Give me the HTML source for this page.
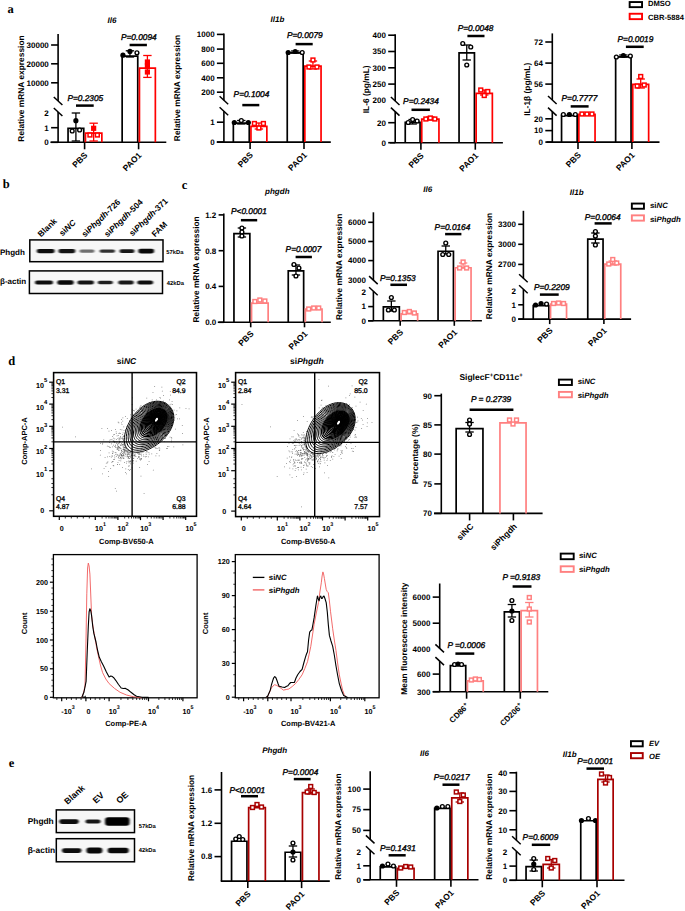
<!DOCTYPE html>
<html><head><meta charset="utf-8"><style>
html,body{margin:0;padding:0;background:#fff;width:685px;height:911px;overflow:hidden}
svg{display:block}
text{font-family:"Liberation Sans", sans-serif;text-rendering:geometricPrecision}
</style></head><body>
<svg width="685" height="911" viewBox="0 0 685 911">
<defs><filter id="bl" x="-30%" y="-80%" width="160%" height="260%"><feGaussianBlur stdDeviation="0.9 0.7"/></filter></defs>
<rect width="685" height="911" fill="#fff"/>
<text x="7.50" y="12.90" font-size="12.5" font-weight="bold" text-anchor="start" fill="#000" style='font-family:"Liberation Serif", serif'>a</text>
<text x="107.50" y="23.00" font-size="8" font-weight="bold" text-anchor="start" fill="#000" font-style="italic">Il6</text>
<line x1="58.10" y1="34.00" x2="58.10" y2="101.00" stroke="#000" stroke-width="1.6" stroke-linecap="butt"/>
<line x1="58.10" y1="112.00" x2="58.10" y2="142.30" stroke="#000" stroke-width="1.6" stroke-linecap="butt"/>
<line x1="53.80" y1="97.00" x2="62.40" y2="105.00" stroke="#000" stroke-width="1.5" stroke-linecap="butt"/>
<line x1="53.80" y1="108.00" x2="62.40" y2="116.00" stroke="#000" stroke-width="1.5" stroke-linecap="butt"/>
<line x1="51.10" y1="45.00" x2="58.10" y2="45.00" stroke="#000" stroke-width="1.6" stroke-linecap="butt"/>
<text x="48.80" y="47.88" font-size="8" font-weight="bold" text-anchor="end" fill="#000">30000</text>
<line x1="51.10" y1="63.80" x2="58.10" y2="63.80" stroke="#000" stroke-width="1.6" stroke-linecap="butt"/>
<text x="48.80" y="66.68" font-size="8" font-weight="bold" text-anchor="end" fill="#000">20000</text>
<line x1="51.10" y1="82.80" x2="58.10" y2="82.80" stroke="#000" stroke-width="1.6" stroke-linecap="butt"/>
<text x="48.80" y="85.68" font-size="8" font-weight="bold" text-anchor="end" fill="#000">10000</text>
<text x="48.80" y="116.38" font-size="8" font-weight="bold" text-anchor="end" fill="#000">2</text>
<line x1="51.10" y1="127.70" x2="58.10" y2="127.70" stroke="#000" stroke-width="1.6" stroke-linecap="butt"/>
<text x="48.80" y="130.58" font-size="8" font-weight="bold" text-anchor="end" fill="#000">1</text>
<line x1="51.10" y1="142.30" x2="58.10" y2="142.30" stroke="#000" stroke-width="1.6" stroke-linecap="butt"/>
<text x="48.80" y="145.18" font-size="8" font-weight="bold" text-anchor="end" fill="#000">0</text>
<line x1="50.40" y1="142.30" x2="166.30" y2="142.30" stroke="#000" stroke-width="1.6" stroke-linecap="butt"/>
<line x1="84.60" y1="142.30" x2="84.60" y2="149.30" stroke="#000" stroke-width="1.6" stroke-linecap="butt"/>
<line x1="138.60" y1="142.30" x2="138.60" y2="149.30" stroke="#000" stroke-width="1.6" stroke-linecap="butt"/>
<path d="M68.05,142.30 V128.35 H83.75 V142.30" stroke="#000" stroke-width="1.7" fill="none"/>
<line x1="75.90" y1="113.00" x2="75.90" y2="141.00" stroke="#000" stroke-width="1.3" stroke-linecap="butt"/>
<line x1="71.70" y1="113.00" x2="80.10" y2="113.00" stroke="#000" stroke-width="1.3" stroke-linecap="butt"/>
<line x1="71.70" y1="141.00" x2="80.10" y2="141.00" stroke="#000" stroke-width="1.3" stroke-linecap="butt"/>
<circle cx="75.90" cy="120.70" r="2.6" fill="#000"/>
<circle cx="72.20" cy="131.00" r="1.90" fill="#fff" stroke="#000" stroke-width="1.4"/>
<circle cx="79.60" cy="130.00" r="1.90" fill="#fff" stroke="#000" stroke-width="1.4"/>
<path d="M85.45,142.30 V133.15 H101.85 V142.30" stroke="#ff0000" stroke-width="1.7" fill="none"/>
<line x1="93.65" y1="123.20" x2="93.65" y2="141.00" stroke="#ff0000" stroke-width="1.3" stroke-linecap="butt"/>
<line x1="89.45" y1="123.20" x2="97.85" y2="123.20" stroke="#ff0000" stroke-width="1.3" stroke-linecap="butt"/>
<line x1="89.45" y1="141.00" x2="97.85" y2="141.00" stroke="#ff0000" stroke-width="1.3" stroke-linecap="butt"/>
<rect x="91.05" y="125.70" width="5.2" height="5.2" fill="#ff0000"/>
<rect x="88.05" y="133.10" width="3.80" height="3.80" fill="#fff" stroke="#ff0000" stroke-width="1.5"/>
<rect x="95.45" y="133.10" width="3.80" height="3.80" fill="#fff" stroke="#ff0000" stroke-width="1.5"/>
<path d="M122.15,142.30 V56.05 H137.75 V142.30" stroke="#000" stroke-width="1.7" fill="none"/>
<line x1="129.95" y1="50.80" x2="129.95" y2="57.00" stroke="#000" stroke-width="1.3" stroke-linecap="butt"/>
<line x1="125.75" y1="50.80" x2="134.15" y2="50.80" stroke="#000" stroke-width="1.3" stroke-linecap="butt"/>
<line x1="125.75" y1="57.00" x2="134.15" y2="57.00" stroke="#000" stroke-width="1.3" stroke-linecap="butt"/>
<circle cx="122.95" cy="55.20" r="2.6" fill="#000"/>
<circle cx="129.95" cy="51.40" r="2.6" fill="#000"/>
<circle cx="136.95" cy="52.80" r="1.90" fill="#fff" stroke="#000" stroke-width="1.4"/>
<path d="M139.45,142.30 V68.05 H155.35 V142.30" stroke="#ff0000" stroke-width="1.7" fill="none"/>
<line x1="147.40" y1="55.50" x2="147.40" y2="77.40" stroke="#ff0000" stroke-width="1.3" stroke-linecap="butt"/>
<line x1="143.20" y1="55.50" x2="151.60" y2="55.50" stroke="#ff0000" stroke-width="1.3" stroke-linecap="butt"/>
<line x1="143.20" y1="77.40" x2="151.60" y2="77.40" stroke="#ff0000" stroke-width="1.3" stroke-linecap="butt"/>
<rect x="144.80" y="59.40" width="5.2" height="5.2" fill="#ff0000"/>
<rect x="144.80" y="63.40" width="5.2" height="5.2" fill="#ff0000"/>
<rect x="144.80" y="69.40" width="5.2" height="5.2" fill="#ff0000"/>
<line x1="76.00" y1="105.60" x2="93.70" y2="105.60" stroke="#000" stroke-width="2.5" stroke-linecap="butt"/>
<text x="67.40" y="101.00" font-size="8.3" font-weight="normal" text-anchor="start" fill="#000" stroke="#000" stroke-width="0.35" font-style="italic">P=0.2305</text>
<line x1="129.60" y1="45.00" x2="146.90" y2="45.00" stroke="#000" stroke-width="2.5" stroke-linecap="butt"/>
<text x="120.90" y="40.10" font-size="8.3" font-weight="normal" text-anchor="start" fill="#000" stroke="#000" stroke-width="0.35" font-style="italic">P=0.0094</text>
<text x="23.92" y="88.50" font-size="8.4" font-weight="bold" text-anchor="middle" fill="#000" transform="rotate(-90 23.92 88.50)">Relative mRNA expression</text>
<text x="88.10" y="155.80" font-size="8.5" font-weight="bold" text-anchor="end" fill="#000" transform="rotate(-45 88.10 155.80)">PBS</text>
<text x="142.10" y="155.80" font-size="8.5" font-weight="bold" text-anchor="end" fill="#000" transform="rotate(-45 142.10 155.80)">PAO1</text>
<text x="270.60" y="22.30" font-size="8" font-weight="bold" text-anchor="start" fill="#000" font-style="italic">Il1b</text>
<line x1="223.90" y1="33.60" x2="223.90" y2="100.30" stroke="#000" stroke-width="1.6" stroke-linecap="butt"/>
<line x1="223.90" y1="111.30" x2="223.90" y2="142.10" stroke="#000" stroke-width="1.6" stroke-linecap="butt"/>
<line x1="219.60" y1="96.30" x2="228.20" y2="104.30" stroke="#000" stroke-width="1.5" stroke-linecap="butt"/>
<line x1="219.60" y1="107.30" x2="228.20" y2="115.30" stroke="#000" stroke-width="1.5" stroke-linecap="butt"/>
<line x1="216.90" y1="34.40" x2="223.90" y2="34.40" stroke="#000" stroke-width="1.6" stroke-linecap="butt"/>
<text x="214.60" y="37.28" font-size="8" font-weight="bold" text-anchor="end" fill="#000">1000</text>
<line x1="216.90" y1="49.10" x2="223.90" y2="49.10" stroke="#000" stroke-width="1.6" stroke-linecap="butt"/>
<text x="214.60" y="51.98" font-size="8" font-weight="bold" text-anchor="end" fill="#000">800</text>
<line x1="216.90" y1="63.30" x2="223.90" y2="63.30" stroke="#000" stroke-width="1.6" stroke-linecap="butt"/>
<text x="214.60" y="66.18" font-size="8" font-weight="bold" text-anchor="end" fill="#000">600</text>
<line x1="216.90" y1="77.80" x2="223.90" y2="77.80" stroke="#000" stroke-width="1.6" stroke-linecap="butt"/>
<text x="214.60" y="80.68" font-size="8" font-weight="bold" text-anchor="end" fill="#000">400</text>
<line x1="216.90" y1="92.20" x2="223.90" y2="92.20" stroke="#000" stroke-width="1.6" stroke-linecap="butt"/>
<text x="214.60" y="95.08" font-size="8" font-weight="bold" text-anchor="end" fill="#000">200</text>
<line x1="216.90" y1="122.20" x2="223.90" y2="122.20" stroke="#000" stroke-width="1.6" stroke-linecap="butt"/>
<text x="214.60" y="125.08" font-size="8" font-weight="bold" text-anchor="end" fill="#000">1</text>
<line x1="216.90" y1="142.10" x2="223.90" y2="142.10" stroke="#000" stroke-width="1.6" stroke-linecap="butt"/>
<text x="214.60" y="144.98" font-size="8" font-weight="bold" text-anchor="end" fill="#000">0</text>
<line x1="216.80" y1="142.10" x2="330.80" y2="142.10" stroke="#000" stroke-width="1.6" stroke-linecap="butt"/>
<line x1="250.10" y1="142.10" x2="250.10" y2="149.10" stroke="#000" stroke-width="1.6" stroke-linecap="butt"/>
<line x1="304.00" y1="142.10" x2="304.00" y2="149.10" stroke="#000" stroke-width="1.6" stroke-linecap="butt"/>
<path d="M233.35,142.10 V123.05 H249.25 V142.10" stroke="#000" stroke-width="1.7" fill="none"/>
<line x1="241.30" y1="120.50" x2="241.30" y2="124.00" stroke="#000" stroke-width="1.3" stroke-linecap="butt"/>
<line x1="237.10" y1="120.50" x2="245.50" y2="120.50" stroke="#000" stroke-width="1.3" stroke-linecap="butt"/>
<line x1="237.10" y1="124.00" x2="245.50" y2="124.00" stroke="#000" stroke-width="1.3" stroke-linecap="butt"/>
<circle cx="234.30" cy="122.50" r="2.6" fill="#000"/>
<circle cx="241.30" cy="120.50" r="1.90" fill="#fff" stroke="#000" stroke-width="1.4"/>
<circle cx="248.30" cy="122.50" r="2.6" fill="#000"/>
<path d="M250.95,142.10 V126.45 H266.85 V142.10" stroke="#ff0000" stroke-width="1.7" fill="none"/>
<line x1="258.90" y1="123.00" x2="258.90" y2="129.00" stroke="#ff0000" stroke-width="1.3" stroke-linecap="butt"/>
<line x1="254.70" y1="123.00" x2="263.10" y2="123.00" stroke="#ff0000" stroke-width="1.3" stroke-linecap="butt"/>
<line x1="254.70" y1="129.00" x2="263.10" y2="129.00" stroke="#ff0000" stroke-width="1.3" stroke-linecap="butt"/>
<rect x="252.50" y="121.60" width="3.80" height="3.80" fill="#fff" stroke="#ff0000" stroke-width="1.5"/>
<rect x="257.00" y="126.10" width="3.80" height="3.80" fill="#fff" stroke="#ff0000" stroke-width="1.5"/>
<rect x="261.50" y="121.60" width="3.80" height="3.80" fill="#fff" stroke="#ff0000" stroke-width="1.5"/>
<path d="M287.25,142.10 V52.85 H303.15 V142.10" stroke="#000" stroke-width="1.7" fill="none"/>
<line x1="295.20" y1="51.00" x2="295.20" y2="53.00" stroke="#000" stroke-width="1.3" stroke-linecap="butt"/>
<line x1="291.00" y1="51.00" x2="299.40" y2="51.00" stroke="#000" stroke-width="1.3" stroke-linecap="butt"/>
<line x1="291.00" y1="53.00" x2="299.40" y2="53.00" stroke="#000" stroke-width="1.3" stroke-linecap="butt"/>
<circle cx="288.20" cy="52.50" r="2.6" fill="#000"/>
<circle cx="295.20" cy="51.50" r="2.6" fill="#000"/>
<circle cx="302.20" cy="52.50" r="1.90" fill="#fff" stroke="#000" stroke-width="1.4"/>
<path d="M304.85,142.10 V66.05 H321.05 V142.10" stroke="#ff0000" stroke-width="1.7" fill="none"/>
<line x1="312.95" y1="61.00" x2="312.95" y2="69.00" stroke="#ff0000" stroke-width="1.3" stroke-linecap="butt"/>
<line x1="308.75" y1="61.00" x2="317.15" y2="61.00" stroke="#ff0000" stroke-width="1.3" stroke-linecap="butt"/>
<line x1="308.75" y1="69.00" x2="317.15" y2="69.00" stroke="#ff0000" stroke-width="1.3" stroke-linecap="butt"/>
<rect x="311.05" y="58.10" width="3.80" height="3.80" fill="#fff" stroke="#ff0000" stroke-width="1.5"/>
<rect x="307.05" y="65.10" width="3.80" height="3.80" fill="#fff" stroke="#ff0000" stroke-width="1.5"/>
<rect x="315.05" y="65.10" width="3.80" height="3.80" fill="#fff" stroke="#ff0000" stroke-width="1.5"/>
<line x1="242.30" y1="105.10" x2="259.30" y2="105.10" stroke="#000" stroke-width="2.5" stroke-linecap="butt"/>
<text x="233.60" y="96.70" font-size="8.3" font-weight="normal" text-anchor="start" fill="#000" stroke="#000" stroke-width="0.35" font-style="italic">P=0.1004</text>
<line x1="295.60" y1="44.10" x2="312.70" y2="44.10" stroke="#000" stroke-width="2.5" stroke-linecap="butt"/>
<text x="286.90" y="37.60" font-size="8.3" font-weight="normal" text-anchor="start" fill="#000" stroke="#000" stroke-width="0.35" font-style="italic">P=0.0079</text>
<text x="180.42" y="88.00" font-size="8.4" font-weight="bold" text-anchor="middle" fill="#000" transform="rotate(-90 180.42 88.00)">Relative mRNA expression</text>
<text x="253.60" y="155.60" font-size="8.5" font-weight="bold" text-anchor="end" fill="#000" transform="rotate(-45 253.60 155.60)">PBS</text>
<text x="307.50" y="155.60" font-size="8.5" font-weight="bold" text-anchor="end" fill="#000" transform="rotate(-45 307.50 155.60)">PAO1</text>
<line x1="395.20" y1="34.20" x2="395.20" y2="101.00" stroke="#000" stroke-width="1.6" stroke-linecap="butt"/>
<line x1="395.20" y1="111.60" x2="395.20" y2="142.70" stroke="#000" stroke-width="1.6" stroke-linecap="butt"/>
<line x1="390.90" y1="97.00" x2="399.50" y2="105.00" stroke="#000" stroke-width="1.5" stroke-linecap="butt"/>
<line x1="390.90" y1="107.60" x2="399.50" y2="115.60" stroke="#000" stroke-width="1.5" stroke-linecap="butt"/>
<line x1="388.20" y1="35.20" x2="395.20" y2="35.20" stroke="#000" stroke-width="1.6" stroke-linecap="butt"/>
<text x="385.90" y="38.08" font-size="8" font-weight="bold" text-anchor="end" fill="#000">400</text>
<line x1="388.20" y1="51.50" x2="395.20" y2="51.50" stroke="#000" stroke-width="1.6" stroke-linecap="butt"/>
<text x="385.90" y="54.38" font-size="8" font-weight="bold" text-anchor="end" fill="#000">350</text>
<line x1="388.20" y1="67.80" x2="395.20" y2="67.80" stroke="#000" stroke-width="1.6" stroke-linecap="butt"/>
<text x="385.90" y="70.68" font-size="8" font-weight="bold" text-anchor="end" fill="#000">300</text>
<line x1="388.20" y1="84.10" x2="395.20" y2="84.10" stroke="#000" stroke-width="1.6" stroke-linecap="butt"/>
<text x="385.90" y="86.98" font-size="8" font-weight="bold" text-anchor="end" fill="#000">250</text>
<text x="385.90" y="103.28" font-size="8" font-weight="bold" text-anchor="end" fill="#000">200</text>
<line x1="388.20" y1="122.70" x2="395.20" y2="122.70" stroke="#000" stroke-width="1.6" stroke-linecap="butt"/>
<text x="385.90" y="125.58" font-size="8" font-weight="bold" text-anchor="end" fill="#000">20</text>
<line x1="388.20" y1="142.70" x2="395.20" y2="142.70" stroke="#000" stroke-width="1.6" stroke-linecap="butt"/>
<text x="385.90" y="145.58" font-size="8" font-weight="bold" text-anchor="end" fill="#000">0</text>
<line x1="389.90" y1="142.70" x2="502.90" y2="142.70" stroke="#000" stroke-width="1.6" stroke-linecap="butt"/>
<line x1="420.90" y1="142.70" x2="420.90" y2="149.70" stroke="#000" stroke-width="1.6" stroke-linecap="butt"/>
<line x1="475.30" y1="142.70" x2="475.30" y2="149.70" stroke="#000" stroke-width="1.6" stroke-linecap="butt"/>
<path d="M405.25,142.70 V122.45 H420.05 V142.70" stroke="#000" stroke-width="1.7" fill="none"/>
<line x1="412.65" y1="119.50" x2="412.65" y2="124.00" stroke="#000" stroke-width="1.3" stroke-linecap="butt"/>
<line x1="408.45" y1="119.50" x2="416.85" y2="119.50" stroke="#000" stroke-width="1.3" stroke-linecap="butt"/>
<line x1="408.45" y1="124.00" x2="416.85" y2="124.00" stroke="#000" stroke-width="1.3" stroke-linecap="butt"/>
<circle cx="408.15" cy="122.50" r="1.90" fill="#fff" stroke="#000" stroke-width="1.4"/>
<circle cx="412.65" cy="119.50" r="1.90" fill="#fff" stroke="#000" stroke-width="1.4"/>
<circle cx="417.15" cy="121.00" r="1.90" fill="#fff" stroke="#000" stroke-width="1.4"/>
<path d="M421.75,142.70 V119.05 H438.95 V142.70" stroke="#ff0000" stroke-width="1.7" fill="none"/>
<line x1="430.35" y1="117.00" x2="430.35" y2="120.00" stroke="#ff0000" stroke-width="1.3" stroke-linecap="butt"/>
<line x1="426.15" y1="117.00" x2="434.55" y2="117.00" stroke="#ff0000" stroke-width="1.3" stroke-linecap="butt"/>
<line x1="426.15" y1="120.00" x2="434.55" y2="120.00" stroke="#ff0000" stroke-width="1.3" stroke-linecap="butt"/>
<rect x="423.95" y="117.10" width="3.80" height="3.80" fill="#fff" stroke="#ff0000" stroke-width="1.5"/>
<rect x="428.45" y="116.10" width="3.80" height="3.80" fill="#fff" stroke="#ff0000" stroke-width="1.5"/>
<rect x="432.95" y="117.10" width="3.80" height="3.80" fill="#fff" stroke="#ff0000" stroke-width="1.5"/>
<path d="M459.05,142.70 V52.85 H474.45 V142.70" stroke="#000" stroke-width="1.7" fill="none"/>
<line x1="466.75" y1="45.00" x2="466.75" y2="60.00" stroke="#000" stroke-width="1.3" stroke-linecap="butt"/>
<line x1="462.55" y1="45.00" x2="470.95" y2="45.00" stroke="#000" stroke-width="1.3" stroke-linecap="butt"/>
<line x1="462.55" y1="60.00" x2="470.95" y2="60.00" stroke="#000" stroke-width="1.3" stroke-linecap="butt"/>
<circle cx="462.75" cy="43.50" r="1.90" fill="#fff" stroke="#000" stroke-width="1.4"/>
<circle cx="470.75" cy="47.00" r="1.90" fill="#fff" stroke="#000" stroke-width="1.4"/>
<circle cx="466.75" cy="65.00" r="1.90" fill="#fff" stroke="#000" stroke-width="1.4"/>
<path d="M476.15,142.70 V93.35 H492.35 V142.70" stroke="#ff0000" stroke-width="1.7" fill="none"/>
<line x1="484.25" y1="90.00" x2="484.25" y2="95.00" stroke="#ff0000" stroke-width="1.3" stroke-linecap="butt"/>
<line x1="480.05" y1="90.00" x2="488.45" y2="90.00" stroke="#ff0000" stroke-width="1.3" stroke-linecap="butt"/>
<line x1="480.05" y1="95.00" x2="488.45" y2="95.00" stroke="#ff0000" stroke-width="1.3" stroke-linecap="butt"/>
<rect x="478.85" y="88.10" width="3.80" height="3.80" fill="#fff" stroke="#ff0000" stroke-width="1.5"/>
<rect x="485.85" y="89.60" width="3.80" height="3.80" fill="#fff" stroke="#ff0000" stroke-width="1.5"/>
<rect x="482.35" y="93.60" width="3.80" height="3.80" fill="#fff" stroke="#ff0000" stroke-width="1.5"/>
<line x1="411.50" y1="109.80" x2="429.90" y2="109.80" stroke="#000" stroke-width="2.5" stroke-linecap="butt"/>
<text x="403.10" y="104.30" font-size="8.3" font-weight="normal" text-anchor="start" fill="#000" stroke="#000" stroke-width="0.35" font-style="italic">P=0.2434</text>
<line x1="467.40" y1="36.00" x2="484.50" y2="36.00" stroke="#000" stroke-width="2.5" stroke-linecap="butt"/>
<text x="457.70" y="31.00" font-size="8.3" font-weight="normal" text-anchor="start" fill="#000" stroke="#000" stroke-width="0.35" font-style="italic">P=0.0048</text>
<text x="368.52" y="89.30" font-size="8.4" font-weight="bold" text-anchor="middle" fill="#000" transform="rotate(-90 368.52 89.30)">IL-6 (pg/mL)</text>
<text x="424.40" y="156.20" font-size="8.5" font-weight="bold" text-anchor="end" fill="#000" transform="rotate(-45 424.40 156.20)">PBS</text>
<text x="478.80" y="156.20" font-size="8.5" font-weight="bold" text-anchor="end" fill="#000" transform="rotate(-45 478.80 156.20)">PAO1</text>
<line x1="552.30" y1="33.40" x2="552.30" y2="100.00" stroke="#000" stroke-width="1.6" stroke-linecap="butt"/>
<line x1="552.30" y1="111.60" x2="552.30" y2="142.10" stroke="#000" stroke-width="1.6" stroke-linecap="butt"/>
<line x1="548.00" y1="96.00" x2="556.60" y2="104.00" stroke="#000" stroke-width="1.5" stroke-linecap="butt"/>
<line x1="548.00" y1="107.60" x2="556.60" y2="115.60" stroke="#000" stroke-width="1.5" stroke-linecap="butt"/>
<line x1="545.30" y1="42.00" x2="552.30" y2="42.00" stroke="#000" stroke-width="1.6" stroke-linecap="butt"/>
<text x="543.00" y="44.88" font-size="8" font-weight="bold" text-anchor="end" fill="#000">72</text>
<line x1="545.30" y1="63.10" x2="552.30" y2="63.10" stroke="#000" stroke-width="1.6" stroke-linecap="butt"/>
<text x="543.00" y="65.98" font-size="8" font-weight="bold" text-anchor="end" fill="#000">64</text>
<line x1="545.30" y1="84.10" x2="552.30" y2="84.10" stroke="#000" stroke-width="1.6" stroke-linecap="butt"/>
<text x="543.00" y="86.98" font-size="8" font-weight="bold" text-anchor="end" fill="#000">56</text>
<line x1="545.30" y1="118.80" x2="552.30" y2="118.80" stroke="#000" stroke-width="1.6" stroke-linecap="butt"/>
<text x="543.00" y="121.68" font-size="8" font-weight="bold" text-anchor="end" fill="#000">20</text>
<line x1="545.30" y1="130.60" x2="552.30" y2="130.60" stroke="#000" stroke-width="1.6" stroke-linecap="butt"/>
<text x="543.00" y="133.48" font-size="8" font-weight="bold" text-anchor="end" fill="#000">10</text>
<line x1="545.30" y1="142.10" x2="552.30" y2="142.10" stroke="#000" stroke-width="1.6" stroke-linecap="butt"/>
<text x="543.00" y="144.98" font-size="8" font-weight="bold" text-anchor="end" fill="#000">0</text>
<line x1="546.50" y1="142.10" x2="659.50" y2="142.10" stroke="#000" stroke-width="1.6" stroke-linecap="butt"/>
<line x1="578.00" y1="142.10" x2="578.00" y2="149.10" stroke="#000" stroke-width="1.6" stroke-linecap="butt"/>
<line x1="631.90" y1="142.10" x2="631.90" y2="149.10" stroke="#000" stroke-width="1.6" stroke-linecap="butt"/>
<path d="M561.55,142.10 V115.65 H577.15 V142.10" stroke="#000" stroke-width="1.7" fill="none"/>
<circle cx="563.35" cy="114.50" r="1.90" fill="#fff" stroke="#000" stroke-width="1.4"/>
<circle cx="569.35" cy="114.50" r="2.6" fill="#000"/>
<circle cx="575.35" cy="114.50" r="1.90" fill="#fff" stroke="#000" stroke-width="1.4"/>
<path d="M578.85,142.10 V114.35 H595.05 V142.10" stroke="#ff0000" stroke-width="1.7" fill="none"/>
<rect x="580.05" y="112.10" width="3.80" height="3.80" fill="#fff" stroke="#ff0000" stroke-width="1.5"/>
<rect x="585.05" y="112.10" width="3.80" height="3.80" fill="#fff" stroke="#ff0000" stroke-width="1.5"/>
<rect x="590.05" y="112.10" width="3.80" height="3.80" fill="#fff" stroke="#ff0000" stroke-width="1.5"/>
<path d="M615.65,142.10 V56.85 H631.05 V142.10" stroke="#000" stroke-width="1.7" fill="none"/>
<line x1="623.35" y1="55.00" x2="623.35" y2="57.00" stroke="#000" stroke-width="1.3" stroke-linecap="butt"/>
<line x1="619.15" y1="55.00" x2="627.55" y2="55.00" stroke="#000" stroke-width="1.3" stroke-linecap="butt"/>
<line x1="619.15" y1="57.00" x2="627.55" y2="57.00" stroke="#000" stroke-width="1.3" stroke-linecap="butt"/>
<circle cx="616.35" cy="57.00" r="1.90" fill="#fff" stroke="#000" stroke-width="1.4"/>
<circle cx="623.35" cy="55.50" r="2.6" fill="#000"/>
<circle cx="630.35" cy="56.00" r="1.90" fill="#fff" stroke="#000" stroke-width="1.4"/>
<path d="M632.75,142.10 V84.45 H648.65 V142.10" stroke="#ff0000" stroke-width="1.7" fill="none"/>
<line x1="640.70" y1="79.00" x2="640.70" y2="88.00" stroke="#ff0000" stroke-width="1.3" stroke-linecap="butt"/>
<line x1="636.50" y1="79.00" x2="644.90" y2="79.00" stroke="#ff0000" stroke-width="1.3" stroke-linecap="butt"/>
<line x1="636.50" y1="88.00" x2="644.90" y2="88.00" stroke="#ff0000" stroke-width="1.3" stroke-linecap="butt"/>
<rect x="638.80" y="74.60" width="3.80" height="3.80" fill="#fff" stroke="#ff0000" stroke-width="1.5"/>
<rect x="635.30" y="84.10" width="3.80" height="3.80" fill="#fff" stroke="#ff0000" stroke-width="1.5"/>
<rect x="642.30" y="83.10" width="3.80" height="3.80" fill="#fff" stroke="#ff0000" stroke-width="1.5"/>
<line x1="570.70" y1="106.40" x2="588.60" y2="106.40" stroke="#000" stroke-width="2.5" stroke-linecap="butt"/>
<text x="561.50" y="101.20" font-size="8.3" font-weight="normal" text-anchor="start" fill="#000" stroke="#000" stroke-width="0.35" font-style="italic">P=0.7777</text>
<line x1="625.90" y1="46.80" x2="643.70" y2="46.80" stroke="#000" stroke-width="2.5" stroke-linecap="butt"/>
<text x="617.50" y="42.00" font-size="8.3" font-weight="normal" text-anchor="start" fill="#000" stroke="#000" stroke-width="0.35" font-style="italic">P=0.0019</text>
<text x="530.32" y="89.30" font-size="8.4" font-weight="bold" text-anchor="middle" fill="#000" transform="rotate(-90 530.32 89.30)">IL-1β (pg/mL)</text>
<text x="581.50" y="155.60" font-size="8.5" font-weight="bold" text-anchor="end" fill="#000" transform="rotate(-45 581.50 155.60)">PBS</text>
<text x="635.40" y="155.60" font-size="8.5" font-weight="bold" text-anchor="end" fill="#000" transform="rotate(-45 635.40 155.60)">PAO1</text>
<rect x="629.65" y="2.05" width="12.40" height="5.10" stroke="#000" stroke-width="1.9" fill="none"/>
<text x="648.00" y="6.00" font-size="7.6" font-weight="bold" text-anchor="start" fill="#000">DMSO</text>
<rect x="629.65" y="13.75" width="12.40" height="5.40" stroke="#ff0000" stroke-width="1.9" fill="none"/>
<text x="648.00" y="20.00" font-size="7.6" font-weight="bold" text-anchor="start" fill="#000">CBR-5884</text>
<text x="2.70" y="187.70" font-size="12.5" font-weight="bold" text-anchor="start" fill="#000" style='font-family:"Liberation Serif", serif'>b</text>
<rect x="29.80" y="239.90" width="133.20" height="21.80" stroke="#000" stroke-width="1.5" fill="#f7f7f7"/>
<rect x="36.70" y="249.00" width="18.00" height="4.20" rx="2.10" fill="#000" fill-opacity="0.95" filter="url(#bl)"/>
<rect x="58.40" y="249.00" width="17.00" height="4.20" rx="2.10" fill="#000" fill-opacity="0.92" filter="url(#bl)"/>
<rect x="79.50" y="249.40" width="15.00" height="3.40" rx="1.70" fill="#000" fill-opacity="0.55" filter="url(#bl)"/>
<rect x="99.55" y="249.40" width="15.50" height="3.40" rx="1.70" fill="#000" fill-opacity="0.8" filter="url(#bl)"/>
<rect x="119.50" y="249.20" width="15.00" height="3.80" rx="1.90" fill="#000" fill-opacity="0.9" filter="url(#bl)"/>
<rect x="138.20" y="248.70" width="16.00" height="4.80" rx="2.40" fill="#000" fill-opacity="0.97" filter="url(#bl)"/>
<rect x="29.40" y="270.90" width="133.10" height="22.60" stroke="#000" stroke-width="1.5" fill="#f7f7f7"/>
<rect x="35.00" y="280.50" width="18.00" height="4.00" rx="2.00" fill="#000" fill-opacity="0.95" filter="url(#bl)"/>
<rect x="57.25" y="280.30" width="16.50" height="4.40" rx="2.20" fill="#000" fill-opacity="0.97" filter="url(#bl)"/>
<rect x="77.45" y="280.50" width="16.50" height="4.00" rx="2.00" fill="#000" fill-opacity="0.92" filter="url(#bl)"/>
<rect x="97.80" y="280.70" width="15.00" height="3.60" rx="1.80" fill="#000" fill-opacity="0.88" filter="url(#bl)"/>
<rect x="118.25" y="280.60" width="15.50" height="3.80" rx="1.90" fill="#000" fill-opacity="0.9" filter="url(#bl)"/>
<rect x="137.30" y="280.40" width="15.80" height="4.20" rx="2.10" fill="#000" fill-opacity="0.95" filter="url(#bl)"/>
<text x="0.00" y="254.50" font-size="8" font-weight="bold" text-anchor="start" fill="#000">Phgdh</text>
<text x="0.00" y="283.50" font-size="8" font-weight="bold" text-anchor="start" fill="#000">β-actin</text>
<text x="166.30" y="254.00" font-size="5.8" font-weight="bold" text-anchor="start" fill="#000">57kDa</text>
<text x="166.80" y="284.70" font-size="5.8" font-weight="bold" text-anchor="start" fill="#000">42kDa</text>
<text x="41.00" y="237.50" font-size="8.4" font-weight="bold" text-anchor="start" fill="#000" transform="rotate(-44 41.00 237.50)">Blank</text>
<text x="62.50" y="236.50" font-size="8.4" font-weight="bold" text-anchor="start" fill="#000" transform="rotate(-44 62.50 236.50)">si<tspan font-style="italic">NC</tspan></text>
<text x="85.00" y="237.50" font-size="8.4" font-weight="bold" text-anchor="start" fill="#000" transform="rotate(-44 85.00 237.50)">si<tspan font-style="italic">Phgdh</tspan>-726</text>
<text x="107.50" y="237.50" font-size="8.4" font-weight="bold" text-anchor="start" fill="#000" transform="rotate(-44 107.50 237.50)">si<tspan font-style="italic">Phgdh</tspan>-504</text>
<text x="132.50" y="236.50" font-size="8.4" font-weight="bold" text-anchor="start" fill="#000" transform="rotate(-44 132.50 236.50)">si<tspan font-style="italic">Phgdh</tspan>-371</text>
<text x="155.00" y="237.50" font-size="8.4" font-weight="bold" text-anchor="start" fill="#000" transform="rotate(-44 155.00 237.50)">FAM</text>
<text x="181.70" y="189.00" font-size="12.5" font-weight="bold" text-anchor="start" fill="#000" style='font-family:"Liberation Serif", serif'>c</text>
<text x="265.10" y="193.90" font-size="8" font-weight="bold" text-anchor="start" fill="#000" font-style="italic">phgdh</text>
<line x1="223.80" y1="213.60" x2="223.80" y2="322.30" stroke="#000" stroke-width="1.6" stroke-linecap="butt"/>
<line x1="218.60" y1="214.90" x2="223.80" y2="214.90" stroke="#000" stroke-width="1.6" stroke-linecap="butt"/>
<text x="216.30" y="217.78" font-size="8" font-weight="bold" text-anchor="end" fill="#000">1.2</text>
<line x1="218.60" y1="250.70" x2="223.80" y2="250.70" stroke="#000" stroke-width="1.6" stroke-linecap="butt"/>
<text x="216.30" y="253.58" font-size="8" font-weight="bold" text-anchor="end" fill="#000">0.8</text>
<line x1="218.60" y1="286.40" x2="223.80" y2="286.40" stroke="#000" stroke-width="1.6" stroke-linecap="butt"/>
<text x="216.30" y="289.28" font-size="8" font-weight="bold" text-anchor="end" fill="#000">0.4</text>
<line x1="218.60" y1="322.30" x2="223.80" y2="322.30" stroke="#000" stroke-width="1.6" stroke-linecap="butt"/>
<text x="216.30" y="325.18" font-size="8" font-weight="bold" text-anchor="end" fill="#000">0.0</text>
<line x1="217.80" y1="322.30" x2="330.80" y2="322.30" stroke="#000" stroke-width="1.6" stroke-linecap="butt"/>
<line x1="250.70" y1="322.30" x2="250.70" y2="327.30" stroke="#000" stroke-width="1.6" stroke-linecap="butt"/>
<line x1="304.50" y1="322.30" x2="304.50" y2="327.30" stroke="#000" stroke-width="1.6" stroke-linecap="butt"/>
<path d="M233.95,322.30 V233.65 H249.85 V322.30" stroke="#000" stroke-width="1.7" fill="none"/>
<line x1="241.90" y1="228.00" x2="241.90" y2="237.00" stroke="#000" stroke-width="1.3" stroke-linecap="butt"/>
<line x1="237.70" y1="228.00" x2="246.10" y2="228.00" stroke="#000" stroke-width="1.3" stroke-linecap="butt"/>
<line x1="237.70" y1="237.00" x2="246.10" y2="237.00" stroke="#000" stroke-width="1.3" stroke-linecap="butt"/>
<circle cx="241.90" cy="228.00" r="1.90" fill="#fff" stroke="#000" stroke-width="1.4"/>
<circle cx="241.90" cy="232.00" r="1.90" fill="#fff" stroke="#000" stroke-width="1.4"/>
<circle cx="241.90" cy="236.00" r="1.90" fill="#fff" stroke="#000" stroke-width="1.4"/>
<path d="M251.55,322.30 V303.05 H268.15 V322.30" stroke="#ff8080" stroke-width="1.7" fill="none"/>
<rect x="252.95" y="299.60" width="3.80" height="3.80" fill="#fff" stroke="#ff8080" stroke-width="1.5"/>
<rect x="257.95" y="298.10" width="3.80" height="3.80" fill="#fff" stroke="#ff8080" stroke-width="1.5"/>
<rect x="262.95" y="299.10" width="3.80" height="3.80" fill="#fff" stroke="#ff8080" stroke-width="1.5"/>
<path d="M288.25,322.30 V270.95 H303.65 V322.30" stroke="#000" stroke-width="1.7" fill="none"/>
<line x1="295.95" y1="265.00" x2="295.95" y2="275.00" stroke="#000" stroke-width="1.3" stroke-linecap="butt"/>
<line x1="291.75" y1="265.00" x2="300.15" y2="265.00" stroke="#000" stroke-width="1.3" stroke-linecap="butt"/>
<line x1="291.75" y1="275.00" x2="300.15" y2="275.00" stroke="#000" stroke-width="1.3" stroke-linecap="butt"/>
<circle cx="293.95" cy="264.50" r="1.90" fill="#fff" stroke="#000" stroke-width="1.4"/>
<circle cx="298.95" cy="268.00" r="1.90" fill="#fff" stroke="#000" stroke-width="1.4"/>
<circle cx="295.95" cy="276.00" r="1.90" fill="#fff" stroke="#000" stroke-width="1.4"/>
<path d="M305.35,322.30 V309.05 H322.05 V322.30" stroke="#ff8080" stroke-width="1.7" fill="none"/>
<rect x="306.80" y="307.10" width="3.80" height="3.80" fill="#fff" stroke="#ff8080" stroke-width="1.5"/>
<rect x="311.80" y="306.10" width="3.80" height="3.80" fill="#fff" stroke="#ff8080" stroke-width="1.5"/>
<rect x="316.80" y="306.10" width="3.80" height="3.80" fill="#fff" stroke="#ff8080" stroke-width="1.5"/>
<line x1="240.90" y1="220.20" x2="257.20" y2="220.20" stroke="#000" stroke-width="2.5" stroke-linecap="butt"/>
<text x="231.00" y="214.40" font-size="8.3" font-weight="normal" text-anchor="start" fill="#000" stroke="#000" stroke-width="0.35" font-style="italic">P&lt;0.0001</text>
<line x1="295.60" y1="257.00" x2="311.90" y2="257.00" stroke="#000" stroke-width="2.5" stroke-linecap="butt"/>
<text x="285.60" y="251.70" font-size="8.3" font-weight="normal" text-anchor="start" fill="#000" stroke="#000" stroke-width="0.35" font-style="italic">P=0.0007</text>
<text x="199.32" y="269.40" font-size="8.4" font-weight="bold" text-anchor="middle" fill="#000" transform="rotate(-90 199.32 269.40)">Relative mRNA expression</text>
<text x="254.20" y="334.30" font-size="8.5" font-weight="bold" text-anchor="end" fill="#000" transform="rotate(-45 254.20 334.30)">PBS</text>
<text x="308.00" y="334.30" font-size="8.5" font-weight="bold" text-anchor="end" fill="#000" transform="rotate(-45 308.00 334.30)">PAO1</text>
<text x="423.30" y="192.00" font-size="8" font-weight="bold" text-anchor="start" fill="#000" font-style="italic">Il6</text>
<line x1="373.40" y1="212.30" x2="373.40" y2="280.10" stroke="#000" stroke-width="1.6" stroke-linecap="butt"/>
<line x1="373.40" y1="291.30" x2="373.40" y2="320.80" stroke="#000" stroke-width="1.6" stroke-linecap="butt"/>
<line x1="369.10" y1="276.10" x2="377.70" y2="284.10" stroke="#000" stroke-width="1.5" stroke-linecap="butt"/>
<line x1="369.10" y1="287.30" x2="377.70" y2="295.30" stroke="#000" stroke-width="1.5" stroke-linecap="butt"/>
<line x1="368.20" y1="222.30" x2="373.40" y2="222.30" stroke="#000" stroke-width="1.6" stroke-linecap="butt"/>
<text x="365.90" y="225.18" font-size="8" font-weight="bold" text-anchor="end" fill="#000">6000</text>
<line x1="368.20" y1="241.50" x2="373.40" y2="241.50" stroke="#000" stroke-width="1.6" stroke-linecap="butt"/>
<text x="365.90" y="244.38" font-size="8" font-weight="bold" text-anchor="end" fill="#000">5000</text>
<line x1="368.20" y1="260.60" x2="373.40" y2="260.60" stroke="#000" stroke-width="1.6" stroke-linecap="butt"/>
<text x="365.90" y="263.48" font-size="8" font-weight="bold" text-anchor="end" fill="#000">4000</text>
<text x="365.90" y="282.68" font-size="8" font-weight="bold" text-anchor="end" fill="#000">3000</text>
<text x="365.90" y="295.28" font-size="8" font-weight="bold" text-anchor="end" fill="#000">2</text>
<line x1="368.20" y1="306.60" x2="373.40" y2="306.60" stroke="#000" stroke-width="1.6" stroke-linecap="butt"/>
<text x="365.90" y="309.48" font-size="8" font-weight="bold" text-anchor="end" fill="#000">1</text>
<line x1="368.20" y1="320.80" x2="373.40" y2="320.80" stroke="#000" stroke-width="1.6" stroke-linecap="butt"/>
<text x="365.90" y="323.68" font-size="8" font-weight="bold" text-anchor="end" fill="#000">0</text>
<line x1="368.10" y1="320.80" x2="481.90" y2="320.80" stroke="#000" stroke-width="1.6" stroke-linecap="butt"/>
<line x1="400.20" y1="320.80" x2="400.20" y2="325.80" stroke="#000" stroke-width="1.6" stroke-linecap="butt"/>
<line x1="454.30" y1="320.80" x2="454.30" y2="325.80" stroke="#000" stroke-width="1.6" stroke-linecap="butt"/>
<path d="M383.35,320.80 V306.95 H399.35 V320.80" stroke="#000" stroke-width="1.7" fill="none"/>
<line x1="391.35" y1="301.00" x2="391.35" y2="311.00" stroke="#000" stroke-width="1.3" stroke-linecap="butt"/>
<line x1="387.15" y1="301.00" x2="395.55" y2="301.00" stroke="#000" stroke-width="1.3" stroke-linecap="butt"/>
<line x1="387.15" y1="311.00" x2="395.55" y2="311.00" stroke="#000" stroke-width="1.3" stroke-linecap="butt"/>
<circle cx="391.35" cy="297.50" r="1.90" fill="#fff" stroke="#000" stroke-width="1.4"/>
<circle cx="388.35" cy="310.00" r="1.90" fill="#fff" stroke="#000" stroke-width="1.4"/>
<circle cx="394.35" cy="310.00" r="1.90" fill="#fff" stroke="#000" stroke-width="1.4"/>
<path d="M401.05,320.80 V313.75 H417.65 V320.80" stroke="#ff8080" stroke-width="1.7" fill="none"/>
<rect x="402.45" y="310.60" width="3.80" height="3.80" fill="#fff" stroke="#ff8080" stroke-width="1.5"/>
<rect x="407.45" y="309.60" width="3.80" height="3.80" fill="#fff" stroke="#ff8080" stroke-width="1.5"/>
<rect x="412.45" y="311.10" width="3.80" height="3.80" fill="#fff" stroke="#ff8080" stroke-width="1.5"/>
<path d="M438.05,320.80 V251.25 H453.45 V320.80" stroke="#000" stroke-width="1.7" fill="none"/>
<line x1="445.75" y1="246.00" x2="445.75" y2="254.00" stroke="#000" stroke-width="1.3" stroke-linecap="butt"/>
<line x1="441.55" y1="246.00" x2="449.95" y2="246.00" stroke="#000" stroke-width="1.3" stroke-linecap="butt"/>
<line x1="441.55" y1="254.00" x2="449.95" y2="254.00" stroke="#000" stroke-width="1.3" stroke-linecap="butt"/>
<circle cx="445.75" cy="243.00" r="1.90" fill="#fff" stroke="#000" stroke-width="1.4"/>
<circle cx="442.75" cy="254.50" r="1.90" fill="#fff" stroke="#000" stroke-width="1.4"/>
<circle cx="448.75" cy="254.50" r="1.90" fill="#fff" stroke="#000" stroke-width="1.4"/>
<path d="M455.15,320.80 V267.75 H471.05 V320.80" stroke="#ff8080" stroke-width="1.7" fill="none"/>
<line x1="463.10" y1="263.00" x2="463.10" y2="268.00" stroke="#ff8080" stroke-width="1.3" stroke-linecap="butt"/>
<line x1="458.90" y1="263.00" x2="467.30" y2="263.00" stroke="#ff8080" stroke-width="1.3" stroke-linecap="butt"/>
<line x1="458.90" y1="268.00" x2="467.30" y2="268.00" stroke="#ff8080" stroke-width="1.3" stroke-linecap="butt"/>
<rect x="461.20" y="260.10" width="3.80" height="3.80" fill="#fff" stroke="#ff8080" stroke-width="1.5"/>
<rect x="457.70" y="266.10" width="3.80" height="3.80" fill="#fff" stroke="#ff8080" stroke-width="1.5"/>
<rect x="464.70" y="266.10" width="3.80" height="3.80" fill="#fff" stroke="#ff8080" stroke-width="1.5"/>
<line x1="390.40" y1="284.80" x2="407.00" y2="284.80" stroke="#000" stroke-width="2.5" stroke-linecap="butt"/>
<text x="379.90" y="281.10" font-size="8.3" font-weight="normal" text-anchor="start" fill="#000" stroke="#000" stroke-width="0.35" font-style="italic">P=0.1353</text>
<line x1="445.10" y1="234.10" x2="461.40" y2="234.10" stroke="#000" stroke-width="2.5" stroke-linecap="butt"/>
<text x="434.60" y="230.20" font-size="8.3" font-weight="normal" text-anchor="start" fill="#000" stroke="#000" stroke-width="0.35" font-style="italic">P=0.0164</text>
<text x="342.22" y="266.80" font-size="8.4" font-weight="bold" text-anchor="middle" fill="#000" transform="rotate(-90 342.22 266.80)">Relative mRNA expression</text>
<text x="403.70" y="332.80" font-size="8.5" font-weight="bold" text-anchor="end" fill="#000" transform="rotate(-45 403.70 332.80)">PBS</text>
<text x="457.80" y="332.80" font-size="8.5" font-weight="bold" text-anchor="end" fill="#000" transform="rotate(-45 457.80 332.80)">PAO1</text>
<text x="569.80" y="194.90" font-size="8" font-weight="bold" text-anchor="start" fill="#000" font-style="italic">Il1b</text>
<line x1="523.40" y1="210.80" x2="523.40" y2="278.30" stroke="#000" stroke-width="1.6" stroke-linecap="butt"/>
<line x1="523.40" y1="289.30" x2="523.40" y2="319.10" stroke="#000" stroke-width="1.6" stroke-linecap="butt"/>
<line x1="519.10" y1="274.30" x2="527.70" y2="282.30" stroke="#000" stroke-width="1.5" stroke-linecap="butt"/>
<line x1="519.10" y1="285.30" x2="527.70" y2="293.30" stroke="#000" stroke-width="1.5" stroke-linecap="butt"/>
<line x1="518.20" y1="224.30" x2="523.40" y2="224.30" stroke="#000" stroke-width="1.6" stroke-linecap="butt"/>
<text x="515.90" y="227.18" font-size="8" font-weight="bold" text-anchor="end" fill="#000">3300</text>
<line x1="518.20" y1="244.30" x2="523.40" y2="244.30" stroke="#000" stroke-width="1.6" stroke-linecap="butt"/>
<text x="515.90" y="247.18" font-size="8" font-weight="bold" text-anchor="end" fill="#000">3000</text>
<line x1="518.20" y1="264.40" x2="523.40" y2="264.40" stroke="#000" stroke-width="1.6" stroke-linecap="butt"/>
<text x="515.90" y="267.28" font-size="8" font-weight="bold" text-anchor="end" fill="#000">2700</text>
<text x="515.90" y="293.58" font-size="8" font-weight="bold" text-anchor="end" fill="#000">2</text>
<line x1="518.20" y1="304.80" x2="523.40" y2="304.80" stroke="#000" stroke-width="1.6" stroke-linecap="butt"/>
<text x="515.90" y="307.68" font-size="8" font-weight="bold" text-anchor="end" fill="#000">1</text>
<line x1="518.20" y1="319.10" x2="523.40" y2="319.10" stroke="#000" stroke-width="1.6" stroke-linecap="butt"/>
<text x="515.90" y="321.98" font-size="8" font-weight="bold" text-anchor="end" fill="#000">0</text>
<line x1="518.30" y1="319.10" x2="631.10" y2="319.10" stroke="#000" stroke-width="1.6" stroke-linecap="butt"/>
<line x1="549.70" y1="319.10" x2="549.70" y2="324.10" stroke="#000" stroke-width="1.6" stroke-linecap="butt"/>
<line x1="603.90" y1="319.10" x2="603.90" y2="324.10" stroke="#000" stroke-width="1.6" stroke-linecap="butt"/>
<path d="M533.25,319.10 V305.65 H548.85 V319.10" stroke="#000" stroke-width="1.7" fill="none"/>
<circle cx="535.55" cy="305.00" r="2.6" fill="#000"/>
<circle cx="541.05" cy="303.50" r="2.6" fill="#000"/>
<circle cx="546.55" cy="304.00" r="1.90" fill="#fff" stroke="#000" stroke-width="1.4"/>
<path d="M550.55,319.10 V304.15 H566.55 V319.10" stroke="#ff8080" stroke-width="1.7" fill="none"/>
<rect x="551.65" y="301.60" width="3.80" height="3.80" fill="#fff" stroke="#ff8080" stroke-width="1.5"/>
<rect x="556.65" y="301.10" width="3.80" height="3.80" fill="#fff" stroke="#ff8080" stroke-width="1.5"/>
<rect x="561.65" y="301.60" width="3.80" height="3.80" fill="#fff" stroke="#ff8080" stroke-width="1.5"/>
<path d="M587.75,319.10 V239.15 H603.05 V319.10" stroke="#000" stroke-width="1.7" fill="none"/>
<line x1="595.40" y1="233.00" x2="595.40" y2="243.00" stroke="#000" stroke-width="1.3" stroke-linecap="butt"/>
<line x1="591.20" y1="233.00" x2="599.60" y2="233.00" stroke="#000" stroke-width="1.3" stroke-linecap="butt"/>
<line x1="591.20" y1="243.00" x2="599.60" y2="243.00" stroke="#000" stroke-width="1.3" stroke-linecap="butt"/>
<circle cx="595.40" cy="231.50" r="1.90" fill="#fff" stroke="#000" stroke-width="1.4"/>
<circle cx="595.40" cy="236.00" r="1.90" fill="#fff" stroke="#000" stroke-width="1.4"/>
<circle cx="595.40" cy="245.00" r="1.90" fill="#fff" stroke="#000" stroke-width="1.4"/>
<path d="M604.75,319.10 V264.05 H620.75 V319.10" stroke="#ff8080" stroke-width="1.7" fill="none"/>
<line x1="612.75" y1="261.00" x2="612.75" y2="265.00" stroke="#ff8080" stroke-width="1.3" stroke-linecap="butt"/>
<line x1="608.55" y1="261.00" x2="616.95" y2="261.00" stroke="#ff8080" stroke-width="1.3" stroke-linecap="butt"/>
<line x1="608.55" y1="265.00" x2="616.95" y2="265.00" stroke="#ff8080" stroke-width="1.3" stroke-linecap="butt"/>
<rect x="610.85" y="257.60" width="3.80" height="3.80" fill="#fff" stroke="#ff8080" stroke-width="1.5"/>
<rect x="606.85" y="262.10" width="3.80" height="3.80" fill="#fff" stroke="#ff8080" stroke-width="1.5"/>
<rect x="614.85" y="261.10" width="3.80" height="3.80" fill="#fff" stroke="#ff8080" stroke-width="1.5"/>
<line x1="539.90" y1="294.60" x2="558.70" y2="294.60" stroke="#000" stroke-width="2.5" stroke-linecap="butt"/>
<text x="533.90" y="290.10" font-size="8.3" font-weight="normal" text-anchor="start" fill="#000" stroke="#000" stroke-width="0.35" font-style="italic">P=0.2209</text>
<line x1="594.60" y1="223.40" x2="611.70" y2="223.40" stroke="#000" stroke-width="2.5" stroke-linecap="butt"/>
<text x="584.80" y="219.50" font-size="8.3" font-weight="normal" text-anchor="start" fill="#000" stroke="#000" stroke-width="0.35" font-style="italic">P=0.0064</text>
<text x="492.02" y="266.00" font-size="8.4" font-weight="bold" text-anchor="middle" fill="#000" transform="rotate(-90 492.02 266.00)">Relative mRNA expression</text>
<text x="553.20" y="331.10" font-size="8.5" font-weight="bold" text-anchor="end" fill="#000" transform="rotate(-45 553.20 331.10)">PBS</text>
<text x="607.40" y="331.10" font-size="8.5" font-weight="bold" text-anchor="end" fill="#000" transform="rotate(-45 607.40 331.10)">PAO1</text>
<rect x="631.85" y="203.55" width="12.10" height="5.20" stroke="#000" stroke-width="1.9" fill="none"/>
<text x="650.00" y="207.80" font-size="7.8" font-weight="bold" text-anchor="start" fill="#000">si<tspan font-style="italic">NC</tspan></text>
<rect x="631.85" y="215.35" width="12.10" height="5.30" stroke="#ff8080" stroke-width="1.9" fill="none"/>
<text x="650.00" y="221.50" font-size="7.8" font-weight="bold" text-anchor="start" fill="#000">si<tspan font-style="italic">Phgdh</tspan></text>
<text x="8.30" y="364.70" font-size="12.5" font-weight="bold" text-anchor="start" fill="#000" style='font-family:"Liberation Serif", serif'>d</text>
<text x="116.80" y="363.60" font-size="8.5" font-weight="bold" text-anchor="start" fill="#000">si<tspan font-style="italic">NC</tspan></text>
<path d="M129.4,452.2h0.75v0.75h-0.75zM120.5,456.7h0.75v0.75h-0.75zM139.6,448.5h0.75v0.75h-0.75zM146.0,423.4h0.75v0.75h-0.75zM148.4,439.3h0.75v0.75h-0.75zM185.6,407.9h0.75v0.75h-0.75zM131.1,427.2h0.75v0.75h-0.75zM161.9,416.4h0.75v0.75h-0.75zM155.2,430.2h0.75v0.75h-0.75zM121.4,455.7h0.75v0.75h-0.75zM115.9,456.2h0.75v0.75h-0.75zM134.7,426.6h0.75v0.75h-0.75zM158.7,419.0h0.75v0.75h-0.75zM139.3,423.8h0.75v0.75h-0.75zM130.7,448.7h0.75v0.75h-0.75zM137.6,452.0h0.75v0.75h-0.75zM165.0,405.3h0.75v0.75h-0.75zM145.8,454.0h0.75v0.75h-0.75zM157.8,416.9h0.75v0.75h-0.75zM125.8,430.4h0.75v0.75h-0.75zM156.8,429.1h0.75v0.75h-0.75zM144.4,423.8h0.75v0.75h-0.75zM133.1,444.8h0.75v0.75h-0.75zM140.7,448.1h0.75v0.75h-0.75zM164.2,433.1h0.75v0.75h-0.75zM124.7,446.0h0.75v0.75h-0.75zM151.7,439.0h0.75v0.75h-0.75zM139.3,422.7h0.75v0.75h-0.75zM154.2,440.2h0.75v0.75h-0.75zM135.5,433.8h0.75v0.75h-0.75zM135.1,448.9h0.75v0.75h-0.75zM148.0,437.3h0.75v0.75h-0.75zM164.7,421.9h0.75v0.75h-0.75zM119.5,448.6h0.75v0.75h-0.75zM137.9,435.1h0.75v0.75h-0.75zM149.1,420.0h0.75v0.75h-0.75zM158.0,404.8h0.75v0.75h-0.75zM163.9,441.2h0.75v0.75h-0.75zM173.4,446.4h0.75v0.75h-0.75zM134.0,431.4h0.75v0.75h-0.75zM179.4,407.4h0.75v0.75h-0.75zM123.6,443.1h0.75v0.75h-0.75zM136.7,431.1h0.75v0.75h-0.75zM144.2,425.7h0.75v0.75h-0.75zM109.4,456.2h0.75v0.75h-0.75zM157.5,448.3h0.75v0.75h-0.75zM137.0,440.0h0.75v0.75h-0.75zM155.5,423.7h0.75v0.75h-0.75zM140.6,430.9h0.75v0.75h-0.75zM139.4,417.8h0.75v0.75h-0.75zM133.9,423.4h0.75v0.75h-0.75zM145.3,432.0h0.75v0.75h-0.75zM122.5,417.4h0.75v0.75h-0.75zM118.2,446.7h0.75v0.75h-0.75zM152.9,469.8h0.75v0.75h-0.75zM117.5,448.2h0.75v0.75h-0.75zM120.1,437.6h0.75v0.75h-0.75zM134.1,436.5h0.75v0.75h-0.75zM137.8,425.6h0.75v0.75h-0.75zM123.6,430.3h0.75v0.75h-0.75zM119.6,447.2h0.75v0.75h-0.75zM125.3,446.8h0.75v0.75h-0.75zM147.4,428.8h0.75v0.75h-0.75zM124.0,462.1h0.75v0.75h-0.75zM132.4,450.8h0.75v0.75h-0.75zM128.2,444.3h0.75v0.75h-0.75zM123.6,452.1h0.75v0.75h-0.75zM124.2,450.7h0.75v0.75h-0.75zM148.4,429.0h0.75v0.75h-0.75zM140.2,426.2h0.75v0.75h-0.75zM136.0,431.1h0.75v0.75h-0.75zM132.7,436.9h0.75v0.75h-0.75zM137.9,449.1h0.75v0.75h-0.75zM160.1,402.2h0.75v0.75h-0.75zM136.2,432.2h0.75v0.75h-0.75zM112.7,461.3h0.75v0.75h-0.75zM125.0,416.1h0.75v0.75h-0.75zM159.8,429.6h0.75v0.75h-0.75zM137.0,449.9h0.75v0.75h-0.75zM121.9,453.0h0.75v0.75h-0.75zM158.8,415.9h0.75v0.75h-0.75zM172.4,410.8h0.75v0.75h-0.75zM135.4,421.8h0.75v0.75h-0.75zM146.8,425.9h0.75v0.75h-0.75zM127.9,447.9h0.75v0.75h-0.75zM151.7,431.4h0.75v0.75h-0.75zM118.6,447.1h0.75v0.75h-0.75zM115.8,431.6h0.75v0.75h-0.75zM123.8,444.3h0.75v0.75h-0.75zM130.8,446.1h0.75v0.75h-0.75zM141.8,424.7h0.75v0.75h-0.75zM128.5,460.4h0.75v0.75h-0.75zM126.0,432.3h0.75v0.75h-0.75zM139.8,406.5h0.75v0.75h-0.75zM159.4,408.3h0.75v0.75h-0.75zM128.1,453.9h0.75v0.75h-0.75zM138.0,453.7h0.75v0.75h-0.75zM123.4,426.5h0.75v0.75h-0.75zM123.0,445.7h0.75v0.75h-0.75zM127.8,433.3h0.75v0.75h-0.75zM167.2,448.1h0.75v0.75h-0.75zM139.5,434.9h0.75v0.75h-0.75zM147.2,464.3h0.75v0.75h-0.75zM129.2,449.7h0.75v0.75h-0.75zM112.2,455.7h0.75v0.75h-0.75zM169.6,412.2h0.75v0.75h-0.75zM145.7,421.5h0.75v0.75h-0.75zM145.4,422.5h0.75v0.75h-0.75zM114.4,457.6h0.75v0.75h-0.75zM109.5,439.7h0.75v0.75h-0.75zM151.1,422.8h0.75v0.75h-0.75zM121.5,451.5h0.75v0.75h-0.75zM117.5,446.5h0.75v0.75h-0.75zM136.4,433.5h0.75v0.75h-0.75zM149.1,402.5h0.75v0.75h-0.75zM132.0,420.7h0.75v0.75h-0.75zM122.6,448.9h0.75v0.75h-0.75zM132.1,441.3h0.75v0.75h-0.75zM138.8,434.9h0.75v0.75h-0.75zM126.6,435.3h0.75v0.75h-0.75zM126.5,444.8h0.75v0.75h-0.75zM125.0,472.2h0.75v0.75h-0.75zM153.5,437.5h0.75v0.75h-0.75zM126.5,461.2h0.75v0.75h-0.75zM138.7,437.4h0.75v0.75h-0.75zM118.5,433.2h0.75v0.75h-0.75zM146.5,425.8h0.75v0.75h-0.75zM160.0,436.8h0.75v0.75h-0.75zM145.3,444.5h0.75v0.75h-0.75zM126.2,443.3h0.75v0.75h-0.75zM133.0,449.8h0.75v0.75h-0.75zM123.5,455.2h0.75v0.75h-0.75zM140.3,432.8h0.75v0.75h-0.75zM115.3,447.3h0.75v0.75h-0.75zM143.8,413.3h0.75v0.75h-0.75zM139.8,454.1h0.75v0.75h-0.75zM152.1,416.9h0.75v0.75h-0.75zM148.0,423.2h0.75v0.75h-0.75zM149.7,421.1h0.75v0.75h-0.75zM141.1,423.2h0.75v0.75h-0.75zM129.2,436.2h0.75v0.75h-0.75zM139.7,444.4h0.75v0.75h-0.75zM135.8,440.9h0.75v0.75h-0.75zM163.1,395.1h0.75v0.75h-0.75zM114.2,459.0h0.75v0.75h-0.75zM140.7,425.9h0.75v0.75h-0.75zM132.4,445.1h0.75v0.75h-0.75zM132.3,439.9h0.75v0.75h-0.75zM135.2,447.3h0.75v0.75h-0.75zM172.0,403.9h0.75v0.75h-0.75zM154.8,433.1h0.75v0.75h-0.75zM125.5,439.9h0.75v0.75h-0.75zM119.5,453.7h0.75v0.75h-0.75zM144.0,434.1h0.75v0.75h-0.75zM139.0,448.0h0.75v0.75h-0.75zM143.9,436.0h0.75v0.75h-0.75zM140.0,435.8h0.75v0.75h-0.75zM136.3,413.5h0.75v0.75h-0.75zM119.3,447.0h0.75v0.75h-0.75zM103.7,468.2h0.75v0.75h-0.75zM140.2,459.8h0.75v0.75h-0.75zM122.7,432.5h0.75v0.75h-0.75zM137.4,425.2h0.75v0.75h-0.75zM122.1,434.3h0.75v0.75h-0.75zM144.2,425.7h0.75v0.75h-0.75zM146.1,429.4h0.75v0.75h-0.75zM130.3,428.9h0.75v0.75h-0.75zM159.6,410.1h0.75v0.75h-0.75zM117.4,444.9h0.75v0.75h-0.75zM114.9,488.3h0.75v0.75h-0.75zM121.6,424.3h0.75v0.75h-0.75zM142.8,436.0h0.75v0.75h-0.75zM153.8,435.7h0.75v0.75h-0.75zM157.3,431.3h0.75v0.75h-0.75zM141.0,458.8h0.75v0.75h-0.75zM105.5,466.0h0.75v0.75h-0.75zM142.0,434.1h0.75v0.75h-0.75zM143.5,439.9h0.75v0.75h-0.75zM176.5,410.4h0.75v0.75h-0.75zM124.7,451.2h0.75v0.75h-0.75zM137.0,434.8h0.75v0.75h-0.75zM123.0,457.9h0.75v0.75h-0.75zM127.9,453.8h0.75v0.75h-0.75zM121.1,450.1h0.75v0.75h-0.75zM148.0,429.5h0.75v0.75h-0.75zM135.3,442.2h0.75v0.75h-0.75zM122.1,467.1h0.75v0.75h-0.75zM188.7,408.5h0.75v0.75h-0.75zM152.0,435.9h0.75v0.75h-0.75zM120.3,457.3h0.75v0.75h-0.75zM106.9,462.4h0.75v0.75h-0.75zM108.2,470.9h0.75v0.75h-0.75zM124.4,447.2h0.75v0.75h-0.75zM141.5,435.7h0.75v0.75h-0.75zM124.5,449.3h0.75v0.75h-0.75zM135.0,426.1h0.75v0.75h-0.75zM118.7,450.0h0.75v0.75h-0.75zM91.0,468.5h0.75v0.75h-0.75zM141.8,423.1h0.75v0.75h-0.75zM135.8,428.3h0.75v0.75h-0.75zM128.3,453.5h0.75v0.75h-0.75zM115.7,452.5h0.75v0.75h-0.75zM143.3,422.8h0.75v0.75h-0.75zM169.6,404.5h0.75v0.75h-0.75zM151.9,425.0h0.75v0.75h-0.75zM137.8,445.0h0.75v0.75h-0.75zM142.7,430.8h0.75v0.75h-0.75zM118.4,443.6h0.75v0.75h-0.75zM144.1,441.9h0.75v0.75h-0.75zM128.7,461.3h0.75v0.75h-0.75zM134.7,443.5h0.75v0.75h-0.75zM125.9,431.1h0.75v0.75h-0.75zM125.3,453.4h0.75v0.75h-0.75zM138.6,456.0h0.75v0.75h-0.75zM130.4,457.1h0.75v0.75h-0.75zM154.5,414.7h0.75v0.75h-0.75zM174.0,419.7h0.75v0.75h-0.75zM142.9,440.6h0.75v0.75h-0.75zM122.4,443.9h0.75v0.75h-0.75zM136.7,442.8h0.75v0.75h-0.75zM138.3,442.3h0.75v0.75h-0.75zM139.2,424.9h0.75v0.75h-0.75zM144.6,447.2h0.75v0.75h-0.75zM145.5,442.7h0.75v0.75h-0.75zM160.1,397.7h0.75v0.75h-0.75zM133.5,449.6h0.75v0.75h-0.75zM144.9,447.7h0.75v0.75h-0.75zM151.0,418.4h0.75v0.75h-0.75zM145.2,439.4h0.75v0.75h-0.75zM127.3,452.4h0.75v0.75h-0.75zM126.4,435.8h0.75v0.75h-0.75zM123.1,449.0h0.75v0.75h-0.75zM150.4,417.7h0.75v0.75h-0.75zM117.7,455.1h0.75v0.75h-0.75zM140.5,432.6h0.75v0.75h-0.75zM142.5,439.4h0.75v0.75h-0.75zM133.8,444.2h0.75v0.75h-0.75zM131.2,441.6h0.75v0.75h-0.75zM145.6,445.3h0.75v0.75h-0.75zM133.5,449.8h0.75v0.75h-0.75zM127.2,443.0h0.75v0.75h-0.75zM129.2,470.2h0.75v0.75h-0.75zM118.7,456.1h0.75v0.75h-0.75zM112.9,437.7h0.75v0.75h-0.75zM140.2,412.9h0.75v0.75h-0.75zM135.7,408.8h0.75v0.75h-0.75zM139.8,432.5h0.75v0.75h-0.75zM116.2,439.0h0.75v0.75h-0.75zM126.5,451.4h0.75v0.75h-0.75zM157.9,417.7h0.75v0.75h-0.75zM157.6,432.3h0.75v0.75h-0.75zM150.9,423.9h0.75v0.75h-0.75zM144.3,442.8h0.75v0.75h-0.75zM132.6,446.5h0.75v0.75h-0.75zM119.0,438.6h0.75v0.75h-0.75zM155.7,425.8h0.75v0.75h-0.75zM139.3,454.0h0.75v0.75h-0.75zM152.9,431.4h0.75v0.75h-0.75zM166.2,431.0h0.75v0.75h-0.75zM110.9,456.7h0.75v0.75h-0.75zM158.8,455.6h0.75v0.75h-0.75zM142.5,452.3h0.75v0.75h-0.75zM140.2,435.4h0.75v0.75h-0.75zM162.6,406.4h0.75v0.75h-0.75zM132.9,438.2h0.75v0.75h-0.75zM163.2,412.5h0.75v0.75h-0.75zM160.6,417.0h0.75v0.75h-0.75zM125.5,433.1h0.75v0.75h-0.75zM154.3,428.2h0.75v0.75h-0.75zM139.2,458.7h0.75v0.75h-0.75zM108.6,430.7h0.75v0.75h-0.75zM123.9,449.5h0.75v0.75h-0.75zM146.1,431.0h0.75v0.75h-0.75zM147.0,423.2h0.75v0.75h-0.75zM126.3,443.9h0.75v0.75h-0.75zM110.3,468.3h0.75v0.75h-0.75zM130.7,437.6h0.75v0.75h-0.75zM133.4,455.5h0.75v0.75h-0.75zM129.1,439.7h0.75v0.75h-0.75zM123.8,449.9h0.75v0.75h-0.75zM149.2,437.0h0.75v0.75h-0.75zM131.7,455.2h0.75v0.75h-0.75zM144.6,446.3h0.75v0.75h-0.75zM136.8,451.0h0.75v0.75h-0.75zM146.8,411.3h0.75v0.75h-0.75zM142.3,447.3h0.75v0.75h-0.75zM133.2,434.8h0.75v0.75h-0.75zM166.8,409.1h0.75v0.75h-0.75zM136.9,429.9h0.75v0.75h-0.75zM137.0,434.4h0.75v0.75h-0.75zM140.8,446.3h0.75v0.75h-0.75zM163.4,434.2h0.75v0.75h-0.75zM138.0,433.5h0.75v0.75h-0.75zM148.2,449.2h0.75v0.75h-0.75zM133.9,445.6h0.75v0.75h-0.75zM124.8,443.5h0.75v0.75h-0.75zM147.6,412.3h0.75v0.75h-0.75zM152.3,431.2h0.75v0.75h-0.75zM140.0,439.8h0.75v0.75h-0.75zM122.8,457.6h0.75v0.75h-0.75zM137.3,412.1h0.75v0.75h-0.75zM147.9,439.5h0.75v0.75h-0.75zM133.5,457.7h0.75v0.75h-0.75zM125.1,434.4h0.75v0.75h-0.75zM158.1,419.6h0.75v0.75h-0.75zM141.8,427.7h0.75v0.75h-0.75zM113.3,459.3h0.75v0.75h-0.75zM123.5,447.2h0.75v0.75h-0.75zM154.2,412.1h0.75v0.75h-0.75zM124.6,450.2h0.75v0.75h-0.75zM139.7,435.6h0.75v0.75h-0.75zM142.1,424.2h0.75v0.75h-0.75zM139.2,428.9h0.75v0.75h-0.75zM136.9,453.2h0.75v0.75h-0.75zM148.8,453.8h0.75v0.75h-0.75zM136.8,441.0h0.75v0.75h-0.75zM150.9,444.0h0.75v0.75h-0.75zM131.0,436.2h0.75v0.75h-0.75zM143.9,414.8h0.75v0.75h-0.75zM124.2,447.3h0.75v0.75h-0.75zM155.6,448.3h0.75v0.75h-0.75zM123.1,438.5h0.75v0.75h-0.75zM142.5,430.7h0.75v0.75h-0.75zM182.5,444.5h0.75v0.75h-0.75zM121.5,445.3h0.75v0.75h-0.75zM123.6,440.6h0.75v0.75h-0.75zM147.0,425.9h0.75v0.75h-0.75zM142.2,434.1h0.75v0.75h-0.75zM123.1,448.7h0.75v0.75h-0.75zM154.9,438.5h0.75v0.75h-0.75zM126.8,445.9h0.75v0.75h-0.75zM154.1,445.2h0.75v0.75h-0.75zM121.5,455.1h0.75v0.75h-0.75zM115.5,441.5h0.75v0.75h-0.75zM102.3,473.4h0.75v0.75h-0.75zM130.8,435.9h0.75v0.75h-0.75zM107.1,456.6h0.75v0.75h-0.75zM127.0,444.8h0.75v0.75h-0.75zM129.8,448.8h0.75v0.75h-0.75zM136.1,429.6h0.75v0.75h-0.75zM125.0,440.7h0.75v0.75h-0.75zM134.8,443.4h0.75v0.75h-0.75zM136.2,437.8h0.75v0.75h-0.75zM135.2,423.4h0.75v0.75h-0.75zM149.9,438.3h0.75v0.75h-0.75zM177.2,418.6h0.75v0.75h-0.75zM111.2,443.6h0.75v0.75h-0.75zM128.1,439.9h0.75v0.75h-0.75zM119.6,441.1h0.75v0.75h-0.75zM128.1,441.8h0.75v0.75h-0.75zM147.8,427.4h0.75v0.75h-0.75zM150.1,436.8h0.75v0.75h-0.75zM156.2,404.8h0.75v0.75h-0.75zM145.3,443.8h0.75v0.75h-0.75zM173.7,409.8h0.75v0.75h-0.75zM111.5,462.1h0.75v0.75h-0.75zM140.8,435.4h0.75v0.75h-0.75zM161.8,401.5h0.75v0.75h-0.75zM129.6,437.1h0.75v0.75h-0.75zM171.3,439.7h0.75v0.75h-0.75zM161.2,433.6h0.75v0.75h-0.75zM148.6,423.8h0.75v0.75h-0.75zM133.3,427.1h0.75v0.75h-0.75zM151.8,408.4h0.75v0.75h-0.75zM110.6,438.9h0.75v0.75h-0.75zM156.7,424.0h0.75v0.75h-0.75zM141.4,424.7h0.75v0.75h-0.75zM138.6,453.5h0.75v0.75h-0.75zM138.0,456.4h0.75v0.75h-0.75zM138.1,431.0h0.75v0.75h-0.75zM157.9,409.6h0.75v0.75h-0.75zM135.9,433.9h0.75v0.75h-0.75zM121.7,457.6h0.75v0.75h-0.75zM164.5,417.6h0.75v0.75h-0.75zM159.5,441.3h0.75v0.75h-0.75zM154.4,443.7h0.75v0.75h-0.75zM153.2,439.3h0.75v0.75h-0.75zM161.9,390.7h0.75v0.75h-0.75zM132.1,447.0h0.75v0.75h-0.75zM156.0,413.4h0.75v0.75h-0.75zM129.1,437.7h0.75v0.75h-0.75zM113.2,444.7h0.75v0.75h-0.75zM111.9,460.9h0.75v0.75h-0.75zM118.2,449.9h0.75v0.75h-0.75zM127.3,441.4h0.75v0.75h-0.75zM136.1,451.4h0.75v0.75h-0.75zM140.5,410.9h0.75v0.75h-0.75zM123.5,451.8h0.75v0.75h-0.75zM127.1,448.0h0.75v0.75h-0.75zM127.6,425.0h0.75v0.75h-0.75zM153.7,429.2h0.75v0.75h-0.75zM120.1,454.5h0.75v0.75h-0.75zM157.8,442.5h0.75v0.75h-0.75zM135.3,432.9h0.75v0.75h-0.75zM144.9,420.6h0.75v0.75h-0.75zM148.1,430.9h0.75v0.75h-0.75zM132.0,430.4h0.75v0.75h-0.75zM125.0,447.4h0.75v0.75h-0.75zM156.1,429.2h0.75v0.75h-0.75zM114.0,440.9h0.75v0.75h-0.75zM160.7,421.1h0.75v0.75h-0.75zM171.1,441.5h0.75v0.75h-0.75zM120.9,455.2h0.75v0.75h-0.75zM140.2,445.5h0.75v0.75h-0.75zM153.7,426.9h0.75v0.75h-0.75zM159.7,427.3h0.75v0.75h-0.75zM144.8,432.7h0.75v0.75h-0.75zM144.4,431.9h0.75v0.75h-0.75zM134.4,449.5h0.75v0.75h-0.75zM152.9,443.8h0.75v0.75h-0.75zM140.5,447.6h0.75v0.75h-0.75zM126.6,446.5h0.75v0.75h-0.75zM143.3,427.8h0.75v0.75h-0.75zM113.4,440.1h0.75v0.75h-0.75zM152.0,413.9h0.75v0.75h-0.75zM129.9,436.6h0.75v0.75h-0.75zM155.8,432.5h0.75v0.75h-0.75zM139.9,432.2h0.75v0.75h-0.75zM157.6,433.4h0.75v0.75h-0.75zM108.3,476.0h0.75v0.75h-0.75zM149.0,419.6h0.75v0.75h-0.75zM167.4,419.0h0.75v0.75h-0.75zM148.4,429.5h0.75v0.75h-0.75zM150.1,444.4h0.75v0.75h-0.75zM140.4,423.8h0.75v0.75h-0.75zM175.3,428.7h0.75v0.75h-0.75zM130.7,416.5h0.75v0.75h-0.75zM158.0,419.9h0.75v0.75h-0.75zM174.4,417.5h0.75v0.75h-0.75zM141.2,417.3h0.75v0.75h-0.75zM144.1,437.0h0.75v0.75h-0.75zM163.6,428.0h0.75v0.75h-0.75zM131.1,454.8h0.75v0.75h-0.75zM166.9,426.3h0.75v0.75h-0.75zM135.2,419.2h0.75v0.75h-0.75zM135.7,448.6h0.75v0.75h-0.75zM136.4,449.0h0.75v0.75h-0.75zM154.4,432.7h0.75v0.75h-0.75zM150.1,429.3h0.75v0.75h-0.75zM116.6,447.3h0.75v0.75h-0.75zM136.2,438.4h0.75v0.75h-0.75zM133.1,438.9h0.75v0.75h-0.75zM107.1,428.0h0.75v0.75h-0.75zM158.4,436.9h0.75v0.75h-0.75zM140.4,440.1h0.75v0.75h-0.75zM126.8,454.7h0.75v0.75h-0.75zM131.6,450.1h0.75v0.75h-0.75zM124.7,451.1h0.75v0.75h-0.75zM150.8,430.8h0.75v0.75h-0.75zM126.4,451.4h0.75v0.75h-0.75zM119.6,441.7h0.75v0.75h-0.75zM159.5,419.0h0.75v0.75h-0.75zM160.6,421.3h0.75v0.75h-0.75zM117.9,456.7h0.75v0.75h-0.75zM148.2,436.4h0.75v0.75h-0.75zM128.0,465.8h0.75v0.75h-0.75zM156.2,439.9h0.75v0.75h-0.75zM126.7,452.7h0.75v0.75h-0.75zM139.8,453.7h0.75v0.75h-0.75zM123.7,436.0h0.75v0.75h-0.75zM141.4,440.7h0.75v0.75h-0.75zM146.4,404.5h0.75v0.75h-0.75zM149.1,424.3h0.75v0.75h-0.75zM137.7,436.1h0.75v0.75h-0.75zM153.2,421.5h0.75v0.75h-0.75zM159.8,436.9h0.75v0.75h-0.75zM161.5,415.3h0.75v0.75h-0.75zM136.4,452.1h0.75v0.75h-0.75zM115.4,454.0h0.75v0.75h-0.75zM146.4,397.8h0.75v0.75h-0.75zM145.7,452.5h0.75v0.75h-0.75zM118.5,439.5h0.75v0.75h-0.75zM165.0,406.4h0.75v0.75h-0.75zM117.7,447.8h0.75v0.75h-0.75zM127.7,453.9h0.75v0.75h-0.75zM138.4,433.9h0.75v0.75h-0.75zM130.0,451.4h0.75v0.75h-0.75zM152.1,427.2h0.75v0.75h-0.75zM167.7,422.2h0.75v0.75h-0.75zM117.6,462.0h0.75v0.75h-0.75zM171.4,437.7h0.75v0.75h-0.75zM137.3,441.5h0.75v0.75h-0.75zM126.9,437.8h0.75v0.75h-0.75zM157.9,439.8h0.75v0.75h-0.75zM129.7,461.3h0.75v0.75h-0.75zM128.9,434.1h0.75v0.75h-0.75zM119.0,440.8h0.75v0.75h-0.75zM146.0,422.5h0.75v0.75h-0.75zM139.3,426.6h0.75v0.75h-0.75zM161.2,419.0h0.75v0.75h-0.75zM133.7,441.0h0.75v0.75h-0.75zM138.3,445.3h0.75v0.75h-0.75zM169.9,391.3h0.75v0.75h-0.75zM142.9,425.3h0.75v0.75h-0.75zM151.4,453.4h0.75v0.75h-0.75zM158.9,425.8h0.75v0.75h-0.75zM133.1,436.7h0.75v0.75h-0.75zM132.6,461.0h0.75v0.75h-0.75zM132.8,453.3h0.75v0.75h-0.75zM131.8,404.3h0.75v0.75h-0.75zM119.3,442.3h0.75v0.75h-0.75zM155.0,427.7h0.75v0.75h-0.75zM134.1,438.4h0.75v0.75h-0.75zM158.7,425.9h0.75v0.75h-0.75zM123.8,448.6h0.75v0.75h-0.75zM132.3,450.9h0.75v0.75h-0.75zM145.6,437.3h0.75v0.75h-0.75zM174.7,414.5h0.75v0.75h-0.75zM136.1,443.1h0.75v0.75h-0.75zM151.4,425.6h0.75v0.75h-0.75zM120.9,454.7h0.75v0.75h-0.75zM128.2,449.2h0.75v0.75h-0.75zM131.1,426.9h0.75v0.75h-0.75zM160.8,404.2h0.75v0.75h-0.75zM117.2,464.0h0.75v0.75h-0.75zM150.1,428.3h0.75v0.75h-0.75zM152.5,426.9h0.75v0.75h-0.75zM125.1,440.5h0.75v0.75h-0.75zM152.1,426.0h0.75v0.75h-0.75zM140.8,436.5h0.75v0.75h-0.75zM141.7,411.8h0.75v0.75h-0.75zM125.5,430.3h0.75v0.75h-0.75zM148.3,427.9h0.75v0.75h-0.75zM139.3,447.3h0.75v0.75h-0.75zM130.5,443.6h0.75v0.75h-0.75zM155.6,433.7h0.75v0.75h-0.75zM126.1,426.6h0.75v0.75h-0.75zM136.0,428.6h0.75v0.75h-0.75zM152.3,416.8h0.75v0.75h-0.75zM147.7,446.7h0.75v0.75h-0.75zM122.3,438.8h0.75v0.75h-0.75zM152.7,428.9h0.75v0.75h-0.75zM146.3,440.5h0.75v0.75h-0.75zM136.1,437.9h0.75v0.75h-0.75zM116.9,447.6h0.75v0.75h-0.75zM132.0,437.1h0.75v0.75h-0.75zM160.0,438.4h0.75v0.75h-0.75zM134.7,439.3h0.75v0.75h-0.75zM141.6,425.0h0.75v0.75h-0.75zM121.0,422.4h0.75v0.75h-0.75zM155.1,437.5h0.75v0.75h-0.75zM164.6,427.8h0.75v0.75h-0.75zM122.8,446.0h0.75v0.75h-0.75zM136.0,426.2h0.75v0.75h-0.75zM132.8,440.5h0.75v0.75h-0.75zM129.6,431.6h0.75v0.75h-0.75zM135.6,426.4h0.75v0.75h-0.75zM138.2,452.4h0.75v0.75h-0.75zM127.1,447.7h0.75v0.75h-0.75zM120.6,458.6h0.75v0.75h-0.75zM132.9,440.2h0.75v0.75h-0.75zM165.2,410.8h0.75v0.75h-0.75zM111.2,429.9h0.75v0.75h-0.75zM143.8,425.9h0.75v0.75h-0.75zM123.2,451.9h0.75v0.75h-0.75zM106.9,445.7h0.75v0.75h-0.75zM137.3,418.5h0.75v0.75h-0.75zM150.3,435.7h0.75v0.75h-0.75zM139.1,456.7h0.75v0.75h-0.75zM122.7,444.0h0.75v0.75h-0.75zM154.0,441.0h0.75v0.75h-0.75zM111.6,455.5h0.75v0.75h-0.75zM159.3,450.0h0.75v0.75h-0.75zM133.8,419.7h0.75v0.75h-0.75zM145.7,422.1h0.75v0.75h-0.75zM151.0,426.8h0.75v0.75h-0.75zM151.9,404.7h0.75v0.75h-0.75zM138.0,447.8h0.75v0.75h-0.75zM120.0,433.1h0.75v0.75h-0.75zM135.3,440.0h0.75v0.75h-0.75zM152.8,407.8h0.75v0.75h-0.75zM135.5,426.2h0.75v0.75h-0.75zM129.3,453.9h0.75v0.75h-0.75zM134.5,455.7h0.75v0.75h-0.75zM134.0,446.8h0.75v0.75h-0.75zM142.5,433.8h0.75v0.75h-0.75zM158.4,411.3h0.75v0.75h-0.75zM155.5,455.4h0.75v0.75h-0.75zM140.3,421.6h0.75v0.75h-0.75zM126.9,451.4h0.75v0.75h-0.75zM119.3,464.1h0.75v0.75h-0.75zM130.0,450.7h0.75v0.75h-0.75zM146.2,446.2h0.75v0.75h-0.75zM129.5,438.7h0.75v0.75h-0.75zM135.8,460.7h0.75v0.75h-0.75zM126.9,455.1h0.75v0.75h-0.75zM121.7,438.2h0.75v0.75h-0.75zM160.9,421.2h0.75v0.75h-0.75zM127.7,457.8h0.75v0.75h-0.75zM132.5,422.4h0.75v0.75h-0.75zM138.9,442.0h0.75v0.75h-0.75zM154.4,435.7h0.75v0.75h-0.75zM127.5,428.6h0.75v0.75h-0.75zM135.5,437.8h0.75v0.75h-0.75zM159.9,423.4h0.75v0.75h-0.75zM134.9,419.4h0.75v0.75h-0.75zM159.5,397.3h0.75v0.75h-0.75zM133.5,429.2h0.75v0.75h-0.75zM122.9,453.8h0.75v0.75h-0.75zM100.3,443.2h0.75v0.75h-0.75zM138.2,437.5h0.75v0.75h-0.75zM119.3,432.7h0.75v0.75h-0.75zM141.0,440.3h0.75v0.75h-0.75zM132.2,432.9h0.75v0.75h-0.75zM156.4,432.3h0.75v0.75h-0.75zM139.8,448.3h0.75v0.75h-0.75zM142.7,447.5h0.75v0.75h-0.75zM125.1,441.6h0.75v0.75h-0.75zM133.7,417.1h0.75v0.75h-0.75zM140.5,436.2h0.75v0.75h-0.75zM164.9,402.3h0.75v0.75h-0.75zM128.3,457.6h0.75v0.75h-0.75zM170.2,422.7h0.75v0.75h-0.75zM124.8,449.8h0.75v0.75h-0.75zM133.8,445.3h0.75v0.75h-0.75zM153.4,444.9h0.75v0.75h-0.75zM145.5,432.0h0.75v0.75h-0.75zM120.7,457.9h0.75v0.75h-0.75zM142.9,426.8h0.75v0.75h-0.75zM154.5,446.8h0.75v0.75h-0.75zM133.8,455.0h0.75v0.75h-0.75zM157.2,416.0h0.75v0.75h-0.75zM147.0,446.4h0.75v0.75h-0.75zM125.3,443.5h0.75v0.75h-0.75zM153.4,423.7h0.75v0.75h-0.75zM140.4,432.7h0.75v0.75h-0.75zM160.6,420.0h0.75v0.75h-0.75zM146.3,438.9h0.75v0.75h-0.75zM130.0,456.3h0.75v0.75h-0.75zM137.4,421.7h0.75v0.75h-0.75zM123.3,449.4h0.75v0.75h-0.75zM152.4,444.4h0.75v0.75h-0.75zM127.3,456.2h0.75v0.75h-0.75zM127.9,456.1h0.75v0.75h-0.75zM171.6,414.0h0.75v0.75h-0.75zM132.2,438.6h0.75v0.75h-0.75zM151.4,430.4h0.75v0.75h-0.75zM149.5,440.2h0.75v0.75h-0.75zM139.7,419.2h0.75v0.75h-0.75zM133.0,460.3h0.75v0.75h-0.75zM114.4,438.6h0.75v0.75h-0.75zM135.1,431.5h0.75v0.75h-0.75zM130.3,431.9h0.75v0.75h-0.75zM118.9,455.6h0.75v0.75h-0.75zM153.1,424.7h0.75v0.75h-0.75zM137.0,458.1h0.75v0.75h-0.75zM149.5,415.5h0.75v0.75h-0.75zM136.8,432.3h0.75v0.75h-0.75zM147.2,417.6h0.75v0.75h-0.75zM127.6,430.3h0.75v0.75h-0.75zM169.2,416.2h0.75v0.75h-0.75zM122.7,436.0h0.75v0.75h-0.75zM139.3,433.9h0.75v0.75h-0.75zM138.9,417.8h0.75v0.75h-0.75zM123.2,440.3h0.75v0.75h-0.75zM170.7,403.8h0.75v0.75h-0.75zM125.7,437.8h0.75v0.75h-0.75zM126.6,456.6h0.75v0.75h-0.75zM138.5,444.1h0.75v0.75h-0.75zM134.6,443.5h0.75v0.75h-0.75zM133.2,426.1h0.75v0.75h-0.75zM156.1,431.8h0.75v0.75h-0.75zM118.5,442.7h0.75v0.75h-0.75zM123.4,458.1h0.75v0.75h-0.75zM150.1,442.6h0.75v0.75h-0.75zM160.5,418.9h0.75v0.75h-0.75zM109.2,442.1h0.75v0.75h-0.75zM121.3,443.3h0.75v0.75h-0.75zM168.8,422.3h0.75v0.75h-0.75zM138.8,431.0h0.75v0.75h-0.75zM138.0,446.7h0.75v0.75h-0.75zM120.1,453.0h0.75v0.75h-0.75zM129.9,437.0h0.75v0.75h-0.75zM118.7,458.3h0.75v0.75h-0.75zM140.2,425.0h0.75v0.75h-0.75zM137.0,419.8h0.75v0.75h-0.75zM171.5,416.0h0.75v0.75h-0.75zM121.9,441.4h0.75v0.75h-0.75zM99.9,454.8h0.75v0.75h-0.75zM137.2,441.3h0.75v0.75h-0.75zM144.5,424.3h0.75v0.75h-0.75zM129.7,443.3h0.75v0.75h-0.75zM131.1,435.5h0.75v0.75h-0.75zM152.9,446.3h0.75v0.75h-0.75zM128.6,442.0h0.75v0.75h-0.75zM134.2,448.6h0.75v0.75h-0.75zM124.3,447.0h0.75v0.75h-0.75zM108.4,446.0h0.75v0.75h-0.75zM130.1,429.5h0.75v0.75h-0.75zM133.3,427.9h0.75v0.75h-0.75zM141.0,423.2h0.75v0.75h-0.75zM162.3,416.6h0.75v0.75h-0.75zM150.1,435.3h0.75v0.75h-0.75zM139.2,436.3h0.75v0.75h-0.75zM150.0,447.6h0.75v0.75h-0.75zM171.2,437.2h0.75v0.75h-0.75zM116.6,448.8h0.75v0.75h-0.75zM120.6,448.0h0.75v0.75h-0.75zM143.7,420.9h0.75v0.75h-0.75zM135.3,436.6h0.75v0.75h-0.75zM156.1,434.8h0.75v0.75h-0.75zM114.0,434.2h0.75v0.75h-0.75zM135.6,433.5h0.75v0.75h-0.75zM147.3,426.8h0.75v0.75h-0.75zM136.9,433.2h0.75v0.75h-0.75zM164.2,423.2h0.75v0.75h-0.75zM153.5,422.9h0.75v0.75h-0.75zM166.5,418.2h0.75v0.75h-0.75zM161.7,420.7h0.75v0.75h-0.75zM112.9,441.3h0.75v0.75h-0.75zM125.7,448.7h0.75v0.75h-0.75zM160.5,431.2h0.75v0.75h-0.75zM123.6,451.2h0.75v0.75h-0.75zM140.2,442.1h0.75v0.75h-0.75zM126.4,450.1h0.75v0.75h-0.75zM140.6,431.3h0.75v0.75h-0.75zM143.5,456.3h0.75v0.75h-0.75zM171.7,401.1h0.75v0.75h-0.75zM151.8,399.5h0.75v0.75h-0.75zM118.1,457.0h0.75v0.75h-0.75zM120.7,437.7h0.75v0.75h-0.75zM161.8,427.4h0.75v0.75h-0.75zM149.7,429.0h0.75v0.75h-0.75zM149.5,425.2h0.75v0.75h-0.75zM128.9,431.9h0.75v0.75h-0.75zM112.0,452.8h0.75v0.75h-0.75zM132.9,442.8h0.75v0.75h-0.75zM144.6,429.0h0.75v0.75h-0.75zM147.5,438.4h0.75v0.75h-0.75zM126.2,440.4h0.75v0.75h-0.75zM120.8,452.1h0.75v0.75h-0.75zM134.9,444.2h0.75v0.75h-0.75zM153.8,429.0h0.75v0.75h-0.75zM129.7,446.9h0.75v0.75h-0.75zM158.4,437.5h0.75v0.75h-0.75zM131.4,441.9h0.75v0.75h-0.75zM155.2,429.8h0.75v0.75h-0.75zM130.2,460.4h0.75v0.75h-0.75zM142.9,415.7h0.75v0.75h-0.75zM143.2,421.6h0.75v0.75h-0.75zM128.9,465.4h0.75v0.75h-0.75zM139.3,466.9h0.75v0.75h-0.75zM127.7,451.2h0.75v0.75h-0.75zM126.4,439.0h0.75v0.75h-0.75zM127.2,454.0h0.75v0.75h-0.75zM122.9,439.5h0.75v0.75h-0.75zM161.2,416.8h0.75v0.75h-0.75zM176.1,413.9h0.75v0.75h-0.75zM167.2,446.0h0.75v0.75h-0.75zM150.3,420.1h0.75v0.75h-0.75zM166.5,433.7h0.75v0.75h-0.75zM133.9,447.3h0.75v0.75h-0.75zM149.0,409.0h0.75v0.75h-0.75zM139.0,439.1h0.75v0.75h-0.75zM159.4,448.6h0.75v0.75h-0.75zM157.3,430.4h0.75v0.75h-0.75zM149.0,434.5h0.75v0.75h-0.75zM117.4,454.4h0.75v0.75h-0.75zM133.2,420.9h0.75v0.75h-0.75zM156.7,424.2h0.75v0.75h-0.75zM147.9,456.4h0.75v0.75h-0.75zM140.8,433.6h0.75v0.75h-0.75zM120.9,449.8h0.75v0.75h-0.75zM138.2,435.9h0.75v0.75h-0.75zM148.4,414.6h0.75v0.75h-0.75zM170.0,394.7h0.75v0.75h-0.75zM141.7,419.5h0.75v0.75h-0.75zM135.2,446.4h0.75v0.75h-0.75zM149.3,428.8h0.75v0.75h-0.75zM126.7,436.3h0.75v0.75h-0.75zM141.5,435.0h0.75v0.75h-0.75zM148.3,430.8h0.75v0.75h-0.75zM119.7,447.6h0.75v0.75h-0.75zM136.5,429.5h0.75v0.75h-0.75zM133.6,432.7h0.75v0.75h-0.75zM133.7,436.5h0.75v0.75h-0.75zM147.6,422.6h0.75v0.75h-0.75zM150.4,403.0h0.75v0.75h-0.75zM114.3,455.5h0.75v0.75h-0.75zM165.4,430.6h0.75v0.75h-0.75zM133.2,437.1h0.75v0.75h-0.75zM131.0,449.2h0.75v0.75h-0.75zM128.6,457.9h0.75v0.75h-0.75zM155.6,413.0h0.75v0.75h-0.75zM160.6,416.1h0.75v0.75h-0.75zM114.8,452.2h0.75v0.75h-0.75zM141.7,441.6h0.75v0.75h-0.75zM115.1,429.3h0.75v0.75h-0.75zM126.8,449.8h0.75v0.75h-0.75zM141.1,455.5h0.75v0.75h-0.75zM140.5,459.1h0.75v0.75h-0.75zM132.2,453.0h0.75v0.75h-0.75zM135.2,439.8h0.75v0.75h-0.75zM148.0,414.0h0.75v0.75h-0.75zM135.1,447.9h0.75v0.75h-0.75zM132.0,397.5h0.75v0.75h-0.75zM114.4,441.7h0.75v0.75h-0.75zM143.6,408.8h0.75v0.75h-0.75zM146.0,418.6h0.75v0.75h-0.75zM130.6,443.7h0.75v0.75h-0.75zM128.7,462.4h0.75v0.75h-0.75zM140.5,422.7h0.75v0.75h-0.75zM166.6,418.5h0.75v0.75h-0.75zM168.4,405.9h0.75v0.75h-0.75zM142.5,449.4h0.75v0.75h-0.75zM162.1,412.9h0.75v0.75h-0.75zM138.8,431.1h0.75v0.75h-0.75zM130.1,414.5h0.75v0.75h-0.75zM104.7,457.3h0.75v0.75h-0.75zM136.9,438.0h0.75v0.75h-0.75zM135.2,441.6h0.75v0.75h-0.75zM139.0,452.8h0.75v0.75h-0.75zM135.3,423.5h0.75v0.75h-0.75zM132.1,450.3h0.75v0.75h-0.75zM122.4,420.8h0.75v0.75h-0.75zM163.0,400.7h0.75v0.75h-0.75zM156.7,413.8h0.75v0.75h-0.75zM143.1,419.8h0.75v0.75h-0.75zM133.6,438.1h0.75v0.75h-0.75zM131.6,433.7h0.75v0.75h-0.75zM142.1,422.4h0.75v0.75h-0.75zM137.8,431.6h0.75v0.75h-0.75zM151.7,425.9h0.75v0.75h-0.75zM105.9,462.7h0.75v0.75h-0.75zM141.2,440.5h0.75v0.75h-0.75zM122.5,455.9h0.75v0.75h-0.75zM120.4,460.6h0.75v0.75h-0.75zM120.3,445.3h0.75v0.75h-0.75zM132.7,438.2h0.75v0.75h-0.75zM161.0,415.4h0.75v0.75h-0.75zM145.6,424.9h0.75v0.75h-0.75zM121.4,450.4h0.75v0.75h-0.75zM123.7,441.7h0.75v0.75h-0.75zM114.4,445.9h0.75v0.75h-0.75zM126.7,450.4h0.75v0.75h-0.75zM166.0,403.3h0.75v0.75h-0.75zM137.7,442.1h0.75v0.75h-0.75zM126.3,450.9h0.75v0.75h-0.75zM112.4,453.3h0.75v0.75h-0.75zM115.0,445.7h0.75v0.75h-0.75zM167.3,416.0h0.75v0.75h-0.75zM161.9,419.9h0.75v0.75h-0.75zM139.8,441.2h0.75v0.75h-0.75zM181.9,425.0h0.75v0.75h-0.75zM133.5,441.9h0.75v0.75h-0.75zM152.8,422.4h0.75v0.75h-0.75zM143.3,454.6h0.75v0.75h-0.75zM135.8,449.3h0.75v0.75h-0.75zM138.2,457.0h0.75v0.75h-0.75zM123.1,454.9h0.75v0.75h-0.75zM123.4,454.0h0.75v0.75h-0.75zM125.5,454.3h0.75v0.75h-0.75zM130.7,449.9h0.75v0.75h-0.75zM132.4,447.7h0.75v0.75h-0.75zM143.6,430.3h0.75v0.75h-0.75zM129.1,424.9h0.75v0.75h-0.75zM113.0,434.6h0.75v0.75h-0.75zM119.9,444.4h0.75v0.75h-0.75zM140.9,453.8h0.75v0.75h-0.75zM137.0,437.8h0.75v0.75h-0.75zM139.3,438.2h0.75v0.75h-0.75zM155.8,438.9h0.75v0.75h-0.75zM131.7,467.5h0.75v0.75h-0.75zM131.2,442.3h0.75v0.75h-0.75zM145.2,406.8h0.75v0.75h-0.75zM113.1,451.4h0.75v0.75h-0.75zM138.4,418.3h0.75v0.75h-0.75zM119.7,441.3h0.75v0.75h-0.75zM134.1,441.2h0.75v0.75h-0.75zM145.2,456.5h0.75v0.75h-0.75zM134.6,455.0h0.75v0.75h-0.75zM124.2,450.8h0.75v0.75h-0.75zM154.3,409.4h0.75v0.75h-0.75zM145.0,416.9h0.75v0.75h-0.75zM118.0,448.7h0.75v0.75h-0.75zM159.2,417.5h0.75v0.75h-0.75zM145.2,448.0h0.75v0.75h-0.75zM133.0,458.3h0.75v0.75h-0.75zM146.9,416.8h0.75v0.75h-0.75zM145.2,442.8h0.75v0.75h-0.75zM142.9,445.9h0.75v0.75h-0.75zM148.7,461.1h0.75v0.75h-0.75zM151.7,432.4h0.75v0.75h-0.75zM148.0,439.0h0.75v0.75h-0.75zM134.7,453.5h0.75v0.75h-0.75zM169.7,415.0h0.75v0.75h-0.75zM140.9,451.8h0.75v0.75h-0.75zM147.3,451.5h0.75v0.75h-0.75zM122.6,453.5h0.75v0.75h-0.75zM127.5,434.7h0.75v0.75h-0.75zM155.0,420.3h0.75v0.75h-0.75zM133.5,435.1h0.75v0.75h-0.75zM129.1,455.9h0.75v0.75h-0.75zM128.3,425.8h0.75v0.75h-0.75zM137.9,447.1h0.75v0.75h-0.75zM166.0,448.1h0.75v0.75h-0.75zM155.4,433.4h0.75v0.75h-0.75zM127.3,444.5h0.75v0.75h-0.75zM149.2,435.9h0.75v0.75h-0.75zM141.7,430.0h0.75v0.75h-0.75zM126.3,473.5h0.75v0.75h-0.75zM148.3,423.4h0.75v0.75h-0.75zM165.9,413.9h0.75v0.75h-0.75zM135.5,456.2h0.75v0.75h-0.75zM148.7,440.2h0.75v0.75h-0.75zM135.5,433.9h0.75v0.75h-0.75zM153.1,433.9h0.75v0.75h-0.75zM137.6,439.4h0.75v0.75h-0.75zM131.6,449.2h0.75v0.75h-0.75zM135.9,441.3h0.75v0.75h-0.75zM135.0,429.1h0.75v0.75h-0.75zM115.2,444.8h0.75v0.75h-0.75zM124.7,455.7h0.75v0.75h-0.75zM120.1,456.9h0.75v0.75h-0.75zM139.4,407.5h0.75v0.75h-0.75zM157.6,420.3h0.75v0.75h-0.75zM143.0,413.9h0.75v0.75h-0.75zM146.0,451.1h0.75v0.75h-0.75zM116.5,442.4h0.75v0.75h-0.75zM122.4,455.2h0.75v0.75h-0.75zM154.3,386.3h0.75v0.75h-0.75zM147.5,423.3h0.75v0.75h-0.75zM139.3,434.6h0.75v0.75h-0.75zM132.9,462.7h0.75v0.75h-0.75zM147.6,428.8h0.75v0.75h-0.75zM154.1,422.5h0.75v0.75h-0.75zM124.7,446.1h0.75v0.75h-0.75zM136.2,435.5h0.75v0.75h-0.75zM130.3,433.6h0.75v0.75h-0.75zM113.4,465.5h0.75v0.75h-0.75zM137.2,450.3h0.75v0.75h-0.75zM129.4,457.9h0.75v0.75h-0.75zM136.2,440.6h0.75v0.75h-0.75zM132.3,447.4h0.75v0.75h-0.75zM129.9,468.9h0.75v0.75h-0.75zM165.9,422.6h0.75v0.75h-0.75zM127.2,432.0h0.75v0.75h-0.75zM132.2,444.4h0.75v0.75h-0.75zM155.7,427.4h0.75v0.75h-0.75zM158.8,436.1h0.75v0.75h-0.75zM130.2,452.6h0.75v0.75h-0.75zM141.5,449.0h0.75v0.75h-0.75zM131.3,442.9h0.75v0.75h-0.75zM140.5,451.0h0.75v0.75h-0.75zM124.9,443.2h0.75v0.75h-0.75zM154.6,419.4h0.75v0.75h-0.75zM157.0,409.2h0.75v0.75h-0.75zM155.2,430.0h0.75v0.75h-0.75zM142.9,410.9h0.75v0.75h-0.75zM131.7,425.5h0.75v0.75h-0.75zM137.2,421.7h0.75v0.75h-0.75zM121.0,454.0h0.75v0.75h-0.75zM146.2,431.8h0.75v0.75h-0.75zM144.9,438.8h0.75v0.75h-0.75zM118.7,437.4h0.75v0.75h-0.75zM119.0,455.2h0.75v0.75h-0.75zM138.0,432.4h0.75v0.75h-0.75zM138.2,430.7h0.75v0.75h-0.75zM135.9,441.5h0.75v0.75h-0.75zM130.2,432.7h0.75v0.75h-0.75zM138.0,414.8h0.75v0.75h-0.75zM147.0,421.5h0.75v0.75h-0.75zM146.1,431.5h0.75v0.75h-0.75zM146.0,433.1h0.75v0.75h-0.75zM143.1,413.7h0.75v0.75h-0.75zM153.6,423.9h0.75v0.75h-0.75zM152.5,429.4h0.75v0.75h-0.75zM140.1,428.2h0.75v0.75h-0.75zM135.5,435.7h0.75v0.75h-0.75zM132.1,435.0h0.75v0.75h-0.75zM127.2,448.3h0.75v0.75h-0.75zM156.7,430.9h0.75v0.75h-0.75zM153.0,411.2h0.75v0.75h-0.75zM117.9,446.2h0.75v0.75h-0.75zM141.5,447.3h0.75v0.75h-0.75zM126.9,418.0h0.75v0.75h-0.75zM132.3,452.1h0.75v0.75h-0.75zM133.8,415.2h0.75v0.75h-0.75zM155.8,437.9h0.75v0.75h-0.75zM138.9,428.5h0.75v0.75h-0.75zM132.8,414.1h0.75v0.75h-0.75zM102.4,442.8h0.75v0.75h-0.75zM109.1,446.7h0.75v0.75h-0.75zM142.1,412.5h0.75v0.75h-0.75zM139.4,445.5h0.75v0.75h-0.75zM169.2,425.5h0.75v0.75h-0.75zM137.3,429.1h0.75v0.75h-0.75zM122.8,447.5h0.75v0.75h-0.75zM152.6,392.3h0.75v0.75h-0.75zM143.8,446.6h0.75v0.75h-0.75zM130.1,439.5h0.75v0.75h-0.75zM147.5,428.3h0.75v0.75h-0.75zM157.5,418.9h0.75v0.75h-0.75zM162.8,412.9h0.75v0.75h-0.75zM124.3,442.8h0.75v0.75h-0.75zM121.1,419.1h0.75v0.75h-0.75zM141.7,438.6h0.75v0.75h-0.75zM132.0,459.9h0.75v0.75h-0.75zM124.7,444.5h0.75v0.75h-0.75zM134.6,439.7h0.75v0.75h-0.75zM132.0,446.0h0.75v0.75h-0.75zM143.3,449.3h0.75v0.75h-0.75zM118.5,422.5h0.75v0.75h-0.75zM132.3,445.0h0.75v0.75h-0.75zM128.4,432.3h0.75v0.75h-0.75zM149.1,416.2h0.75v0.75h-0.75zM144.7,427.9h0.75v0.75h-0.75zM154.7,422.8h0.75v0.75h-0.75zM124.4,449.3h0.75v0.75h-0.75zM146.6,417.6h0.75v0.75h-0.75zM119.9,429.3h0.75v0.75h-0.75zM122.0,444.5h0.75v0.75h-0.75zM117.8,421.7h0.75v0.75h-0.75zM123.9,435.7h0.75v0.75h-0.75zM160.7,417.0h0.75v0.75h-0.75zM117.1,449.3h0.75v0.75h-0.75zM134.9,443.0h0.75v0.75h-0.75zM103.4,439.4h0.75v0.75h-0.75zM132.8,454.4h0.75v0.75h-0.75zM138.7,420.7h0.75v0.75h-0.75zM121.1,454.5h0.75v0.75h-0.75zM140.6,475.8h0.75v0.75h-0.75zM127.9,449.9h0.75v0.75h-0.75zM134.9,445.9h0.75v0.75h-0.75zM111.9,450.7h0.75v0.75h-0.75zM146.9,445.9h0.75v0.75h-0.75zM144.2,434.8h0.75v0.75h-0.75zM142.0,433.5h0.75v0.75h-0.75zM154.7,407.1h0.75v0.75h-0.75zM123.4,444.6h0.75v0.75h-0.75zM137.4,435.0h0.75v0.75h-0.75zM129.5,450.9h0.75v0.75h-0.75zM132.3,445.1h0.75v0.75h-0.75zM112.8,465.1h0.75v0.75h-0.75zM131.8,446.9h0.75v0.75h-0.75zM132.7,445.3h0.75v0.75h-0.75zM160.9,434.4h0.75v0.75h-0.75zM142.8,421.7h0.75v0.75h-0.75zM145.9,456.1h0.75v0.75h-0.75zM128.7,443.5h0.75v0.75h-0.75zM161.7,433.5h0.75v0.75h-0.75zM130.9,438.4h0.75v0.75h-0.75zM130.2,451.1h0.75v0.75h-0.75zM125.1,440.0h0.75v0.75h-0.75zM116.6,441.0h0.75v0.75h-0.75zM153.2,426.7h0.75v0.75h-0.75zM128.8,435.3h0.75v0.75h-0.75zM145.3,439.5h0.75v0.75h-0.75zM161.1,412.7h0.75v0.75h-0.75zM119.1,441.3h0.75v0.75h-0.75zM133.0,418.6h0.75v0.75h-0.75zM137.4,436.6h0.75v0.75h-0.75zM144.3,440.5h0.75v0.75h-0.75zM136.3,427.9h0.75v0.75h-0.75zM130.8,428.8h0.75v0.75h-0.75zM130.0,436.5h0.75v0.75h-0.75zM153.2,434.3h0.75v0.75h-0.75zM140.6,405.0h0.75v0.75h-0.75zM145.8,434.0h0.75v0.75h-0.75zM121.5,429.5h0.75v0.75h-0.75zM158.2,440.8h0.75v0.75h-0.75zM132.0,436.6h0.75v0.75h-0.75zM135.9,448.5h0.75v0.75h-0.75zM155.0,442.5h0.75v0.75h-0.75zM125.4,429.2h0.75v0.75h-0.75zM152.7,429.5h0.75v0.75h-0.75zM142.7,414.5h0.75v0.75h-0.75zM135.7,443.7h0.75v0.75h-0.75zM160.4,419.2h0.75v0.75h-0.75zM153.5,421.0h0.75v0.75h-0.75zM150.9,411.8h0.75v0.75h-0.75zM128.7,442.1h0.75v0.75h-0.75zM134.1,444.4h0.75v0.75h-0.75zM158.7,447.3h0.75v0.75h-0.75zM139.3,420.8h0.75v0.75h-0.75zM118.5,446.0h0.75v0.75h-0.75zM124.2,445.0h0.75v0.75h-0.75zM123.6,457.8h0.75v0.75h-0.75zM118.7,442.5h0.75v0.75h-0.75zM147.1,422.9h0.75v0.75h-0.75zM151.6,428.7h0.75v0.75h-0.75zM131.4,454.9h0.75v0.75h-0.75zM121.2,449.9h0.75v0.75h-0.75zM130.1,463.4h0.75v0.75h-0.75zM161.6,415.2h0.75v0.75h-0.75zM149.0,423.1h0.75v0.75h-0.75zM123.8,436.6h0.75v0.75h-0.75zM140.2,442.9h0.75v0.75h-0.75zM123.8,452.9h0.75v0.75h-0.75zM154.5,426.0h0.75v0.75h-0.75zM131.3,438.8h0.75v0.75h-0.75zM167.6,407.7h0.75v0.75h-0.75zM169.7,436.8h0.75v0.75h-0.75zM144.1,448.9h0.75v0.75h-0.75zM152.8,419.5h0.75v0.75h-0.75zM152.9,435.4h0.75v0.75h-0.75zM154.1,413.7h0.75v0.75h-0.75zM128.7,452.9h0.75v0.75h-0.75zM117.5,438.3h0.75v0.75h-0.75zM137.4,440.9h0.75v0.75h-0.75zM118.7,460.0h0.75v0.75h-0.75zM148.5,442.3h0.75v0.75h-0.75zM159.9,420.3h0.75v0.75h-0.75zM133.5,443.1h0.75v0.75h-0.75zM162.8,404.9h0.75v0.75h-0.75zM149.0,438.2h0.75v0.75h-0.75zM142.7,444.8h0.75v0.75h-0.75zM145.2,435.5h0.75v0.75h-0.75zM167.5,412.0h0.75v0.75h-0.75zM132.6,417.7h0.75v0.75h-0.75zM136.7,448.0h0.75v0.75h-0.75zM124.3,441.3h0.75v0.75h-0.75zM128.1,456.7h0.75v0.75h-0.75zM156.5,453.0h0.75v0.75h-0.75zM102.2,443.8h0.75v0.75h-0.75zM182.0,433.2h0.75v0.75h-0.75zM146.2,422.5h0.75v0.75h-0.75zM117.2,464.2h0.75v0.75h-0.75zM168.5,446.2h0.75v0.75h-0.75zM143.8,430.9h0.75v0.75h-0.75zM147.6,446.8h0.75v0.75h-0.75zM123.5,435.4h0.75v0.75h-0.75zM158.9,439.4h0.75v0.75h-0.75zM150.5,429.9h0.75v0.75h-0.75zM140.0,443.4h0.75v0.75h-0.75zM136.8,433.0h0.75v0.75h-0.75zM121.5,444.3h0.75v0.75h-0.75zM144.8,437.6h0.75v0.75h-0.75zM150.2,436.2h0.75v0.75h-0.75zM161.5,418.1h0.75v0.75h-0.75zM132.1,436.4h0.75v0.75h-0.75zM144.8,429.7h0.75v0.75h-0.75zM125.3,436.2h0.75v0.75h-0.75zM128.7,461.5h0.75v0.75h-0.75zM133.2,410.1h0.75v0.75h-0.75zM119.6,438.8h0.75v0.75h-0.75zM116.6,454.5h0.75v0.75h-0.75zM144.8,406.1h0.75v0.75h-0.75zM122.2,437.4h0.75v0.75h-0.75zM131.0,442.6h0.75v0.75h-0.75zM139.8,457.9h0.75v0.75h-0.75zM123.8,448.7h0.75v0.75h-0.75zM130.1,445.0h0.75v0.75h-0.75zM148.0,426.3h0.75v0.75h-0.75zM116.7,435.4h0.75v0.75h-0.75zM131.1,448.7h0.75v0.75h-0.75zM138.9,430.9h0.75v0.75h-0.75zM127.0,447.6h0.75v0.75h-0.75zM142.7,440.6h0.75v0.75h-0.75zM132.6,440.8h0.75v0.75h-0.75zM154.9,441.0h0.75v0.75h-0.75zM129.7,455.2h0.75v0.75h-0.75zM130.6,453.8h0.75v0.75h-0.75zM142.3,424.5h0.75v0.75h-0.75zM134.4,449.4h0.75v0.75h-0.75zM130.9,428.4h0.75v0.75h-0.75zM156.8,418.8h0.75v0.75h-0.75zM136.6,443.4h0.75v0.75h-0.75zM147.6,424.4h0.75v0.75h-0.75zM158.9,449.7h0.75v0.75h-0.75zM146.0,438.7h0.75v0.75h-0.75zM141.9,431.6h0.75v0.75h-0.75zM120.1,435.9h0.75v0.75h-0.75zM134.5,454.3h0.75v0.75h-0.75zM148.9,443.7h0.75v0.75h-0.75zM154.2,420.1h0.75v0.75h-0.75zM169.0,399.4h0.75v0.75h-0.75zM130.1,427.6h0.75v0.75h-0.75zM125.4,447.7h0.75v0.75h-0.75zM147.5,405.8h0.75v0.75h-0.75zM146.1,437.4h0.75v0.75h-0.75zM140.8,415.2h0.75v0.75h-0.75zM116.5,443.3h0.75v0.75h-0.75zM143.8,445.3h0.75v0.75h-0.75zM136.0,429.8h0.75v0.75h-0.75zM124.5,452.0h0.75v0.75h-0.75zM133.9,424.7h0.75v0.75h-0.75zM158.9,417.9h0.75v0.75h-0.75zM134.2,449.1h0.75v0.75h-0.75zM111.7,439.4h0.75v0.75h-0.75zM148.7,431.3h0.75v0.75h-0.75zM136.6,419.2h0.75v0.75h-0.75zM129.4,449.4h0.75v0.75h-0.75zM165.9,421.5h0.75v0.75h-0.75zM117.1,444.1h0.75v0.75h-0.75zM162.2,408.0h0.75v0.75h-0.75zM128.2,447.4h0.75v0.75h-0.75zM109.9,447.1h0.75v0.75h-0.75zM129.3,446.7h0.75v0.75h-0.75zM100.2,450.1h0.75v0.75h-0.75zM144.4,408.1h0.75v0.75h-0.75zM127.7,452.3h0.75v0.75h-0.75zM157.8,419.4h0.75v0.75h-0.75zM158.3,417.4h0.75v0.75h-0.75zM142.8,426.3h0.75v0.75h-0.75zM127.6,450.9h0.75v0.75h-0.75zM135.3,450.0h0.75v0.75h-0.75zM134.8,440.0h0.75v0.75h-0.75zM148.9,428.8h0.75v0.75h-0.75zM132.7,437.5h0.75v0.75h-0.75zM121.9,451.3h0.75v0.75h-0.75zM159.5,422.0h0.75v0.75h-0.75zM127.2,431.0h0.75v0.75h-0.75zM108.7,452.4h0.75v0.75h-0.75zM134.9,442.9h0.75v0.75h-0.75zM130.3,417.7h0.75v0.75h-0.75zM141.6,446.6h0.75v0.75h-0.75zM134.0,435.7h0.75v0.75h-0.75zM131.5,442.8h0.75v0.75h-0.75zM128.3,449.6h0.75v0.75h-0.75zM151.7,433.4h0.75v0.75h-0.75zM120.4,448.1h0.75v0.75h-0.75zM161.5,386.7h0.75v0.75h-0.75zM133.6,438.2h0.75v0.75h-0.75zM164.7,421.8h0.75v0.75h-0.75zM179.1,418.5h0.75v0.75h-0.75zM136.7,421.4h0.75v0.75h-0.75zM140.8,429.4h0.75v0.75h-0.75zM128.2,435.5h0.75v0.75h-0.75zM166.3,414.5h0.75v0.75h-0.75zM107.5,461.6h0.75v0.75h-0.75zM145.8,442.6h0.75v0.75h-0.75zM130.3,461.4h0.75v0.75h-0.75zM140.1,443.0h0.75v0.75h-0.75zM155.7,447.8h0.75v0.75h-0.75zM142.6,419.5h0.75v0.75h-0.75zM152.6,425.3h0.75v0.75h-0.75zM161.3,413.4h0.75v0.75h-0.75zM132.4,446.1h0.75v0.75h-0.75zM115.9,433.0h0.75v0.75h-0.75zM153.0,432.3h0.75v0.75h-0.75zM140.9,437.8h0.75v0.75h-0.75zM141.1,457.9h0.75v0.75h-0.75zM146.6,413.9h0.75v0.75h-0.75zM162.7,420.0h0.75v0.75h-0.75zM167.2,416.5h0.75v0.75h-0.75zM113.7,441.3h0.75v0.75h-0.75zM147.8,439.2h0.75v0.75h-0.75zM140.8,423.3h0.75v0.75h-0.75zM157.3,425.8h0.75v0.75h-0.75zM158.3,422.7h0.75v0.75h-0.75zM150.8,416.2h0.75v0.75h-0.75zM128.6,452.3h0.75v0.75h-0.75zM128.8,431.5h0.75v0.75h-0.75zM126.1,448.0h0.75v0.75h-0.75zM128.1,439.2h0.75v0.75h-0.75zM135.2,451.4h0.75v0.75h-0.75zM141.0,435.8h0.75v0.75h-0.75zM112.0,436.0h0.75v0.75h-0.75zM134.0,448.8h0.75v0.75h-0.75zM153.1,439.5h0.75v0.75h-0.75zM137.0,424.2h0.75v0.75h-0.75zM153.3,441.7h0.75v0.75h-0.75zM146.4,418.5h0.75v0.75h-0.75zM165.1,438.1h0.75v0.75h-0.75zM148.4,428.2h0.75v0.75h-0.75zM148.3,438.6h0.75v0.75h-0.75zM125.5,450.2h0.75v0.75h-0.75zM134.8,445.4h0.75v0.75h-0.75zM112.0,446.4h0.75v0.75h-0.75zM158.0,427.0h0.75v0.75h-0.75zM139.4,436.8h0.75v0.75h-0.75zM113.9,442.0h0.75v0.75h-0.75zM138.6,426.9h0.75v0.75h-0.75zM145.8,420.5h0.75v0.75h-0.75zM146.9,436.5h0.75v0.75h-0.75zM136.5,438.8h0.75v0.75h-0.75zM134.7,420.0h0.75v0.75h-0.75zM156.0,399.6h0.75v0.75h-0.75zM125.8,446.5h0.75v0.75h-0.75zM157.8,413.8h0.75v0.75h-0.75zM125.7,447.6h0.75v0.75h-0.75zM140.3,441.5h0.75v0.75h-0.75zM117.9,435.2h0.75v0.75h-0.75zM127.4,449.0h0.75v0.75h-0.75zM134.3,433.9h0.75v0.75h-0.75zM144.2,432.0h0.75v0.75h-0.75zM161.2,422.3h0.75v0.75h-0.75zM140.5,414.4h0.75v0.75h-0.75zM140.0,431.9h0.75v0.75h-0.75zM129.8,433.5h0.75v0.75h-0.75zM143.6,428.2h0.75v0.75h-0.75zM126.1,462.7h0.75v0.75h-0.75zM137.4,431.2h0.75v0.75h-0.75zM126.5,441.7h0.75v0.75h-0.75zM153.9,430.8h0.75v0.75h-0.75zM169.2,415.4h0.75v0.75h-0.75zM131.2,445.9h0.75v0.75h-0.75zM154.9,446.8h0.75v0.75h-0.75zM125.0,441.1h0.75v0.75h-0.75zM153.8,444.1h0.75v0.75h-0.75zM146.7,410.8h0.75v0.75h-0.75zM127.9,469.3h0.75v0.75h-0.75zM156.4,439.2h0.75v0.75h-0.75zM132.4,445.2h0.75v0.75h-0.75zM132.2,448.3h0.75v0.75h-0.75zM168.0,426.9h0.75v0.75h-0.75zM125.4,468.4h0.75v0.75h-0.75zM129.2,420.0h0.75v0.75h-0.75zM138.0,432.2h0.75v0.75h-0.75zM101.5,428.3h0.75v0.75h-0.75zM134.2,410.6h0.75v0.75h-0.75zM143.7,493.1h0.75v0.75h-0.75zM154.1,407.7h0.75v0.75h-0.75zM62.3,426.7h0.75v0.75h-0.75zM116.2,490.8h0.75v0.75h-0.75zM131.1,446.8h0.75v0.75h-0.75zM138.9,451.5h0.75v0.75h-0.75zM148.5,452.2h0.75v0.75h-0.75zM131.9,409.1h0.75v0.75h-0.75zM75.0,436.4h0.75v0.75h-0.75zM176.2,504.2h0.75v0.75h-0.75z" fill="#222" fill-opacity="0.7"/>
<path d="M168.76,405.46 L169.73,406.46 L170.61,407.54 L171.40,408.71 L172.08,409.95 L172.65,411.26 L173.11,412.64 L173.46,414.07 L173.69,415.55 L173.80,417.07 L173.80,418.63 L173.67,420.22 L173.43,421.83 L173.06,423.45 L172.58,425.07 L171.99,426.70 L171.29,428.32 L170.47,429.93 L169.56,431.53 L168.54,433.09 L167.43,434.63 L166.24,436.13 L164.96,437.58 L163.61,439.00 L162.20,440.36 L160.72,441.66 L159.19,442.91 L157.62,444.09 L156.01,445.21 L154.37,446.25 L152.72,447.22 L151.05,448.11 L149.38,448.92 L147.72,449.65 L146.06,450.29 L144.43,450.84 L142.82,451.30 L141.25,451.67 L139.72,451.94 L138.24,452.12 L136.81,452.21 L135.43,452.19 L134.13,452.08 L132.88,451.87 L131.72,451.56 L130.63,451.15 L129.61,450.64 L128.68,450.04 L127.84,449.34 L127.08,448.55 L126.42,447.66 L125.84,446.69 L125.36,445.63 L124.97,444.48 L124.67,443.26 L124.47,441.96 L124.36,440.60 L124.34,439.16 L124.41,437.67 L124.58,436.12 L124.84,434.53 L125.19,432.89 L125.63,431.23 L126.15,429.53 L126.76,427.82 L127.45,426.10 L128.22,424.37 L129.07,422.66 L130.00,420.95 L131.00,419.27 L132.07,417.62 L133.20,416.01 L134.40,414.44 L135.66,412.93 L136.98,411.49 L138.34,410.11 L139.76,408.82 L141.21,407.60 L142.70,406.48 L144.23,405.46 L145.77,404.53 L147.34,403.72 L148.93,403.01 L150.52,402.42 L152.11,401.95 L153.69,401.59 L155.27,401.35 L156.82,401.24 L158.35,401.25 L159.84,401.37 L161.30,401.62 L162.70,401.99 L164.05,402.46 L165.34,403.06 L166.56,403.75 L167.70,404.56Z" fill="#fff" stroke="#000" stroke-width="1.0" stroke-linejoin="round"/>
<path d="M168.32,406.03 L169.24,406.96 L170.06,407.98 L170.80,409.08 L171.43,410.25 L171.97,411.48 L172.40,412.78 L172.73,414.13 L172.94,415.53 L173.05,416.97 L173.04,418.44 L172.92,419.94 L172.69,421.46 L172.34,422.99 L171.89,424.53 L171.33,426.07 L170.67,427.61 L169.90,429.13 L169.04,430.64 L168.08,432.13 L167.04,433.58 L165.92,435.01 L164.71,436.39 L163.44,437.73 L162.11,439.02 L160.72,440.27 L159.28,441.45 L157.80,442.57 L156.28,443.63 L154.74,444.62 L153.18,445.54 L151.61,446.39 L150.03,447.16 L148.46,447.85 L146.90,448.46 L145.36,448.98 L143.84,449.42 L142.35,449.77 L140.90,450.03 L139.50,450.20 L138.14,450.27 L136.84,450.26 L135.60,450.15 L134.42,449.94 L133.31,449.64 L132.27,449.25 L131.31,448.77 L130.43,448.19 L129.62,447.53 L128.90,446.77 L128.27,445.93 L127.72,445.00 L127.25,443.99 L126.88,442.91 L126.59,441.75 L126.40,440.52 L126.29,439.22 L126.27,437.86 L126.34,436.45 L126.50,434.99 L126.74,433.48 L127.07,431.93 L127.49,430.36 L127.99,428.76 L128.56,427.14 L129.22,425.52 L129.96,423.89 L130.77,422.27 L131.65,420.66 L132.60,419.07 L133.62,417.52 L134.70,416.00 L135.84,414.53 L137.04,413.11 L138.28,411.74 L139.58,410.45 L140.92,409.23 L142.30,408.09 L143.72,407.03 L145.16,406.06 L146.63,405.19 L148.12,404.42 L149.62,403.76 L151.12,403.20 L152.63,402.75 L154.13,402.41 L155.61,402.19 L157.08,402.08 L158.52,402.08 L159.93,402.20 L161.30,402.43 L162.62,402.77 L163.89,403.22 L165.11,403.77 L166.25,404.43 L167.33,405.18Z" fill="none" stroke="#000" stroke-width="1.0" stroke-linejoin="round"/>
<path d="M167.88,406.59 L168.74,407.47 L169.51,408.43 L170.20,409.46 L170.79,410.56 L171.29,411.72 L171.70,412.94 L172.00,414.21 L172.20,415.53 L172.29,416.88 L172.28,418.27 L172.17,419.68 L171.95,421.11 L171.63,422.56 L171.20,424.01 L170.67,425.47 L170.05,426.92 L169.33,428.37 L168.52,429.79 L167.62,431.20 L166.64,432.58 L165.58,433.93 L164.46,435.24 L163.26,436.51 L162.01,437.73 L160.70,438.91 L159.35,440.03 L157.96,441.10 L156.53,442.10 L155.08,443.04 L153.61,443.92 L152.13,444.72 L150.65,445.45 L149.17,446.10 L147.70,446.68 L146.24,447.17 L144.81,447.59 L143.41,447.92 L142.04,448.16 L140.71,448.32 L139.43,448.39 L138.20,448.37 L137.02,448.26 L135.91,448.07 L134.86,447.78 L133.87,447.41 L132.96,446.95 L132.12,446.40 L131.35,445.76 L130.67,445.05 L130.06,444.25 L129.54,443.37 L129.10,442.41 L128.74,441.38 L128.47,440.28 L128.28,439.12 L128.17,437.89 L128.15,436.61 L128.22,435.27 L128.37,433.89 L128.60,432.47 L128.91,431.01 L129.30,429.53 L129.77,428.02 L130.32,426.49 L130.95,424.96 L131.64,423.43 L132.41,421.91 L133.25,420.39 L134.15,418.90 L135.12,417.44 L136.14,416.01 L137.23,414.62 L138.36,413.29 L139.55,412.01 L140.78,410.79 L142.05,409.64 L143.35,408.57 L144.69,407.58 L146.06,406.67 L147.45,405.85 L148.85,405.13 L150.27,404.50 L151.69,403.97 L153.11,403.55 L154.53,403.23 L155.93,403.02 L157.31,402.91 L158.67,402.91 L160.00,403.02 L161.28,403.23 L162.53,403.55 L163.72,403.97 L164.86,404.48 L165.94,405.10 L166.95,405.80Z" fill="none" stroke="#000" stroke-width="1.0" stroke-linejoin="round"/>
<path d="M167.43,407.17 L168.23,407.99 L168.95,408.88 L169.60,409.85 L170.15,410.88 L170.62,411.97 L170.99,413.11 L171.27,414.31 L171.46,415.54 L171.54,416.81 L171.53,418.12 L171.42,419.45 L171.22,420.80 L170.91,422.16 L170.51,423.53 L170.02,424.90 L169.43,426.27 L168.76,427.63 L168.00,428.98 L167.15,430.31 L166.24,431.61 L165.25,432.89 L164.19,434.13 L163.07,435.33 L161.89,436.49 L160.67,437.60 L159.40,438.66 L158.09,439.67 L156.76,440.62 L155.39,441.51 L154.01,442.34 L152.63,443.09 L151.23,443.78 L149.84,444.40 L148.45,444.95 L147.09,445.41 L145.74,445.80 L144.42,446.11 L143.13,446.34 L141.88,446.49 L140.67,446.55 L139.50,446.54 L138.40,446.43 L137.34,446.24 L136.35,445.97 L135.42,445.62 L134.55,445.18 L133.76,444.66 L133.03,444.05 L132.38,443.37 L131.81,442.62 L131.31,441.78 L130.89,440.88 L130.55,439.91 L130.29,438.87 L130.11,437.77 L130.00,436.61 L129.98,435.40 L130.04,434.14 L130.18,432.84 L130.40,431.50 L130.69,430.13 L131.07,428.73 L131.51,427.31 L132.03,425.88 L132.62,424.44 L133.28,423.00 L134.01,421.57 L134.80,420.15 L135.66,418.75 L136.57,417.38 L137.54,416.04 L138.57,414.74 L139.64,413.48 L140.76,412.28 L141.93,411.14 L143.13,410.06 L144.36,409.06 L145.63,408.12 L146.92,407.27 L148.23,406.50 L149.56,405.82 L150.89,405.23 L152.23,404.74 L153.57,404.34 L154.90,404.04 L156.22,403.84 L157.52,403.74 L158.79,403.73 L160.04,403.83 L161.25,404.03 L162.42,404.32 L163.54,404.71 L164.60,405.19 L165.61,405.77 L166.55,406.42Z" fill="none" stroke="#000" stroke-width="1.0" stroke-linejoin="round"/>
<path d="M166.97,407.74 L167.72,408.51 L168.40,409.34 L168.99,410.25 L169.51,411.21 L169.94,412.23 L170.29,413.30 L170.55,414.42 L170.72,415.58 L170.80,416.77 L170.79,417.99 L170.69,419.24 L170.49,420.51 L170.20,421.79 L169.83,423.08 L169.36,424.37 L168.82,425.66 L168.18,426.94 L167.47,428.21 L166.69,429.46 L165.83,430.68 L164.90,431.88 L163.91,433.05 L162.86,434.19 L161.76,435.28 L160.62,436.33 L159.43,437.33 L158.21,438.29 L156.96,439.18 L155.68,440.02 L154.39,440.80 L153.09,441.52 L151.78,442.17 L150.47,442.75 L149.18,443.26 L147.89,443.71 L146.62,444.07 L145.38,444.36 L144.17,444.58 L142.99,444.72 L141.86,444.77 L140.76,444.75 L139.72,444.65 L138.72,444.47 L137.79,444.22 L136.91,443.88 L136.09,443.46 L135.34,442.97 L134.65,442.40 L134.04,441.76 L133.49,441.04 L133.02,440.25 L132.62,439.40 L132.30,438.48 L132.05,437.51 L131.88,436.47 L131.78,435.38 L131.76,434.24 L131.82,433.06 L131.95,431.83 L132.15,430.57 L132.43,429.29 L132.78,427.97 L133.20,426.64 L133.69,425.30 L134.25,423.95 L134.87,422.60 L135.56,421.26 L136.31,419.93 L137.12,418.62 L137.98,417.33 L138.90,416.08 L139.86,414.86 L140.88,413.69 L141.94,412.56 L143.03,411.49 L144.17,410.49 L145.33,409.54 L146.52,408.67 L147.74,407.87 L148.97,407.15 L150.22,406.52 L151.48,405.96 L152.73,405.50 L153.99,405.12 L155.24,404.84 L156.48,404.65 L157.70,404.55 L158.90,404.55 L160.06,404.64 L161.20,404.82 L162.29,405.09 L163.34,405.45 L164.33,405.90 L165.28,406.43 L166.16,407.05Z" fill="none" stroke="#000" stroke-width="1.0" stroke-linejoin="round"/>
<path d="M166.51,408.32 L167.21,409.03 L167.84,409.81 L168.39,410.65 L168.87,411.55 L169.27,412.50 L169.60,413.50 L169.84,414.55 L169.99,415.63 L170.06,416.75 L170.05,417.89 L169.95,419.06 L169.77,420.25 L169.50,421.45 L169.15,422.65 L168.72,423.86 L168.20,425.07 L167.61,426.28 L166.95,427.47 L166.21,428.64 L165.41,429.80 L164.55,430.92 L163.63,432.02 L162.65,433.09 L161.62,434.12 L160.55,435.11 L159.44,436.05 L158.30,436.95 L157.13,437.79 L155.94,438.58 L154.74,439.32 L153.52,439.99 L152.30,440.60 L151.07,441.15 L149.86,441.63 L148.66,442.05 L147.47,442.39 L146.31,442.67 L145.17,442.87 L144.07,442.99 L143.00,443.05 L141.97,443.03 L140.99,442.93 L140.06,442.76 L139.17,442.51 L138.35,442.19 L137.58,441.80 L136.87,441.33 L136.22,440.80 L135.64,440.19 L135.13,439.52 L134.68,438.78 L134.31,437.97 L134.00,437.11 L133.76,436.19 L133.60,435.22 L133.51,434.20 L133.49,433.13 L133.54,432.02 L133.66,430.87 L133.85,429.69 L134.11,428.48 L134.44,427.25 L134.83,426.01 L135.30,424.75 L135.82,423.49 L136.41,422.23 L137.06,420.97 L137.76,419.73 L138.52,418.50 L139.34,417.30 L140.20,416.13 L141.11,414.99 L142.07,413.90 L143.06,412.85 L144.10,411.85 L145.16,410.91 L146.26,410.03 L147.38,409.22 L148.52,408.47 L149.68,407.80 L150.85,407.20 L152.03,406.69 L153.21,406.25 L154.38,405.90 L155.56,405.63 L156.71,405.45 L157.86,405.36 L158.97,405.36 L160.07,405.44 L161.12,405.60 L162.14,405.85 L163.12,406.19 L164.05,406.61 L164.93,407.10 L165.75,407.67Z" fill="none" stroke="#000" stroke-width="1.0" stroke-linejoin="round"/>
<path d="M166.05,408.89 L166.69,409.56 L167.27,410.28 L167.79,411.06 L168.23,411.90 L168.61,412.78 L168.90,413.72 L169.12,414.69 L169.27,415.70 L169.33,416.74 L169.32,417.81 L169.23,418.90 L169.05,420.01 L168.80,421.13 L168.47,422.26 L168.07,423.39 L167.59,424.52 L167.04,425.65 L166.43,426.76 L165.74,427.86 L165.00,428.95 L164.19,430.00 L163.33,431.04 L162.42,432.04 L161.47,433.00 L160.47,433.93 L159.44,434.81 L158.38,435.66 L157.29,436.45 L156.18,437.19 L155.05,437.88 L153.92,438.51 L152.78,439.09 L151.64,439.60 L150.51,440.05 L149.38,440.44 L148.27,440.76 L147.19,441.02 L146.12,441.21 L145.09,441.32 L144.09,441.37 L143.13,441.35 L142.21,441.26 L141.34,441.10 L140.51,440.87 L139.73,440.56 L139.01,440.19 L138.34,439.75 L137.74,439.25 L137.19,438.68 L136.71,438.05 L136.29,437.35 L135.93,436.60 L135.64,435.79 L135.42,434.93 L135.26,434.02 L135.18,433.06 L135.15,432.06 L135.20,431.02 L135.31,429.95 L135.49,428.84 L135.74,427.72 L136.05,426.57 L136.42,425.41 L136.85,424.23 L137.34,423.06 L137.90,421.88 L138.51,420.71 L139.17,419.55 L139.88,418.41 L140.65,417.29 L141.46,416.20 L142.32,415.14 L143.21,414.12 L144.15,413.14 L145.11,412.21 L146.11,411.34 L147.14,410.52 L148.19,409.76 L149.26,409.07 L150.35,408.44 L151.44,407.88 L152.54,407.40 L153.65,407.00 L154.75,406.67 L155.84,406.42 L156.92,406.25 L157.99,406.16 L159.03,406.15 L160.05,406.23 L161.03,406.38 L161.98,406.61 L162.89,406.92 L163.76,407.31 L164.58,407.76 L165.34,408.29Z" fill="none" stroke="#000" stroke-width="1.0" stroke-linejoin="round"/>
<path d="M165.58,409.47 L166.17,410.08 L166.71,410.75 L167.19,411.48 L167.60,412.25 L167.94,413.08 L168.22,413.94 L168.42,414.85 L168.55,415.78 L168.61,416.75 L168.59,417.75 L168.51,418.76 L168.34,419.80 L168.11,420.84 L167.81,421.89 L167.43,422.95 L166.99,424.00 L166.48,425.06 L165.90,426.10 L165.27,427.12 L164.58,428.14 L163.83,429.12 L163.03,430.09 L162.19,431.02 L161.30,431.93 L160.38,432.79 L159.42,433.62 L158.43,434.41 L157.42,435.15 L156.39,435.85 L155.35,436.49 L154.29,437.08 L153.23,437.62 L152.17,438.10 L151.12,438.52 L150.07,438.89 L149.04,439.19 L148.02,439.43 L147.03,439.60 L146.07,439.71 L145.14,439.76 L144.24,439.73 L143.38,439.65 L142.56,439.49 L141.79,439.27 L141.06,438.99 L140.39,438.64 L139.77,438.23 L139.20,437.76 L138.68,437.22 L138.23,436.63 L137.84,435.98 L137.50,435.28 L137.23,434.52 L137.02,433.71 L136.87,432.86 L136.79,431.97 L136.77,431.04 L136.81,430.07 L136.92,429.07 L137.08,428.04 L137.31,426.99 L137.60,425.92 L137.95,424.84 L138.35,423.75 L138.82,422.65 L139.33,421.56 L139.90,420.47 L140.52,419.39 L141.19,418.33 L141.91,417.29 L142.67,416.28 L143.47,415.30 L144.31,414.35 L145.18,413.44 L146.09,412.58 L147.02,411.77 L147.98,411.01 L148.97,410.30 L149.96,409.66 L150.98,409.08 L152.00,408.56 L153.03,408.11 L154.06,407.73 L155.08,407.43 L156.10,407.19 L157.11,407.04 L158.10,406.95 L159.07,406.94 L160.01,407.01 L160.93,407.15 L161.81,407.36 L162.66,407.65 L163.46,408.00 L164.21,408.43 L164.92,408.92Z" fill="none" stroke="#000" stroke-width="1.0" stroke-linejoin="round"/>
<path d="M165.10,410.04 L165.65,410.61 L166.15,411.23 L166.59,411.90 L166.97,412.62 L167.28,413.38 L167.53,414.18 L167.72,415.02 L167.84,415.89 L167.89,416.78 L167.88,417.71 L167.79,418.65 L167.64,419.61 L167.43,420.58 L167.14,421.56 L166.80,422.54 L166.38,423.52 L165.91,424.50 L165.38,425.47 L164.79,426.42 L164.15,427.36 L163.46,428.28 L162.73,429.18 L161.95,430.05 L161.13,430.90 L160.27,431.71 L159.38,432.48 L158.47,433.21 L157.53,433.90 L156.58,434.55 L155.61,435.15 L154.63,435.71 L153.65,436.21 L152.67,436.66 L151.69,437.05 L150.72,437.39 L149.76,437.67 L148.82,437.89 L147.90,438.05 L147.00,438.15 L146.14,438.19 L145.30,438.17 L144.50,438.09 L143.74,437.94 L143.02,437.74 L142.34,437.47 L141.71,437.15 L141.13,436.76 L140.60,436.32 L140.12,435.82 L139.70,435.27 L139.33,434.66 L139.02,434.00 L138.76,433.30 L138.56,432.55 L138.43,431.76 L138.35,430.93 L138.33,430.06 L138.36,429.16 L138.46,428.23 L138.62,427.28 L138.83,426.30 L139.10,425.31 L139.42,424.31 L139.80,423.29 L140.23,422.28 L140.72,421.26 L141.25,420.26 L141.83,419.26 L142.45,418.28 L143.12,417.31 L143.83,416.38 L144.58,415.47 L145.36,414.59 L146.18,413.75 L147.02,412.95 L147.89,412.20 L148.79,411.49 L149.70,410.84 L150.63,410.24 L151.57,409.71 L152.52,409.23 L153.48,408.81 L154.43,408.46 L155.39,408.18 L156.33,407.96 L157.27,407.81 L158.18,407.73 L159.08,407.72 L159.96,407.78 L160.81,407.91 L161.62,408.10 L162.41,408.36 L163.15,408.69 L163.85,409.08 L164.50,409.53Z" fill="none" stroke="#000" stroke-width="1.0" stroke-linejoin="round"/>
<path d="M164.63,410.62 L165.14,411.14 L165.59,411.71 L165.99,412.32 L166.34,412.99 L166.63,413.69 L166.86,414.43 L167.03,415.20 L167.14,416.00 L167.18,416.83 L167.17,417.68 L167.09,418.55 L166.95,419.44 L166.75,420.34 L166.49,421.24 L166.17,422.15 L165.79,423.06 L165.35,423.97 L164.86,424.87 L164.32,425.76 L163.73,426.63 L163.09,427.48 L162.41,428.32 L161.69,429.13 L160.94,429.91 L160.15,430.66 L159.33,431.38 L158.49,432.06 L157.62,432.71 L156.74,433.31 L155.85,433.87 L154.95,434.38 L154.04,434.85 L153.13,435.26 L152.23,435.63 L151.33,435.94 L150.44,436.20 L149.57,436.41 L148.72,436.56 L147.89,436.65 L147.09,436.69 L146.31,436.67 L145.57,436.59 L144.86,436.45 L144.20,436.26 L143.57,436.01 L142.98,435.71 L142.44,435.35 L141.95,434.94 L141.50,434.47 L141.11,433.96 L140.76,433.40 L140.47,432.79 L140.23,432.13 L140.05,431.44 L139.92,430.70 L139.84,429.93 L139.83,429.13 L139.86,428.29 L139.95,427.43 L140.09,426.55 L140.29,425.65 L140.54,424.73 L140.84,423.80 L141.20,422.87 L141.60,421.93 L142.05,421.00 L142.54,420.06 L143.08,419.14 L143.66,418.24 L144.28,417.35 L144.94,416.48 L145.64,415.64 L146.37,414.83 L147.12,414.06 L147.91,413.32 L148.72,412.63 L149.55,411.98 L150.39,411.38 L151.26,410.83 L152.13,410.33 L153.01,409.89 L153.90,409.50 L154.78,409.18 L155.66,408.91 L156.54,408.71 L157.40,408.57 L158.25,408.50 L159.08,408.49 L159.89,408.54 L160.67,408.66 L161.42,408.83 L162.14,409.07 L162.83,409.37 L163.47,409.73 L164.07,410.15Z" fill="none" stroke="#000" stroke-width="1.35" stroke-linejoin="round"/>
<path d="M164.15,411.18 L164.62,411.66 L165.03,412.19 L165.40,412.75 L165.72,413.36 L165.98,414.00 L166.19,414.68 L166.35,415.39 L166.44,416.13 L166.49,416.89 L166.47,417.68 L166.40,418.48 L166.27,419.30 L166.08,420.13 L165.84,420.96 L165.54,421.80 L165.20,422.64 L164.80,423.48 L164.35,424.31 L163.85,425.13 L163.31,425.93 L162.72,426.73 L162.10,427.50 L161.43,428.25 L160.74,428.97 L160.02,429.67 L159.26,430.33 L158.49,430.96 L157.70,431.56 L156.89,432.11 L156.06,432.63 L155.23,433.11 L154.40,433.54 L153.56,433.92 L152.73,434.26 L151.90,434.55 L151.09,434.79 L150.28,434.98 L149.50,435.12 L148.73,435.21 L147.99,435.24 L147.28,435.22 L146.59,435.15 L145.94,435.02 L145.32,434.84 L144.74,434.61 L144.20,434.33 L143.69,434.00 L143.24,433.61 L142.82,433.18 L142.46,432.71 L142.14,432.19 L141.87,431.62 L141.65,431.02 L141.48,430.38 L141.36,429.70 L141.29,428.99 L141.27,428.24 L141.30,427.47 L141.38,426.68 L141.51,425.87 L141.70,425.04 L141.93,424.19 L142.21,423.34 L142.53,422.48 L142.91,421.61 L143.32,420.75 L143.78,419.89 L144.28,419.05 L144.82,418.21 L145.40,417.40 L146.01,416.60 L146.65,415.83 L147.32,415.09 L148.02,414.37 L148.75,413.70 L149.50,413.06 L150.27,412.46 L151.05,411.91 L151.85,411.40 L152.65,410.94 L153.47,410.54 L154.28,410.18 L155.10,409.88 L155.91,409.64 L156.72,409.45 L157.51,409.33 L158.29,409.26 L159.06,409.24 L159.80,409.29 L160.52,409.39 L161.21,409.56 L161.87,409.78 L162.50,410.05 L163.09,410.38 L163.64,410.76Z" fill="none" stroke="#000" stroke-width="1.35" stroke-linejoin="round"/>
<path d="M163.68,411.75 L164.10,412.19 L164.48,412.66 L164.82,413.18 L165.10,413.74 L165.34,414.33 L165.53,414.95 L165.67,415.60 L165.76,416.27 L165.80,416.97 L165.78,417.69 L165.71,418.43 L165.60,419.18 L165.42,419.94 L165.20,420.71 L164.93,421.48 L164.61,422.25 L164.24,423.02 L163.83,423.78 L163.38,424.54 L162.88,425.28 L162.35,426.01 L161.77,426.72 L161.17,427.41 L160.53,428.07 L159.87,428.71 L159.18,429.33 L158.47,429.91 L157.75,430.46 L157.00,430.97 L156.25,431.45 L155.49,431.89 L154.73,432.28 L153.96,432.64 L153.20,432.95 L152.44,433.22 L151.69,433.44 L150.95,433.61 L150.23,433.74 L149.53,433.82 L148.85,433.85 L148.19,433.83 L147.56,433.76 L146.96,433.65 L146.39,433.48 L145.85,433.27 L145.35,433.01 L144.89,432.70 L144.47,432.35 L144.09,431.95 L143.75,431.51 L143.46,431.03 L143.21,430.51 L143.00,429.96 L142.84,429.37 L142.73,428.74 L142.67,428.09 L142.65,427.41 L142.68,426.70 L142.75,425.97 L142.88,425.22 L143.04,424.46 L143.26,423.69 L143.52,422.90 L143.82,422.11 L144.16,421.32 L144.54,420.53 L144.97,419.75 L145.43,418.97 L145.93,418.21 L146.46,417.46 L147.02,416.73 L147.61,416.02 L148.23,415.34 L148.88,414.69 L149.55,414.07 L150.24,413.49 L150.94,412.94 L151.67,412.43 L152.40,411.97 L153.14,411.55 L153.89,411.18 L154.64,410.85 L155.39,410.58 L156.13,410.35 L156.87,410.18 L157.60,410.06 L158.32,410.00 L159.02,409.99 L159.70,410.03 L160.36,410.12 L160.99,410.27 L161.60,410.47 L162.17,410.71 L162.71,411.01 L163.21,411.36Z" fill="none" stroke="#000" stroke-width="1.35" stroke-linejoin="round"/>
<path d="M163.20,412.31 L163.59,412.71 L163.93,413.14 L164.24,413.61 L164.50,414.11 L164.71,414.65 L164.89,415.22 L165.01,415.81 L165.09,416.43 L165.12,417.07 L165.11,417.72 L165.04,418.39 L164.93,419.08 L164.78,419.77 L164.57,420.47 L164.33,421.18 L164.03,421.89 L163.70,422.59 L163.32,423.29 L162.91,423.98 L162.46,424.66 L161.97,425.33 L161.45,425.98 L160.90,426.61 L160.32,427.22 L159.72,427.81 L159.09,428.37 L158.44,428.91 L157.78,429.41 L157.10,429.88 L156.42,430.32 L155.72,430.72 L155.02,431.09 L154.32,431.41 L153.63,431.70 L152.94,431.94 L152.25,432.15 L151.58,432.31 L150.92,432.42 L150.28,432.49 L149.65,432.52 L149.05,432.50 L148.47,432.44 L147.92,432.33 L147.40,432.18 L146.91,431.99 L146.45,431.75 L146.03,431.46 L145.64,431.14 L145.29,430.78 L144.98,430.37 L144.71,429.93 L144.48,429.46 L144.29,428.95 L144.15,428.41 L144.05,427.84 L143.99,427.24 L143.97,426.61 L144.00,425.97 L144.07,425.30 L144.18,424.62 L144.33,423.92 L144.53,423.21 L144.77,422.50 L145.04,421.78 L145.36,421.06 L145.71,420.34 L146.10,419.62 L146.52,418.91 L146.98,418.22 L147.47,417.53 L147.98,416.87 L148.53,416.23 L149.10,415.61 L149.69,415.01 L150.30,414.45 L150.93,413.92 L151.58,413.42 L152.24,412.95 L152.91,412.53 L153.59,412.15 L154.28,411.81 L154.96,411.51 L155.65,411.26 L156.33,411.06 L157.01,410.90 L157.67,410.79 L158.33,410.73 L158.96,410.71 L159.58,410.75 L160.18,410.83 L160.76,410.97 L161.31,411.15 L161.83,411.37 L162.32,411.64 L162.78,411.95Z" fill="none" stroke="#000" stroke-width="1.35" stroke-linejoin="round"/>
<path d="M162.73,412.86 L163.08,413.22 L163.39,413.61 L163.66,414.04 L163.90,414.50 L164.09,414.98 L164.25,415.49 L164.36,416.03 L164.43,416.59 L164.46,417.17 L164.44,417.77 L164.39,418.38 L164.28,419.00 L164.14,419.63 L163.96,420.27 L163.73,420.91 L163.47,421.55 L163.16,422.19 L162.82,422.83 L162.45,423.46 L162.04,424.08 L161.59,424.69 L161.12,425.28 L160.62,425.86 L160.10,426.42 L159.55,426.96 L158.98,427.47 L158.40,427.96 L157.79,428.42 L157.18,428.85 L156.56,429.25 L155.93,429.61 L155.29,429.95 L154.66,430.24 L154.03,430.51 L153.40,430.73 L152.77,430.91 L152.16,431.06 L151.56,431.17 L150.98,431.23 L150.41,431.25 L149.86,431.24 L149.34,431.18 L148.84,431.08 L148.36,430.94 L147.91,430.76 L147.50,430.55 L147.11,430.29 L146.76,429.99 L146.44,429.66 L146.15,429.29 L145.91,428.89 L145.70,428.46 L145.53,427.99 L145.39,427.50 L145.30,426.98 L145.24,426.44 L145.23,425.87 L145.25,425.28 L145.32,424.67 L145.42,424.05 L145.56,423.42 L145.74,422.78 L145.95,422.13 L146.21,421.47 L146.50,420.82 L146.82,420.16 L147.17,419.51 L147.56,418.87 L147.98,418.24 L148.42,417.62 L148.89,417.02 L149.39,416.44 L149.91,415.87 L150.45,415.33 L151.01,414.82 L151.59,414.34 L152.18,413.89 L152.78,413.47 L153.39,413.08 L154.01,412.73 L154.63,412.43 L155.26,412.16 L155.88,411.93 L156.50,411.74 L157.11,411.60 L157.72,411.50 L158.31,411.44 L158.89,411.43 L159.46,411.46 L160.00,411.53 L160.52,411.65 L161.02,411.81 L161.49,412.01 L161.94,412.26 L162.35,412.54Z" fill="none" stroke="#000" stroke-width="1.35" stroke-linejoin="round"/>
<path d="M162.26,413.41 L162.58,413.73 L162.86,414.08 L163.10,414.46 L163.31,414.88 L163.49,415.31 L163.62,415.78 L163.72,416.26 L163.79,416.77 L163.81,417.29 L163.79,417.83 L163.74,418.38 L163.65,418.94 L163.52,419.51 L163.35,420.09 L163.15,420.67 L162.91,421.25 L162.64,421.83 L162.33,422.41 L161.99,422.98 L161.62,423.54 L161.22,424.09 L160.79,424.63 L160.34,425.16 L159.87,425.66 L159.38,426.15 L158.86,426.61 L158.33,427.06 L157.79,427.47 L157.24,427.87 L156.68,428.23 L156.11,428.56 L155.54,428.86 L154.96,429.14 L154.39,429.37 L153.82,429.58 L153.26,429.74 L152.71,429.88 L152.16,429.97 L151.64,430.03 L151.12,430.05 L150.63,430.04 L150.15,429.98 L149.70,429.89 L149.27,429.77 L148.86,429.61 L148.48,429.41 L148.13,429.17 L147.81,428.91 L147.52,428.60 L147.26,428.27 L147.04,427.91 L146.85,427.51 L146.69,427.09 L146.57,426.65 L146.49,426.18 L146.44,425.68 L146.42,425.17 L146.44,424.64 L146.50,424.09 L146.59,423.53 L146.72,422.96 L146.89,422.37 L147.08,421.79 L147.31,421.20 L147.57,420.60 L147.87,420.01 L148.19,419.43 L148.54,418.85 L148.92,418.28 L149.33,417.72 L149.75,417.18 L150.21,416.65 L150.68,416.14 L151.17,415.66 L151.68,415.19 L152.20,414.76 L152.73,414.35 L153.28,413.97 L153.83,413.62 L154.39,413.31 L154.96,413.03 L155.52,412.79 L156.09,412.58 L156.65,412.41 L157.20,412.28 L157.75,412.19 L158.28,412.13 L158.81,412.12 L159.31,412.15 L159.81,412.21 L160.28,412.32 L160.73,412.46 L161.15,412.64 L161.55,412.86 L161.92,413.12Z" fill="none" stroke="#000" stroke-width="1.35" stroke-linejoin="round"/>
<path d="M161.80,413.94 L162.08,414.23 L162.33,414.54 L162.55,414.88 L162.74,415.25 L162.89,415.65 L163.01,416.06 L163.10,416.49 L163.16,416.95 L163.18,417.42 L163.16,417.90 L163.11,418.39 L163.03,418.90 L162.91,419.41 L162.76,419.93 L162.58,420.45 L162.36,420.98 L162.12,421.50 L161.84,422.02 L161.54,422.53 L161.21,423.04 L160.85,423.54 L160.47,424.02 L160.06,424.50 L159.64,424.95 L159.19,425.39 L158.74,425.81 L158.26,426.21 L157.77,426.59 L157.28,426.94 L156.77,427.27 L156.26,427.57 L155.75,427.84 L155.23,428.09 L154.72,428.30 L154.21,428.48 L153.71,428.64 L153.21,428.76 L152.72,428.84 L152.25,428.89 L151.78,428.91 L151.34,428.90 L150.91,428.85 L150.50,428.77 L150.11,428.66 L149.75,428.51 L149.41,428.33 L149.09,428.12 L148.80,427.88 L148.54,427.61 L148.31,427.31 L148.11,426.98 L147.93,426.63 L147.79,426.25 L147.68,425.85 L147.61,425.42 L147.56,424.98 L147.55,424.52 L147.57,424.04 L147.62,423.55 L147.71,423.04 L147.82,422.53 L147.97,422.01 L148.15,421.48 L148.36,420.95 L148.59,420.42 L148.86,419.89 L149.15,419.36 L149.47,418.84 L149.81,418.33 L150.17,417.83 L150.56,417.34 L150.97,416.87 L151.39,416.41 L151.84,415.98 L152.29,415.56 L152.77,415.17 L153.25,414.80 L153.74,414.46 L154.24,414.15 L154.74,413.87 L155.25,413.62 L155.76,413.40 L156.26,413.21 L156.77,413.06 L157.27,412.94 L157.76,412.86 L158.24,412.81 L158.71,412.80 L159.16,412.82 L159.60,412.88 L160.03,412.97 L160.43,413.10 L160.81,413.26 L161.17,413.45 L161.50,413.68Z" fill="none" stroke="#000" stroke-width="1.35" stroke-linejoin="round"/>
<path d="M161.35,414.46 L161.60,414.71 L161.82,414.99 L162.01,415.30 L162.18,415.63 L162.31,415.98 L162.42,416.34 L162.50,416.73 L162.55,417.13 L162.56,417.55 L162.55,417.98 L162.50,418.43 L162.43,418.88 L162.32,419.34 L162.19,419.80 L162.03,420.27 L161.83,420.73 L161.61,421.20 L161.37,421.67 L161.09,422.13 L160.80,422.58 L160.48,423.02 L160.14,423.46 L159.78,423.88 L159.40,424.29 L159.01,424.68 L158.60,425.06 L158.18,425.42 L157.74,425.76 L157.30,426.07 L156.85,426.37 L156.39,426.64 L155.94,426.88 L155.48,427.10 L155.02,427.29 L154.56,427.46 L154.11,427.59 L153.67,427.70 L153.23,427.78 L152.81,427.83 L152.40,427.84 L152.00,427.83 L151.62,427.79 L151.25,427.72 L150.90,427.62 L150.58,427.48 L150.27,427.32 L149.99,427.14 L149.73,426.92 L149.50,426.68 L149.29,426.41 L149.11,426.11 L148.95,425.80 L148.83,425.46 L148.73,425.10 L148.66,424.72 L148.62,424.32 L148.61,423.91 L148.63,423.48 L148.68,423.05 L148.75,422.59 L148.86,422.14 L148.99,421.67 L149.15,421.20 L149.33,420.73 L149.55,420.25 L149.79,419.78 L150.05,419.31 L150.33,418.85 L150.64,418.39 L150.97,417.94 L151.31,417.51 L151.68,417.09 L152.06,416.68 L152.46,416.29 L152.87,415.92 L153.29,415.58 L153.72,415.25 L154.16,414.95 L154.61,414.67 L155.06,414.42 L155.51,414.19 L155.97,413.99 L156.42,413.83 L156.87,413.69 L157.31,413.58 L157.75,413.51 L158.18,413.47 L158.60,413.45 L159.00,413.47 L159.39,413.52 L159.77,413.60 L160.13,413.72 L160.47,413.86 L160.78,414.03 L161.08,414.23Z" fill="none" stroke="#000" stroke-width="1.35" stroke-linejoin="round"/>
<path d="M160.91,414.97 L161.12,415.19 L161.32,415.44 L161.49,415.71 L161.63,416.00 L161.75,416.30 L161.85,416.63 L161.91,416.97 L161.95,417.33 L161.97,417.70 L161.96,418.08 L161.91,418.47 L161.85,418.87 L161.75,419.28 L161.63,419.69 L161.49,420.10 L161.32,420.52 L161.12,420.93 L160.90,421.34 L160.66,421.75 L160.40,422.16 L160.12,422.55 L159.82,422.94 L159.50,423.31 L159.16,423.68 L158.82,424.03 L158.45,424.36 L158.08,424.68 L157.70,424.98 L157.30,425.27 L156.91,425.53 L156.50,425.77 L156.10,425.99 L155.69,426.18 L155.28,426.35 L154.88,426.50 L154.48,426.62 L154.09,426.72 L153.70,426.79 L153.33,426.83 L152.96,426.84 L152.61,426.83 L152.27,426.80 L151.94,426.73 L151.64,426.64 L151.35,426.53 L151.07,426.38 L150.82,426.22 L150.59,426.02 L150.39,425.81 L150.20,425.57 L150.04,425.31 L149.91,425.03 L149.79,424.73 L149.71,424.41 L149.65,424.07 L149.61,423.72 L149.60,423.35 L149.62,422.98 L149.66,422.59 L149.73,422.19 L149.82,421.78 L149.94,421.37 L150.08,420.95 L150.25,420.53 L150.44,420.11 L150.65,419.69 L150.88,419.28 L151.14,418.87 L151.41,418.46 L151.70,418.07 L152.01,417.68 L152.34,417.31 L152.68,416.95 L153.03,416.61 L153.39,416.28 L153.77,415.97 L154.15,415.68 L154.54,415.41 L154.94,415.17 L155.34,414.94 L155.74,414.74 L156.15,414.57 L156.55,414.42 L156.95,414.30 L157.34,414.20 L157.73,414.14 L158.11,414.10 L158.48,414.08 L158.84,414.10 L159.18,414.14 L159.51,414.21 L159.83,414.31 L160.13,414.44 L160.41,414.59 L160.67,414.76Z" fill="none" stroke="#000" stroke-width="1.35" stroke-linejoin="round"/>
<path d="M160.48,415.45 L160.67,415.65 L160.83,415.87 L160.98,416.10 L161.11,416.35 L161.21,416.62 L161.29,416.91 L161.35,417.21 L161.39,417.52 L161.40,417.85 L161.39,418.18 L161.35,418.53 L161.29,418.88 L161.21,419.24 L161.10,419.60 L160.97,419.96 L160.82,420.33 L160.65,420.69 L160.46,421.06 L160.24,421.42 L160.01,421.77 L159.77,422.12 L159.50,422.46 L159.22,422.79 L158.93,423.12 L158.62,423.43 L158.30,423.72 L157.97,424.00 L157.64,424.27 L157.29,424.52 L156.94,424.75 L156.59,424.96 L156.23,425.16 L155.87,425.33 L155.52,425.48 L155.16,425.61 L154.81,425.72 L154.47,425.80 L154.13,425.86 L153.80,425.90 L153.47,425.92 L153.16,425.91 L152.86,425.88 L152.58,425.82 L152.31,425.74 L152.05,425.64 L151.81,425.51 L151.59,425.36 L151.39,425.20 L151.21,425.01 L151.05,424.80 L150.91,424.57 L150.79,424.32 L150.69,424.05 L150.61,423.77 L150.56,423.48 L150.53,423.17 L150.52,422.85 L150.53,422.51 L150.57,422.17 L150.63,421.82 L150.72,421.46 L150.82,421.10 L150.95,420.73 L151.09,420.36 L151.26,420.00 L151.45,419.63 L151.66,419.26 L151.88,418.90 L152.12,418.55 L152.38,418.20 L152.65,417.86 L152.94,417.53 L153.24,417.22 L153.55,416.92 L153.87,416.63 L154.20,416.36 L154.54,416.10 L154.89,415.86 L155.24,415.65 L155.59,415.45 L155.94,415.27 L156.30,415.12 L156.65,414.99 L157.00,414.88 L157.35,414.80 L157.69,414.74 L158.02,414.70 L158.35,414.69 L158.66,414.70 L158.97,414.74 L159.26,414.80 L159.53,414.89 L159.79,414.99 L160.04,415.12 L160.27,415.28Z" fill="none" stroke="#000" stroke-width="1.35" stroke-linejoin="round"/>
<path d="M160.06,415.92 L160.22,416.09 L160.37,416.28 L160.50,416.48 L160.61,416.70 L160.70,416.94 L160.77,417.19 L160.82,417.45 L160.85,417.72 L160.85,418.00 L160.84,418.30 L160.81,418.60 L160.76,418.90 L160.68,419.21 L160.59,419.53 L160.48,419.85 L160.34,420.17 L160.19,420.49 L160.03,420.80 L159.84,421.12 L159.64,421.43 L159.42,421.74 L159.19,422.03 L158.95,422.32 L158.69,422.61 L158.42,422.88 L158.15,423.14 L157.86,423.38 L157.57,423.62 L157.27,423.84 L156.96,424.04 L156.65,424.23 L156.34,424.39 L156.03,424.55 L155.72,424.68 L155.41,424.79 L155.10,424.89 L154.80,424.96 L154.51,425.02 L154.22,425.05 L153.94,425.07 L153.67,425.06 L153.41,425.03 L153.16,424.98 L152.92,424.91 L152.70,424.82 L152.49,424.71 L152.30,424.58 L152.12,424.44 L151.96,424.27 L151.82,424.09 L151.70,423.89 L151.59,423.67 L151.51,423.44 L151.44,423.20 L151.39,422.94 L151.37,422.67 L151.36,422.39 L151.37,422.10 L151.41,421.80 L151.46,421.49 L151.53,421.18 L151.63,420.86 L151.74,420.54 L151.87,420.22 L152.02,419.90 L152.18,419.58 L152.36,419.26 L152.56,418.95 L152.77,418.64 L153.00,418.33 L153.24,418.04 L153.49,417.75 L153.75,417.48 L154.02,417.21 L154.31,416.96 L154.60,416.73 L154.89,416.50 L155.19,416.30 L155.50,416.11 L155.81,415.93 L156.12,415.78 L156.43,415.65 L156.73,415.53 L157.04,415.44 L157.34,415.36 L157.64,415.31 L157.93,415.28 L158.21,415.26 L158.49,415.27 L158.75,415.31 L159.00,415.36 L159.24,415.43 L159.47,415.52 L159.68,415.64 L159.88,415.77Z" fill="none" stroke="#000" stroke-width="1.35" stroke-linejoin="round"/>
<path d="M159.67,416.36 L159.81,416.51 L159.93,416.67 L160.04,416.85 L160.13,417.04 L160.21,417.24 L160.27,417.45 L160.31,417.68 L160.34,417.91 L160.34,418.16 L160.33,418.41 L160.30,418.67 L160.25,418.94 L160.19,419.21 L160.11,419.48 L160.01,419.76 L159.89,420.03 L159.76,420.31 L159.62,420.58 L159.46,420.86 L159.28,421.13 L159.10,421.39 L158.90,421.65 L158.68,421.90 L158.46,422.15 L158.23,422.38 L157.99,422.61 L157.74,422.83 L157.49,423.03 L157.23,423.22 L156.97,423.40 L156.70,423.56 L156.43,423.71 L156.16,423.84 L155.89,423.96 L155.62,424.05 L155.36,424.14 L155.10,424.20 L154.84,424.25 L154.59,424.28 L154.35,424.29 L154.11,424.29 L153.89,424.26 L153.67,424.22 L153.47,424.16 L153.28,424.09 L153.10,423.99 L152.93,423.88 L152.78,423.75 L152.64,423.61 L152.52,423.45 L152.41,423.28 L152.32,423.09 L152.25,422.89 L152.19,422.68 L152.15,422.46 L152.13,422.22 L152.12,421.98 L152.13,421.73 L152.16,421.47 L152.21,421.20 L152.28,420.93 L152.36,420.66 L152.45,420.38 L152.57,420.11 L152.70,419.83 L152.84,419.55 L153.00,419.27 L153.17,419.00 L153.35,418.73 L153.55,418.47 L153.76,418.22 L153.98,417.97 L154.21,417.73 L154.44,417.50 L154.69,417.28 L154.94,417.08 L155.20,416.89 L155.46,416.71 L155.72,416.54 L155.99,416.39 L156.26,416.26 L156.53,416.14 L156.79,416.04 L157.06,415.96 L157.32,415.89 L157.58,415.84 L157.83,415.82 L158.07,415.80 L158.31,415.81 L158.54,415.84 L158.75,415.88 L158.96,415.94 L159.16,416.02 L159.34,416.12 L159.51,416.23Z" fill="none" stroke="#000" stroke-width="1.35" stroke-linejoin="round"/>
<path d="M159.29,416.78 L159.41,416.90 L159.52,417.04 L159.61,417.19 L159.69,417.35 L159.76,417.53 L159.81,417.71 L159.84,417.90 L159.86,418.10 L159.87,418.31 L159.85,418.53 L159.83,418.75 L159.79,418.98 L159.73,419.21 L159.66,419.45 L159.57,419.69 L159.48,419.92 L159.36,420.16 L159.24,420.40 L159.10,420.63 L158.95,420.87 L158.79,421.10 L158.61,421.32 L158.43,421.54 L158.24,421.75 L158.04,421.95 L157.84,422.15 L157.62,422.33 L157.40,422.51 L157.18,422.67 L156.95,422.83 L156.72,422.97 L156.49,423.10 L156.26,423.21 L156.03,423.31 L155.80,423.40 L155.57,423.47 L155.35,423.53 L155.13,423.57 L154.91,423.60 L154.71,423.61 L154.50,423.60 L154.31,423.58 L154.13,423.55 L153.95,423.50 L153.78,423.43 L153.63,423.35 L153.49,423.26 L153.36,423.15 L153.24,423.02 L153.13,422.89 L153.04,422.74 L152.96,422.58 L152.90,422.41 L152.85,422.22 L152.82,422.03 L152.80,421.83 L152.80,421.62 L152.81,421.41 L152.84,421.18 L152.88,420.96 L152.93,420.72 L153.00,420.49 L153.09,420.25 L153.19,420.01 L153.30,419.77 L153.42,419.53 L153.56,419.30 L153.71,419.06 L153.87,418.83 L154.04,418.61 L154.22,418.39 L154.41,418.18 L154.61,417.97 L154.81,417.77 L155.02,417.59 L155.24,417.41 L155.46,417.24 L155.69,417.09 L155.91,416.95 L156.14,416.82 L156.37,416.70 L156.61,416.60 L156.83,416.51 L157.06,416.44 L157.29,416.38 L157.51,416.34 L157.72,416.32 L157.93,416.31 L158.13,416.31 L158.33,416.33 L158.52,416.37 L158.69,416.42 L158.86,416.49 L159.02,416.57 L159.16,416.67Z" fill="none" stroke="#000" stroke-width="1.35" stroke-linejoin="round"/>
<path d="M158.95,417.15 L159.06,417.26 L159.15,417.38 L159.22,417.50 L159.29,417.64 L159.35,417.79 L159.39,417.95 L159.42,418.11 L159.43,418.28 L159.43,418.46 L159.42,418.65 L159.40,418.84 L159.36,419.03 L159.31,419.23 L159.25,419.43 L159.18,419.64 L159.09,419.84 L159.00,420.04 L158.89,420.25 L158.77,420.45 L158.64,420.65 L158.50,420.85 L158.35,421.04 L158.20,421.23 L158.03,421.41 L157.86,421.58 L157.69,421.75 L157.50,421.91 L157.32,422.06 L157.12,422.20 L156.93,422.34 L156.73,422.46 L156.54,422.57 L156.34,422.67 L156.14,422.75 L155.94,422.83 L155.75,422.89 L155.56,422.94 L155.37,422.98 L155.19,423.00 L155.01,423.01 L154.83,423.01 L154.67,422.99 L154.51,422.96 L154.36,422.92 L154.22,422.87 L154.09,422.80 L153.97,422.72 L153.85,422.62 L153.75,422.52 L153.66,422.40 L153.59,422.28 L153.52,422.14 L153.47,421.99 L153.43,421.84 L153.40,421.67 L153.39,421.50 L153.38,421.32 L153.39,421.14 L153.42,420.95 L153.45,420.75 L153.50,420.55 L153.56,420.35 L153.64,420.15 L153.72,419.94 L153.82,419.74 L153.93,419.53 L154.04,419.33 L154.17,419.13 L154.31,418.93 L154.46,418.74 L154.61,418.55 L154.78,418.37 L154.95,418.19 L155.12,418.02 L155.30,417.86 L155.49,417.71 L155.68,417.57 L155.87,417.44 L156.07,417.31 L156.27,417.20 L156.46,417.10 L156.66,417.01 L156.86,416.94 L157.05,416.88 L157.24,416.83 L157.43,416.79 L157.62,416.77 L157.79,416.76 L157.97,416.76 L158.13,416.78 L158.29,416.81 L158.44,416.85 L158.59,416.91 L158.72,416.98 L158.84,417.06Z" fill="none" stroke="#000" stroke-width="1.35" stroke-linejoin="round"/>
<path d="M158.66,417.48 L158.74,417.57 L158.82,417.67 L158.88,417.78 L158.94,417.90 L158.99,418.02 L159.02,418.16 L159.04,418.30 L159.06,418.45 L159.06,418.60 L159.05,418.76 L159.03,418.92 L158.99,419.09 L158.95,419.26 L158.90,419.43 L158.83,419.61 L158.76,419.78 L158.68,419.96 L158.58,420.13 L158.48,420.31 L158.37,420.48 L158.25,420.65 L158.12,420.81 L157.99,420.97 L157.85,421.13 L157.70,421.28 L157.55,421.43 L157.39,421.56 L157.23,421.70 L157.07,421.82 L156.90,421.93 L156.73,422.04 L156.56,422.13 L156.39,422.22 L156.22,422.30 L156.05,422.36 L155.89,422.42 L155.72,422.46 L155.56,422.49 L155.40,422.51 L155.25,422.52 L155.10,422.52 L154.96,422.51 L154.82,422.48 L154.70,422.45 L154.58,422.40 L154.46,422.34 L154.36,422.27 L154.26,422.19 L154.18,422.10 L154.10,422.00 L154.04,421.90 L153.98,421.78 L153.94,421.65 L153.90,421.52 L153.88,421.38 L153.87,421.23 L153.86,421.08 L153.87,420.92 L153.90,420.76 L153.93,420.59 L153.97,420.42 L154.02,420.25 L154.09,420.07 L154.16,419.90 L154.25,419.72 L154.34,419.55 L154.44,419.37 L154.55,419.20 L154.67,419.03 L154.80,418.86 L154.93,418.70 L155.07,418.54 L155.22,418.39 L155.37,418.25 L155.53,418.11 L155.69,417.98 L155.85,417.86 L156.02,417.74 L156.19,417.64 L156.35,417.54 L156.52,417.45 L156.69,417.38 L156.86,417.31 L157.03,417.26 L157.19,417.21 L157.36,417.18 L157.51,417.16 L157.67,417.15 L157.81,417.15 L157.96,417.17 L158.09,417.19 L158.22,417.23 L158.34,417.28 L158.45,417.33 L158.56,417.40Z" fill="none" stroke="#000" stroke-width="1.35" stroke-linejoin="round"/>
<path d="M158.41,417.75 L158.49,417.82 L158.55,417.91 L158.61,418.01 L158.66,418.11 L158.70,418.22 L158.73,418.33 L158.75,418.45 L158.76,418.58 L158.76,418.72 L158.75,418.85 L158.73,419.00 L158.70,419.14 L158.66,419.29 L158.61,419.44 L158.56,419.59 L158.49,419.75 L158.42,419.90 L158.33,420.05 L158.24,420.21 L158.15,420.36 L158.04,420.50 L157.93,420.65 L157.81,420.79 L157.69,420.93 L157.56,421.06 L157.43,421.19 L157.29,421.31 L157.15,421.42 L157.01,421.53 L156.86,421.63 L156.72,421.72 L156.57,421.81 L156.42,421.88 L156.27,421.95 L156.12,422.01 L155.98,422.06 L155.84,422.10 L155.69,422.12 L155.56,422.14 L155.42,422.15 L155.30,422.15 L155.17,422.14 L155.06,422.12 L154.94,422.09 L154.84,422.05 L154.74,422.00 L154.65,421.94 L154.57,421.87 L154.49,421.79 L154.43,421.71 L154.37,421.61 L154.32,421.51 L154.28,421.40 L154.26,421.29 L154.24,421.16 L154.23,421.04 L154.23,420.90 L154.24,420.76 L154.25,420.62 L154.28,420.48 L154.32,420.33 L154.37,420.18 L154.43,420.02 L154.49,419.87 L154.56,419.72 L154.65,419.56 L154.74,419.41 L154.83,419.26 L154.94,419.11 L155.05,418.97 L155.17,418.83 L155.29,418.69 L155.42,418.56 L155.55,418.43 L155.69,418.31 L155.83,418.19 L155.97,418.09 L156.12,417.99 L156.26,417.89 L156.41,417.81 L156.56,417.73 L156.71,417.67 L156.86,417.61 L157.00,417.56 L157.14,417.52 L157.29,417.49 L157.42,417.47 L157.56,417.46 L157.68,417.46 L157.81,417.48 L157.93,417.50 L158.04,417.53 L158.14,417.57 L158.24,417.62 L158.33,417.68Z" fill="none" stroke="#000" stroke-width="1.35" stroke-linejoin="round"/>
<path d="M158.27,417.90 L158.34,417.97 L158.40,418.05 L158.45,418.13 L158.50,418.23 L158.53,418.33 L158.56,418.43 L158.58,418.55 L158.58,418.66 L158.58,418.79 L158.57,418.91 L158.56,419.04 L158.53,419.18 L158.49,419.32 L158.45,419.45 L158.40,419.59 L158.34,419.74 L158.27,419.88 L158.19,420.02 L158.11,420.16 L158.02,420.30 L157.92,420.43 L157.82,420.57 L157.71,420.70 L157.60,420.82 L157.48,420.95 L157.36,421.06 L157.23,421.17 L157.10,421.28 L156.97,421.38 L156.83,421.47 L156.70,421.56 L156.56,421.64 L156.43,421.71 L156.29,421.77 L156.16,421.82 L156.02,421.87 L155.89,421.90 L155.76,421.93 L155.64,421.95 L155.51,421.96 L155.39,421.96 L155.28,421.95 L155.17,421.93 L155.07,421.90 L154.97,421.86 L154.89,421.82 L154.80,421.76 L154.73,421.70 L154.66,421.63 L154.60,421.55 L154.55,421.47 L154.50,421.37 L154.47,421.27 L154.44,421.17 L154.42,421.05 L154.42,420.94 L154.42,420.81 L154.43,420.69 L154.44,420.56 L154.47,420.42 L154.51,420.28 L154.55,420.15 L154.60,420.01 L154.66,419.86 L154.73,419.72 L154.81,419.58 L154.89,419.44 L154.98,419.30 L155.08,419.17 L155.18,419.03 L155.29,418.90 L155.40,418.78 L155.52,418.65 L155.64,418.54 L155.77,418.43 L155.90,418.32 L156.03,418.22 L156.17,418.13 L156.30,418.04 L156.44,417.96 L156.57,417.89 L156.71,417.83 L156.84,417.78 L156.98,417.73 L157.11,417.70 L157.24,417.67 L157.36,417.65 L157.49,417.64 L157.61,417.64 L157.72,417.65 L157.83,417.67 L157.93,417.70 L158.03,417.74 L158.11,417.78 L158.20,417.84Z" fill="none" stroke="#000" stroke-width="1.35" stroke-linejoin="round"/>
<ellipse cx="156.50" cy="419.80" rx="2.2" ry="1.1" transform="rotate(-60 156.50 419.80)" fill="#fff"/>
<rect x="53.60" y="372.60" width="142.90" height="143.70" stroke="#000" stroke-width="1.55" fill="none"/>
<line x1="132.10" y1="372.60" x2="132.10" y2="516.30" stroke="#000" stroke-width="1.4" stroke-linecap="butt"/>
<line x1="53.60" y1="441.90" x2="196.20" y2="441.90" stroke="#000" stroke-width="1.4" stroke-linecap="butt"/>
<text x="290.10" y="363.60" font-size="8.5" font-weight="bold" text-anchor="start" fill="#000">si<tspan font-style="italic">Phgdh</tspan></text>
<path d="M299.9,461.7h0.75v0.75h-0.75zM331.3,430.6h0.75v0.75h-0.75zM318.7,461.6h0.75v0.75h-0.75zM298.3,452.4h0.75v0.75h-0.75zM342.5,430.4h0.75v0.75h-0.75zM313.0,445.2h0.75v0.75h-0.75zM349.3,422.2h0.75v0.75h-0.75zM319.1,454.7h0.75v0.75h-0.75zM334.3,437.1h0.75v0.75h-0.75zM371.6,422.2h0.75v0.75h-0.75zM343.0,427.8h0.75v0.75h-0.75zM332.2,445.6h0.75v0.75h-0.75zM326.3,429.5h0.75v0.75h-0.75zM310.2,439.9h0.75v0.75h-0.75zM314.7,435.3h0.75v0.75h-0.75zM348.3,420.6h0.75v0.75h-0.75zM344.3,414.4h0.75v0.75h-0.75zM308.8,463.6h0.75v0.75h-0.75zM338.9,428.7h0.75v0.75h-0.75zM294.6,462.5h0.75v0.75h-0.75zM329.6,435.9h0.75v0.75h-0.75zM304.8,453.8h0.75v0.75h-0.75zM322.3,452.1h0.75v0.75h-0.75zM305.2,452.3h0.75v0.75h-0.75zM339.5,424.2h0.75v0.75h-0.75zM308.3,448.9h0.75v0.75h-0.75zM317.6,451.7h0.75v0.75h-0.75zM336.8,420.5h0.75v0.75h-0.75zM355.2,434.1h0.75v0.75h-0.75zM346.2,444.1h0.75v0.75h-0.75zM318.7,442.6h0.75v0.75h-0.75zM329.2,439.4h0.75v0.75h-0.75zM345.5,423.8h0.75v0.75h-0.75zM342.6,418.7h0.75v0.75h-0.75zM313.1,464.3h0.75v0.75h-0.75zM304.4,449.1h0.75v0.75h-0.75zM315.3,446.1h0.75v0.75h-0.75zM347.2,405.4h0.75v0.75h-0.75zM336.8,450.5h0.75v0.75h-0.75zM319.3,437.2h0.75v0.75h-0.75zM322.9,427.7h0.75v0.75h-0.75zM319.2,458.1h0.75v0.75h-0.75zM332.3,446.5h0.75v0.75h-0.75zM334.6,446.3h0.75v0.75h-0.75zM302.6,447.4h0.75v0.75h-0.75zM324.0,433.1h0.75v0.75h-0.75zM289.1,456.6h0.75v0.75h-0.75zM317.5,435.5h0.75v0.75h-0.75zM319.6,422.3h0.75v0.75h-0.75zM295.5,440.5h0.75v0.75h-0.75zM320.1,426.7h0.75v0.75h-0.75zM325.8,421.3h0.75v0.75h-0.75zM323.5,449.7h0.75v0.75h-0.75zM301.1,445.6h0.75v0.75h-0.75zM324.0,446.9h0.75v0.75h-0.75zM308.7,456.2h0.75v0.75h-0.75zM331.0,447.6h0.75v0.75h-0.75zM320.5,445.6h0.75v0.75h-0.75zM312.9,421.5h0.75v0.75h-0.75zM311.0,451.1h0.75v0.75h-0.75zM307.4,454.7h0.75v0.75h-0.75zM329.2,439.3h0.75v0.75h-0.75zM330.5,429.2h0.75v0.75h-0.75zM313.9,453.6h0.75v0.75h-0.75zM327.0,458.5h0.75v0.75h-0.75zM306.8,446.9h0.75v0.75h-0.75zM304.7,437.0h0.75v0.75h-0.75zM297.2,466.9h0.75v0.75h-0.75zM319.6,454.6h0.75v0.75h-0.75zM305.8,463.6h0.75v0.75h-0.75zM321.5,437.3h0.75v0.75h-0.75zM327.6,450.0h0.75v0.75h-0.75zM319.0,440.2h0.75v0.75h-0.75zM318.6,448.1h0.75v0.75h-0.75zM313.1,450.6h0.75v0.75h-0.75zM319.1,466.5h0.75v0.75h-0.75zM315.0,468.1h0.75v0.75h-0.75zM312.0,453.3h0.75v0.75h-0.75zM312.1,435.9h0.75v0.75h-0.75zM321.2,448.0h0.75v0.75h-0.75zM324.0,442.9h0.75v0.75h-0.75zM320.3,453.4h0.75v0.75h-0.75zM333.8,441.2h0.75v0.75h-0.75zM308.3,451.0h0.75v0.75h-0.75zM335.1,407.8h0.75v0.75h-0.75zM322.9,425.2h0.75v0.75h-0.75zM334.0,407.6h0.75v0.75h-0.75zM330.3,427.9h0.75v0.75h-0.75zM336.6,424.9h0.75v0.75h-0.75zM322.0,426.4h0.75v0.75h-0.75zM336.0,440.2h0.75v0.75h-0.75zM306.7,449.9h0.75v0.75h-0.75zM300.7,455.8h0.75v0.75h-0.75zM294.4,448.4h0.75v0.75h-0.75zM300.4,449.6h0.75v0.75h-0.75zM308.0,459.0h0.75v0.75h-0.75zM315.3,431.2h0.75v0.75h-0.75zM294.5,465.1h0.75v0.75h-0.75zM322.3,434.6h0.75v0.75h-0.75zM305.5,462.4h0.75v0.75h-0.75zM329.6,424.6h0.75v0.75h-0.75zM334.9,429.4h0.75v0.75h-0.75zM338.2,423.4h0.75v0.75h-0.75zM306.1,431.0h0.75v0.75h-0.75zM342.5,413.4h0.75v0.75h-0.75zM335.1,429.4h0.75v0.75h-0.75zM306.1,454.7h0.75v0.75h-0.75zM321.0,446.1h0.75v0.75h-0.75zM314.0,451.1h0.75v0.75h-0.75zM332.0,421.0h0.75v0.75h-0.75zM336.6,419.1h0.75v0.75h-0.75zM318.9,435.3h0.75v0.75h-0.75zM318.2,443.3h0.75v0.75h-0.75zM299.6,439.5h0.75v0.75h-0.75zM324.7,451.0h0.75v0.75h-0.75zM341.8,418.6h0.75v0.75h-0.75zM313.9,433.0h0.75v0.75h-0.75zM317.8,453.6h0.75v0.75h-0.75zM343.9,434.8h0.75v0.75h-0.75zM307.2,444.4h0.75v0.75h-0.75zM328.4,444.0h0.75v0.75h-0.75zM322.7,450.6h0.75v0.75h-0.75zM316.8,436.0h0.75v0.75h-0.75zM324.2,472.4h0.75v0.75h-0.75zM317.0,441.7h0.75v0.75h-0.75zM326.1,439.2h0.75v0.75h-0.75zM322.1,450.8h0.75v0.75h-0.75zM313.8,455.9h0.75v0.75h-0.75zM306.8,460.7h0.75v0.75h-0.75zM348.8,422.3h0.75v0.75h-0.75zM340.3,454.3h0.75v0.75h-0.75zM306.1,447.7h0.75v0.75h-0.75zM337.7,448.6h0.75v0.75h-0.75zM322.9,452.9h0.75v0.75h-0.75zM306.3,442.4h0.75v0.75h-0.75zM308.2,458.0h0.75v0.75h-0.75zM304.4,457.3h0.75v0.75h-0.75zM307.6,444.2h0.75v0.75h-0.75zM303.7,443.2h0.75v0.75h-0.75zM309.3,434.7h0.75v0.75h-0.75zM325.3,439.7h0.75v0.75h-0.75zM319.4,424.4h0.75v0.75h-0.75zM313.9,443.0h0.75v0.75h-0.75zM323.8,441.4h0.75v0.75h-0.75zM327.5,434.8h0.75v0.75h-0.75zM340.4,428.6h0.75v0.75h-0.75zM353.4,426.8h0.75v0.75h-0.75zM307.1,453.8h0.75v0.75h-0.75zM335.3,437.0h0.75v0.75h-0.75zM322.3,425.6h0.75v0.75h-0.75zM322.9,446.6h0.75v0.75h-0.75zM305.8,440.2h0.75v0.75h-0.75zM334.1,449.6h0.75v0.75h-0.75zM347.3,426.4h0.75v0.75h-0.75zM311.7,431.0h0.75v0.75h-0.75zM310.2,450.7h0.75v0.75h-0.75zM327.6,442.9h0.75v0.75h-0.75zM317.9,436.7h0.75v0.75h-0.75zM312.4,428.7h0.75v0.75h-0.75zM305.2,445.5h0.75v0.75h-0.75zM312.4,446.5h0.75v0.75h-0.75zM304.0,450.9h0.75v0.75h-0.75zM318.6,453.1h0.75v0.75h-0.75zM304.8,441.7h0.75v0.75h-0.75zM293.9,445.1h0.75v0.75h-0.75zM327.7,440.7h0.75v0.75h-0.75zM329.1,436.2h0.75v0.75h-0.75zM346.1,429.9h0.75v0.75h-0.75zM341.2,416.7h0.75v0.75h-0.75zM321.5,408.7h0.75v0.75h-0.75zM318.4,453.3h0.75v0.75h-0.75zM316.0,458.4h0.75v0.75h-0.75zM301.7,437.5h0.75v0.75h-0.75zM317.0,461.4h0.75v0.75h-0.75zM313.3,449.0h0.75v0.75h-0.75zM310.9,453.0h0.75v0.75h-0.75zM307.1,457.5h0.75v0.75h-0.75zM306.0,448.2h0.75v0.75h-0.75zM329.7,423.7h0.75v0.75h-0.75zM333.5,456.1h0.75v0.75h-0.75zM314.2,469.0h0.75v0.75h-0.75zM323.1,427.7h0.75v0.75h-0.75zM332.9,426.4h0.75v0.75h-0.75zM300.7,466.8h0.75v0.75h-0.75zM326.9,434.6h0.75v0.75h-0.75zM334.7,419.8h0.75v0.75h-0.75zM326.5,429.6h0.75v0.75h-0.75zM322.6,438.1h0.75v0.75h-0.75zM316.1,446.5h0.75v0.75h-0.75zM320.4,425.5h0.75v0.75h-0.75zM301.5,446.9h0.75v0.75h-0.75zM289.6,438.4h0.75v0.75h-0.75zM314.9,427.6h0.75v0.75h-0.75zM318.8,442.9h0.75v0.75h-0.75zM339.5,434.9h0.75v0.75h-0.75zM310.6,438.3h0.75v0.75h-0.75zM301.3,446.0h0.75v0.75h-0.75zM321.2,447.0h0.75v0.75h-0.75zM318.6,434.3h0.75v0.75h-0.75zM344.7,430.3h0.75v0.75h-0.75zM330.8,445.5h0.75v0.75h-0.75zM321.6,456.9h0.75v0.75h-0.75zM332.0,423.4h0.75v0.75h-0.75zM320.0,435.4h0.75v0.75h-0.75zM315.7,441.2h0.75v0.75h-0.75zM305.5,453.1h0.75v0.75h-0.75zM335.6,442.0h0.75v0.75h-0.75zM331.0,421.3h0.75v0.75h-0.75zM336.0,438.3h0.75v0.75h-0.75zM315.6,433.9h0.75v0.75h-0.75zM353.1,416.0h0.75v0.75h-0.75zM337.8,442.5h0.75v0.75h-0.75zM329.3,438.1h0.75v0.75h-0.75zM348.2,415.0h0.75v0.75h-0.75zM313.1,454.2h0.75v0.75h-0.75zM321.7,429.8h0.75v0.75h-0.75zM337.6,427.8h0.75v0.75h-0.75zM321.9,408.7h0.75v0.75h-0.75zM329.9,459.9h0.75v0.75h-0.75zM337.0,432.1h0.75v0.75h-0.75zM338.7,443.9h0.75v0.75h-0.75zM305.8,448.3h0.75v0.75h-0.75zM299.7,437.3h0.75v0.75h-0.75zM337.3,423.5h0.75v0.75h-0.75zM351.7,385.6h0.75v0.75h-0.75zM334.7,454.2h0.75v0.75h-0.75zM320.0,459.4h0.75v0.75h-0.75zM334.3,426.5h0.75v0.75h-0.75zM326.6,459.9h0.75v0.75h-0.75zM334.4,403.6h0.75v0.75h-0.75zM299.8,444.4h0.75v0.75h-0.75zM356.7,421.7h0.75v0.75h-0.75zM301.4,463.3h0.75v0.75h-0.75zM328.8,421.0h0.75v0.75h-0.75zM321.2,434.3h0.75v0.75h-0.75zM331.2,441.5h0.75v0.75h-0.75zM323.9,427.6h0.75v0.75h-0.75zM317.0,446.1h0.75v0.75h-0.75zM312.4,447.8h0.75v0.75h-0.75zM328.1,441.1h0.75v0.75h-0.75zM343.0,427.4h0.75v0.75h-0.75zM332.9,432.6h0.75v0.75h-0.75zM291.5,436.6h0.75v0.75h-0.75zM324.1,425.9h0.75v0.75h-0.75zM324.2,435.7h0.75v0.75h-0.75zM328.7,448.1h0.75v0.75h-0.75zM335.5,433.1h0.75v0.75h-0.75zM324.0,431.6h0.75v0.75h-0.75zM306.5,443.1h0.75v0.75h-0.75zM317.7,448.2h0.75v0.75h-0.75zM325.0,438.6h0.75v0.75h-0.75zM325.5,436.6h0.75v0.75h-0.75zM308.9,451.6h0.75v0.75h-0.75zM313.3,419.6h0.75v0.75h-0.75zM321.1,449.8h0.75v0.75h-0.75zM355.2,419.3h0.75v0.75h-0.75zM343.1,417.2h0.75v0.75h-0.75zM357.6,420.5h0.75v0.75h-0.75zM306.6,439.1h0.75v0.75h-0.75zM295.3,465.7h0.75v0.75h-0.75zM301.2,454.7h0.75v0.75h-0.75zM286.8,457.7h0.75v0.75h-0.75zM330.3,448.8h0.75v0.75h-0.75zM301.4,459.3h0.75v0.75h-0.75zM336.8,427.5h0.75v0.75h-0.75zM305.3,449.8h0.75v0.75h-0.75zM333.4,417.6h0.75v0.75h-0.75zM300.8,452.0h0.75v0.75h-0.75zM346.0,434.2h0.75v0.75h-0.75zM321.3,438.7h0.75v0.75h-0.75zM349.2,395.3h0.75v0.75h-0.75zM328.3,429.7h0.75v0.75h-0.75zM309.2,442.8h0.75v0.75h-0.75zM300.2,454.3h0.75v0.75h-0.75zM301.0,462.4h0.75v0.75h-0.75zM324.5,437.5h0.75v0.75h-0.75zM314.0,436.6h0.75v0.75h-0.75zM334.5,436.9h0.75v0.75h-0.75zM357.1,416.8h0.75v0.75h-0.75zM324.1,448.1h0.75v0.75h-0.75zM314.6,452.0h0.75v0.75h-0.75zM329.3,437.8h0.75v0.75h-0.75zM326.9,444.6h0.75v0.75h-0.75zM316.1,458.1h0.75v0.75h-0.75zM333.4,441.3h0.75v0.75h-0.75zM320.2,452.9h0.75v0.75h-0.75zM304.2,434.4h0.75v0.75h-0.75zM313.8,432.9h0.75v0.75h-0.75zM300.5,453.5h0.75v0.75h-0.75zM327.8,437.0h0.75v0.75h-0.75zM311.1,438.0h0.75v0.75h-0.75zM338.5,425.9h0.75v0.75h-0.75zM318.2,443.2h0.75v0.75h-0.75zM329.5,431.2h0.75v0.75h-0.75zM299.1,459.7h0.75v0.75h-0.75zM366.9,422.6h0.75v0.75h-0.75zM312.6,444.1h0.75v0.75h-0.75zM326.6,436.8h0.75v0.75h-0.75zM315.3,437.9h0.75v0.75h-0.75zM314.1,447.5h0.75v0.75h-0.75zM308.3,444.9h0.75v0.75h-0.75zM291.8,451.8h0.75v0.75h-0.75zM349.5,435.0h0.75v0.75h-0.75zM296.3,449.9h0.75v0.75h-0.75zM343.7,426.9h0.75v0.75h-0.75zM325.0,421.8h0.75v0.75h-0.75zM308.6,440.5h0.75v0.75h-0.75zM324.1,429.5h0.75v0.75h-0.75zM352.9,428.8h0.75v0.75h-0.75zM331.0,457.3h0.75v0.75h-0.75zM348.3,429.8h0.75v0.75h-0.75zM306.7,435.8h0.75v0.75h-0.75zM316.3,439.6h0.75v0.75h-0.75zM345.4,432.7h0.75v0.75h-0.75zM316.4,456.5h0.75v0.75h-0.75zM303.0,448.8h0.75v0.75h-0.75zM337.1,410.9h0.75v0.75h-0.75zM294.6,444.9h0.75v0.75h-0.75zM333.2,420.9h0.75v0.75h-0.75zM331.4,421.3h0.75v0.75h-0.75zM331.4,448.7h0.75v0.75h-0.75zM345.8,437.0h0.75v0.75h-0.75zM310.0,448.9h0.75v0.75h-0.75zM305.2,441.6h0.75v0.75h-0.75zM322.8,446.6h0.75v0.75h-0.75zM307.5,465.0h0.75v0.75h-0.75zM325.8,413.5h0.75v0.75h-0.75zM309.5,432.5h0.75v0.75h-0.75zM304.3,444.3h0.75v0.75h-0.75zM330.5,443.1h0.75v0.75h-0.75zM316.6,434.9h0.75v0.75h-0.75zM316.1,440.6h0.75v0.75h-0.75zM316.4,430.8h0.75v0.75h-0.75zM306.6,452.7h0.75v0.75h-0.75zM325.4,421.8h0.75v0.75h-0.75zM342.8,415.0h0.75v0.75h-0.75zM346.5,424.9h0.75v0.75h-0.75zM337.4,410.9h0.75v0.75h-0.75zM327.1,436.0h0.75v0.75h-0.75zM290.3,459.8h0.75v0.75h-0.75zM336.6,421.9h0.75v0.75h-0.75zM329.8,419.4h0.75v0.75h-0.75zM318.2,447.2h0.75v0.75h-0.75zM325.4,445.2h0.75v0.75h-0.75zM315.3,441.2h0.75v0.75h-0.75zM314.0,455.5h0.75v0.75h-0.75zM323.1,447.6h0.75v0.75h-0.75zM320.7,431.3h0.75v0.75h-0.75zM340.0,438.3h0.75v0.75h-0.75zM322.9,428.8h0.75v0.75h-0.75zM303.2,467.3h0.75v0.75h-0.75zM318.8,407.5h0.75v0.75h-0.75zM301.3,434.6h0.75v0.75h-0.75zM324.5,440.4h0.75v0.75h-0.75zM330.7,431.3h0.75v0.75h-0.75zM303.1,453.5h0.75v0.75h-0.75zM317.9,435.7h0.75v0.75h-0.75zM329.9,408.9h0.75v0.75h-0.75zM311.4,434.7h0.75v0.75h-0.75zM365.9,403.8h0.75v0.75h-0.75zM304.3,461.5h0.75v0.75h-0.75zM329.2,444.5h0.75v0.75h-0.75zM326.6,430.4h0.75v0.75h-0.75zM316.3,430.5h0.75v0.75h-0.75zM294.8,470.0h0.75v0.75h-0.75zM314.4,428.7h0.75v0.75h-0.75zM293.9,461.5h0.75v0.75h-0.75zM321.7,423.1h0.75v0.75h-0.75zM351.6,409.5h0.75v0.75h-0.75zM322.4,450.5h0.75v0.75h-0.75zM310.6,436.7h0.75v0.75h-0.75zM344.4,418.6h0.75v0.75h-0.75zM304.6,453.6h0.75v0.75h-0.75zM319.8,449.2h0.75v0.75h-0.75zM316.0,439.9h0.75v0.75h-0.75zM321.4,441.3h0.75v0.75h-0.75zM301.4,445.1h0.75v0.75h-0.75zM345.0,425.9h0.75v0.75h-0.75zM299.9,452.1h0.75v0.75h-0.75zM308.8,439.1h0.75v0.75h-0.75zM315.1,441.5h0.75v0.75h-0.75zM307.4,460.4h0.75v0.75h-0.75zM310.9,417.1h0.75v0.75h-0.75zM301.1,455.8h0.75v0.75h-0.75zM310.0,449.0h0.75v0.75h-0.75zM303.0,447.5h0.75v0.75h-0.75zM314.3,416.4h0.75v0.75h-0.75zM314.7,429.4h0.75v0.75h-0.75zM312.6,452.2h0.75v0.75h-0.75zM333.9,439.0h0.75v0.75h-0.75zM306.3,446.0h0.75v0.75h-0.75zM321.0,444.9h0.75v0.75h-0.75zM310.5,445.8h0.75v0.75h-0.75zM359.7,401.8h0.75v0.75h-0.75zM323.1,424.4h0.75v0.75h-0.75zM327.3,428.7h0.75v0.75h-0.75zM298.0,467.2h0.75v0.75h-0.75zM338.0,410.0h0.75v0.75h-0.75zM317.4,444.4h0.75v0.75h-0.75zM334.5,429.5h0.75v0.75h-0.75zM320.2,443.9h0.75v0.75h-0.75zM344.0,441.2h0.75v0.75h-0.75zM309.6,458.6h0.75v0.75h-0.75zM352.6,417.2h0.75v0.75h-0.75zM321.4,437.3h0.75v0.75h-0.75zM297.5,459.8h0.75v0.75h-0.75zM334.4,436.9h0.75v0.75h-0.75zM336.0,434.7h0.75v0.75h-0.75zM313.5,422.0h0.75v0.75h-0.75zM312.3,443.9h0.75v0.75h-0.75zM320.6,437.8h0.75v0.75h-0.75zM310.7,448.9h0.75v0.75h-0.75zM351.1,447.9h0.75v0.75h-0.75zM361.3,428.0h0.75v0.75h-0.75zM338.6,445.0h0.75v0.75h-0.75zM330.6,440.8h0.75v0.75h-0.75zM325.2,447.1h0.75v0.75h-0.75zM331.8,417.5h0.75v0.75h-0.75zM309.5,454.2h0.75v0.75h-0.75zM306.3,447.0h0.75v0.75h-0.75zM346.6,415.0h0.75v0.75h-0.75zM323.7,430.8h0.75v0.75h-0.75zM308.7,435.5h0.75v0.75h-0.75zM302.0,453.5h0.75v0.75h-0.75zM294.0,462.6h0.75v0.75h-0.75zM329.8,451.8h0.75v0.75h-0.75zM294.2,441.6h0.75v0.75h-0.75zM321.0,432.1h0.75v0.75h-0.75zM329.1,421.0h0.75v0.75h-0.75zM300.7,453.1h0.75v0.75h-0.75zM340.8,441.0h0.75v0.75h-0.75zM340.6,432.5h0.75v0.75h-0.75zM336.5,429.9h0.75v0.75h-0.75zM306.0,451.9h0.75v0.75h-0.75zM321.8,449.7h0.75v0.75h-0.75zM321.6,423.2h0.75v0.75h-0.75zM298.2,459.8h0.75v0.75h-0.75zM329.0,430.7h0.75v0.75h-0.75zM322.5,438.4h0.75v0.75h-0.75zM329.5,445.0h0.75v0.75h-0.75zM331.2,439.1h0.75v0.75h-0.75zM313.8,458.7h0.75v0.75h-0.75zM334.7,426.3h0.75v0.75h-0.75zM321.6,399.7h0.75v0.75h-0.75zM312.2,448.5h0.75v0.75h-0.75zM304.2,439.7h0.75v0.75h-0.75zM339.0,415.9h0.75v0.75h-0.75zM311.5,416.0h0.75v0.75h-0.75zM306.2,465.6h0.75v0.75h-0.75zM352.5,417.8h0.75v0.75h-0.75zM314.7,448.3h0.75v0.75h-0.75zM307.0,454.7h0.75v0.75h-0.75zM355.0,446.2h0.75v0.75h-0.75zM329.6,433.1h0.75v0.75h-0.75zM302.3,454.8h0.75v0.75h-0.75zM325.1,440.3h0.75v0.75h-0.75zM326.2,434.6h0.75v0.75h-0.75zM318.9,453.5h0.75v0.75h-0.75zM319.8,430.8h0.75v0.75h-0.75zM311.0,445.9h0.75v0.75h-0.75zM302.4,444.4h0.75v0.75h-0.75zM316.4,440.0h0.75v0.75h-0.75zM315.6,421.5h0.75v0.75h-0.75zM319.6,427.3h0.75v0.75h-0.75zM315.1,440.9h0.75v0.75h-0.75zM330.6,435.8h0.75v0.75h-0.75zM296.9,451.9h0.75v0.75h-0.75zM319.1,448.9h0.75v0.75h-0.75zM295.7,460.2h0.75v0.75h-0.75zM310.1,451.3h0.75v0.75h-0.75zM338.1,410.9h0.75v0.75h-0.75zM310.6,432.9h0.75v0.75h-0.75zM322.6,456.7h0.75v0.75h-0.75zM325.5,431.6h0.75v0.75h-0.75zM337.5,429.0h0.75v0.75h-0.75zM314.6,436.9h0.75v0.75h-0.75zM322.8,434.3h0.75v0.75h-0.75zM311.6,455.8h0.75v0.75h-0.75zM311.1,439.7h0.75v0.75h-0.75zM327.3,436.8h0.75v0.75h-0.75zM345.6,415.3h0.75v0.75h-0.75zM289.5,451.4h0.75v0.75h-0.75zM322.5,435.8h0.75v0.75h-0.75zM330.7,440.0h0.75v0.75h-0.75zM313.8,424.3h0.75v0.75h-0.75zM327.7,431.4h0.75v0.75h-0.75zM310.3,448.9h0.75v0.75h-0.75zM326.8,454.9h0.75v0.75h-0.75zM343.9,437.3h0.75v0.75h-0.75zM351.9,406.9h0.75v0.75h-0.75zM321.5,432.2h0.75v0.75h-0.75zM303.8,444.4h0.75v0.75h-0.75zM339.8,444.9h0.75v0.75h-0.75zM337.0,448.8h0.75v0.75h-0.75zM326.2,430.3h0.75v0.75h-0.75zM318.4,445.6h0.75v0.75h-0.75zM319.0,412.0h0.75v0.75h-0.75zM324.5,462.4h0.75v0.75h-0.75zM311.3,428.5h0.75v0.75h-0.75zM334.2,440.6h0.75v0.75h-0.75zM298.5,439.0h0.75v0.75h-0.75zM329.6,438.2h0.75v0.75h-0.75zM332.5,428.3h0.75v0.75h-0.75zM323.4,446.6h0.75v0.75h-0.75zM317.0,455.0h0.75v0.75h-0.75zM317.9,456.6h0.75v0.75h-0.75zM342.1,438.4h0.75v0.75h-0.75zM318.9,443.9h0.75v0.75h-0.75zM318.6,437.6h0.75v0.75h-0.75zM360.9,417.9h0.75v0.75h-0.75zM313.2,456.3h0.75v0.75h-0.75zM318.6,446.2h0.75v0.75h-0.75zM331.7,426.5h0.75v0.75h-0.75zM311.2,457.5h0.75v0.75h-0.75zM340.9,413.6h0.75v0.75h-0.75zM332.6,432.7h0.75v0.75h-0.75zM333.9,406.3h0.75v0.75h-0.75zM346.7,441.6h0.75v0.75h-0.75zM318.1,456.8h0.75v0.75h-0.75zM310.7,455.1h0.75v0.75h-0.75zM326.8,424.2h0.75v0.75h-0.75zM312.2,439.5h0.75v0.75h-0.75zM312.1,417.4h0.75v0.75h-0.75zM312.0,442.5h0.75v0.75h-0.75zM322.6,433.0h0.75v0.75h-0.75zM319.8,450.6h0.75v0.75h-0.75zM310.0,442.6h0.75v0.75h-0.75zM318.8,419.8h0.75v0.75h-0.75zM341.7,427.1h0.75v0.75h-0.75zM313.8,438.7h0.75v0.75h-0.75zM346.5,403.8h0.75v0.75h-0.75zM342.2,452.8h0.75v0.75h-0.75zM320.4,449.4h0.75v0.75h-0.75zM324.1,442.1h0.75v0.75h-0.75zM300.6,450.2h0.75v0.75h-0.75zM319.0,425.2h0.75v0.75h-0.75zM306.9,433.1h0.75v0.75h-0.75zM316.8,431.2h0.75v0.75h-0.75zM311.7,452.1h0.75v0.75h-0.75zM307.8,444.9h0.75v0.75h-0.75zM328.9,419.4h0.75v0.75h-0.75zM303.9,451.4h0.75v0.75h-0.75zM353.1,429.3h0.75v0.75h-0.75zM349.3,435.5h0.75v0.75h-0.75zM345.1,430.2h0.75v0.75h-0.75zM308.0,458.3h0.75v0.75h-0.75zM319.4,412.1h0.75v0.75h-0.75zM320.5,460.9h0.75v0.75h-0.75zM344.6,427.6h0.75v0.75h-0.75zM316.8,431.9h0.75v0.75h-0.75zM315.6,414.9h0.75v0.75h-0.75zM340.2,436.5h0.75v0.75h-0.75zM339.4,418.4h0.75v0.75h-0.75zM336.4,433.5h0.75v0.75h-0.75zM303.0,437.1h0.75v0.75h-0.75zM286.1,463.3h0.75v0.75h-0.75zM305.8,468.8h0.75v0.75h-0.75zM318.0,453.5h0.75v0.75h-0.75zM339.0,428.0h0.75v0.75h-0.75zM330.7,421.5h0.75v0.75h-0.75zM330.0,444.3h0.75v0.75h-0.75zM337.2,420.0h0.75v0.75h-0.75zM325.8,452.2h0.75v0.75h-0.75zM312.7,425.8h0.75v0.75h-0.75zM355.6,427.1h0.75v0.75h-0.75zM298.7,454.2h0.75v0.75h-0.75zM324.2,439.8h0.75v0.75h-0.75zM314.2,449.2h0.75v0.75h-0.75zM316.3,438.0h0.75v0.75h-0.75zM322.2,439.0h0.75v0.75h-0.75zM314.9,443.5h0.75v0.75h-0.75zM318.3,451.7h0.75v0.75h-0.75zM334.6,439.0h0.75v0.75h-0.75zM322.4,429.7h0.75v0.75h-0.75zM321.9,443.6h0.75v0.75h-0.75zM325.5,422.7h0.75v0.75h-0.75zM338.0,420.5h0.75v0.75h-0.75zM321.6,456.4h0.75v0.75h-0.75zM318.0,459.0h0.75v0.75h-0.75zM306.1,448.0h0.75v0.75h-0.75zM316.4,447.4h0.75v0.75h-0.75zM333.6,413.1h0.75v0.75h-0.75zM326.5,414.4h0.75v0.75h-0.75zM348.1,409.3h0.75v0.75h-0.75zM314.9,457.1h0.75v0.75h-0.75zM295.6,467.9h0.75v0.75h-0.75zM349.8,393.5h0.75v0.75h-0.75zM340.8,458.1h0.75v0.75h-0.75zM309.7,454.8h0.75v0.75h-0.75zM303.1,465.1h0.75v0.75h-0.75zM314.2,440.1h0.75v0.75h-0.75zM320.6,440.1h0.75v0.75h-0.75zM343.4,417.1h0.75v0.75h-0.75zM322.7,434.2h0.75v0.75h-0.75zM316.1,432.1h0.75v0.75h-0.75zM334.8,422.1h0.75v0.75h-0.75zM344.3,422.8h0.75v0.75h-0.75zM287.2,446.2h0.75v0.75h-0.75zM311.4,444.2h0.75v0.75h-0.75zM326.1,456.0h0.75v0.75h-0.75zM327.6,442.8h0.75v0.75h-0.75zM319.8,424.1h0.75v0.75h-0.75zM334.0,439.6h0.75v0.75h-0.75zM323.2,449.7h0.75v0.75h-0.75zM346.8,415.7h0.75v0.75h-0.75zM309.3,449.0h0.75v0.75h-0.75zM329.7,425.7h0.75v0.75h-0.75zM316.7,444.1h0.75v0.75h-0.75zM341.4,409.6h0.75v0.75h-0.75zM311.2,435.5h0.75v0.75h-0.75zM355.8,422.3h0.75v0.75h-0.75zM311.4,453.1h0.75v0.75h-0.75zM328.6,438.2h0.75v0.75h-0.75zM317.3,451.1h0.75v0.75h-0.75zM317.0,422.8h0.75v0.75h-0.75zM334.2,418.8h0.75v0.75h-0.75zM309.3,443.1h0.75v0.75h-0.75zM316.7,456.2h0.75v0.75h-0.75zM350.6,443.1h0.75v0.75h-0.75zM330.7,417.7h0.75v0.75h-0.75zM324.6,433.1h0.75v0.75h-0.75zM337.4,429.3h0.75v0.75h-0.75zM354.6,434.7h0.75v0.75h-0.75zM313.3,451.0h0.75v0.75h-0.75zM334.5,415.0h0.75v0.75h-0.75zM306.8,438.7h0.75v0.75h-0.75zM323.0,426.2h0.75v0.75h-0.75zM313.1,454.3h0.75v0.75h-0.75zM311.7,445.3h0.75v0.75h-0.75zM316.0,439.4h0.75v0.75h-0.75zM327.1,433.9h0.75v0.75h-0.75zM320.7,404.7h0.75v0.75h-0.75zM323.1,416.9h0.75v0.75h-0.75zM312.3,456.7h0.75v0.75h-0.75zM327.3,437.9h0.75v0.75h-0.75zM342.1,427.2h0.75v0.75h-0.75zM320.9,429.3h0.75v0.75h-0.75zM309.9,440.1h0.75v0.75h-0.75zM341.5,429.8h0.75v0.75h-0.75zM335.1,447.9h0.75v0.75h-0.75zM306.5,450.8h0.75v0.75h-0.75zM354.0,418.6h0.75v0.75h-0.75zM331.7,455.6h0.75v0.75h-0.75zM314.7,440.6h0.75v0.75h-0.75zM341.6,424.9h0.75v0.75h-0.75zM322.9,434.8h0.75v0.75h-0.75zM312.4,450.3h0.75v0.75h-0.75zM309.4,463.8h0.75v0.75h-0.75zM318.9,424.2h0.75v0.75h-0.75zM317.8,433.5h0.75v0.75h-0.75zM322.5,406.9h0.75v0.75h-0.75zM317.6,435.0h0.75v0.75h-0.75zM302.7,434.4h0.75v0.75h-0.75zM334.2,431.9h0.75v0.75h-0.75zM343.0,416.8h0.75v0.75h-0.75zM302.9,449.2h0.75v0.75h-0.75zM301.3,441.0h0.75v0.75h-0.75zM325.9,438.5h0.75v0.75h-0.75zM321.2,445.9h0.75v0.75h-0.75zM312.8,442.2h0.75v0.75h-0.75zM321.9,451.5h0.75v0.75h-0.75zM304.2,443.5h0.75v0.75h-0.75zM332.7,438.8h0.75v0.75h-0.75zM335.2,446.1h0.75v0.75h-0.75zM306.2,453.3h0.75v0.75h-0.75zM326.4,440.3h0.75v0.75h-0.75zM331.2,421.7h0.75v0.75h-0.75zM310.7,441.9h0.75v0.75h-0.75zM292.4,449.0h0.75v0.75h-0.75zM305.4,446.5h0.75v0.75h-0.75zM322.3,454.4h0.75v0.75h-0.75zM318.6,435.4h0.75v0.75h-0.75zM341.3,441.1h0.75v0.75h-0.75zM319.4,458.0h0.75v0.75h-0.75zM329.2,440.3h0.75v0.75h-0.75zM341.0,429.3h0.75v0.75h-0.75zM349.3,439.2h0.75v0.75h-0.75zM309.9,453.5h0.75v0.75h-0.75zM334.9,432.0h0.75v0.75h-0.75zM296.9,453.8h0.75v0.75h-0.75zM321.9,432.9h0.75v0.75h-0.75zM320.3,435.4h0.75v0.75h-0.75zM313.3,435.4h0.75v0.75h-0.75zM313.4,453.8h0.75v0.75h-0.75zM335.5,440.2h0.75v0.75h-0.75zM295.4,446.9h0.75v0.75h-0.75zM335.8,429.2h0.75v0.75h-0.75zM342.1,404.1h0.75v0.75h-0.75zM308.2,451.0h0.75v0.75h-0.75zM328.1,418.7h0.75v0.75h-0.75zM326.0,452.9h0.75v0.75h-0.75zM337.9,424.8h0.75v0.75h-0.75zM307.6,454.0h0.75v0.75h-0.75zM346.4,448.0h0.75v0.75h-0.75zM349.1,418.5h0.75v0.75h-0.75zM307.4,438.8h0.75v0.75h-0.75zM315.7,450.0h0.75v0.75h-0.75zM320.3,429.9h0.75v0.75h-0.75zM291.9,443.0h0.75v0.75h-0.75zM335.2,434.7h0.75v0.75h-0.75zM321.2,442.4h0.75v0.75h-0.75zM315.4,434.9h0.75v0.75h-0.75zM347.9,423.9h0.75v0.75h-0.75zM323.4,431.5h0.75v0.75h-0.75zM332.4,452.2h0.75v0.75h-0.75zM333.0,419.8h0.75v0.75h-0.75zM293.6,466.0h0.75v0.75h-0.75zM354.9,436.4h0.75v0.75h-0.75zM318.3,414.8h0.75v0.75h-0.75zM321.7,435.2h0.75v0.75h-0.75zM326.9,407.6h0.75v0.75h-0.75zM309.8,437.4h0.75v0.75h-0.75zM308.5,462.1h0.75v0.75h-0.75zM340.2,439.5h0.75v0.75h-0.75zM298.3,467.2h0.75v0.75h-0.75zM362.2,419.8h0.75v0.75h-0.75zM327.3,438.7h0.75v0.75h-0.75zM330.6,434.8h0.75v0.75h-0.75zM318.7,431.4h0.75v0.75h-0.75zM309.5,462.5h0.75v0.75h-0.75zM324.6,425.7h0.75v0.75h-0.75zM332.7,445.1h0.75v0.75h-0.75zM298.6,450.1h0.75v0.75h-0.75zM308.3,458.8h0.75v0.75h-0.75zM328.4,449.7h0.75v0.75h-0.75zM334.7,445.3h0.75v0.75h-0.75zM332.1,431.0h0.75v0.75h-0.75zM310.9,466.3h0.75v0.75h-0.75zM341.6,410.9h0.75v0.75h-0.75zM314.7,455.5h0.75v0.75h-0.75zM317.5,449.6h0.75v0.75h-0.75zM348.8,409.2h0.75v0.75h-0.75zM342.0,450.5h0.75v0.75h-0.75zM325.1,449.5h0.75v0.75h-0.75zM330.8,451.1h0.75v0.75h-0.75zM298.5,435.7h0.75v0.75h-0.75zM309.9,425.0h0.75v0.75h-0.75zM319.0,431.7h0.75v0.75h-0.75zM345.8,424.1h0.75v0.75h-0.75zM319.5,448.4h0.75v0.75h-0.75zM308.3,444.3h0.75v0.75h-0.75zM306.0,446.8h0.75v0.75h-0.75zM346.1,416.7h0.75v0.75h-0.75zM313.8,445.8h0.75v0.75h-0.75zM306.7,458.9h0.75v0.75h-0.75zM311.7,459.8h0.75v0.75h-0.75zM327.7,411.5h0.75v0.75h-0.75zM336.4,417.1h0.75v0.75h-0.75zM317.2,447.7h0.75v0.75h-0.75zM315.4,440.7h0.75v0.75h-0.75zM325.5,440.7h0.75v0.75h-0.75zM322.4,437.9h0.75v0.75h-0.75zM321.8,443.1h0.75v0.75h-0.75zM297.9,434.2h0.75v0.75h-0.75zM343.8,404.6h0.75v0.75h-0.75zM303.2,416.2h0.75v0.75h-0.75zM311.2,426.3h0.75v0.75h-0.75zM292.7,464.4h0.75v0.75h-0.75zM345.0,422.3h0.75v0.75h-0.75zM340.5,425.4h0.75v0.75h-0.75zM320.3,427.6h0.75v0.75h-0.75zM316.0,438.6h0.75v0.75h-0.75zM288.6,443.1h0.75v0.75h-0.75zM315.8,457.8h0.75v0.75h-0.75zM320.3,427.6h0.75v0.75h-0.75zM297.2,454.9h0.75v0.75h-0.75zM311.3,443.2h0.75v0.75h-0.75zM338.5,428.3h0.75v0.75h-0.75zM314.1,451.3h0.75v0.75h-0.75zM323.3,434.0h0.75v0.75h-0.75zM299.9,449.9h0.75v0.75h-0.75zM350.0,416.7h0.75v0.75h-0.75zM314.2,440.9h0.75v0.75h-0.75zM300.5,450.3h0.75v0.75h-0.75zM349.6,412.2h0.75v0.75h-0.75zM310.6,428.9h0.75v0.75h-0.75zM345.5,427.2h0.75v0.75h-0.75zM318.7,448.6h0.75v0.75h-0.75zM291.4,456.4h0.75v0.75h-0.75zM323.9,427.6h0.75v0.75h-0.75zM328.4,477.6h0.75v0.75h-0.75zM304.1,452.6h0.75v0.75h-0.75zM345.5,397.6h0.75v0.75h-0.75zM327.0,465.2h0.75v0.75h-0.75zM322.2,429.4h0.75v0.75h-0.75zM317.7,433.6h0.75v0.75h-0.75zM302.1,453.2h0.75v0.75h-0.75zM301.1,441.6h0.75v0.75h-0.75zM309.9,439.4h0.75v0.75h-0.75zM294.7,440.7h0.75v0.75h-0.75zM316.3,442.1h0.75v0.75h-0.75zM289.4,467.8h0.75v0.75h-0.75zM312.1,454.0h0.75v0.75h-0.75zM326.5,441.8h0.75v0.75h-0.75zM310.3,433.9h0.75v0.75h-0.75zM328.3,444.7h0.75v0.75h-0.75zM323.0,428.3h0.75v0.75h-0.75zM309.5,426.1h0.75v0.75h-0.75zM343.3,439.9h0.75v0.75h-0.75zM318.9,448.4h0.75v0.75h-0.75zM340.0,443.4h0.75v0.75h-0.75zM347.3,426.6h0.75v0.75h-0.75zM303.5,440.0h0.75v0.75h-0.75zM342.4,422.8h0.75v0.75h-0.75zM323.0,441.1h0.75v0.75h-0.75zM340.9,452.4h0.75v0.75h-0.75zM311.3,444.3h0.75v0.75h-0.75zM323.3,443.3h0.75v0.75h-0.75zM304.6,446.6h0.75v0.75h-0.75zM330.0,444.4h0.75v0.75h-0.75zM327.4,451.9h0.75v0.75h-0.75zM322.3,415.8h0.75v0.75h-0.75zM340.4,415.7h0.75v0.75h-0.75zM308.0,434.9h0.75v0.75h-0.75zM319.1,428.1h0.75v0.75h-0.75zM297.3,462.2h0.75v0.75h-0.75zM337.6,417.2h0.75v0.75h-0.75zM304.2,444.7h0.75v0.75h-0.75zM299.8,454.7h0.75v0.75h-0.75zM293.5,440.1h0.75v0.75h-0.75zM320.0,457.3h0.75v0.75h-0.75zM329.5,432.6h0.75v0.75h-0.75zM309.2,426.0h0.75v0.75h-0.75zM319.4,448.0h0.75v0.75h-0.75zM304.5,440.3h0.75v0.75h-0.75zM338.8,421.4h0.75v0.75h-0.75zM367.0,418.1h0.75v0.75h-0.75zM303.6,472.4h0.75v0.75h-0.75zM304.2,437.6h0.75v0.75h-0.75zM303.7,453.1h0.75v0.75h-0.75zM330.6,446.4h0.75v0.75h-0.75zM331.2,419.0h0.75v0.75h-0.75zM289.5,474.5h0.75v0.75h-0.75zM329.4,435.1h0.75v0.75h-0.75zM332.1,444.1h0.75v0.75h-0.75zM309.2,449.1h0.75v0.75h-0.75zM340.9,444.0h0.75v0.75h-0.75zM351.9,450.8h0.75v0.75h-0.75zM348.5,429.9h0.75v0.75h-0.75zM330.3,440.3h0.75v0.75h-0.75zM300.9,462.1h0.75v0.75h-0.75zM319.5,442.1h0.75v0.75h-0.75zM331.1,456.3h0.75v0.75h-0.75zM307.5,466.0h0.75v0.75h-0.75zM313.1,451.3h0.75v0.75h-0.75zM327.8,440.8h0.75v0.75h-0.75zM310.7,448.0h0.75v0.75h-0.75zM335.6,439.5h0.75v0.75h-0.75zM326.7,433.9h0.75v0.75h-0.75zM303.8,464.8h0.75v0.75h-0.75zM303.7,453.3h0.75v0.75h-0.75zM297.2,439.7h0.75v0.75h-0.75zM314.1,442.2h0.75v0.75h-0.75zM307.7,437.3h0.75v0.75h-0.75zM307.4,451.3h0.75v0.75h-0.75zM324.0,410.0h0.75v0.75h-0.75zM315.8,438.2h0.75v0.75h-0.75zM310.2,439.5h0.75v0.75h-0.75zM303.6,443.7h0.75v0.75h-0.75zM345.9,447.1h0.75v0.75h-0.75zM344.1,418.9h0.75v0.75h-0.75zM308.1,445.1h0.75v0.75h-0.75zM325.0,424.9h0.75v0.75h-0.75zM341.2,406.6h0.75v0.75h-0.75zM353.0,451.1h0.75v0.75h-0.75zM311.4,451.8h0.75v0.75h-0.75zM291.7,477.0h0.75v0.75h-0.75zM324.2,445.8h0.75v0.75h-0.75zM331.8,431.8h0.75v0.75h-0.75zM307.2,458.7h0.75v0.75h-0.75zM316.3,442.5h0.75v0.75h-0.75zM313.7,438.5h0.75v0.75h-0.75zM323.8,459.8h0.75v0.75h-0.75zM311.1,446.1h0.75v0.75h-0.75zM317.0,414.8h0.75v0.75h-0.75zM306.5,453.7h0.75v0.75h-0.75zM313.6,433.1h0.75v0.75h-0.75zM325.0,416.8h0.75v0.75h-0.75zM321.4,440.5h0.75v0.75h-0.75zM333.0,443.5h0.75v0.75h-0.75zM317.2,434.5h0.75v0.75h-0.75zM312.6,444.4h0.75v0.75h-0.75zM337.1,419.0h0.75v0.75h-0.75zM306.5,442.0h0.75v0.75h-0.75zM328.3,436.5h0.75v0.75h-0.75zM330.3,426.9h0.75v0.75h-0.75zM331.7,409.4h0.75v0.75h-0.75zM292.0,453.1h0.75v0.75h-0.75zM324.8,430.0h0.75v0.75h-0.75zM342.1,416.5h0.75v0.75h-0.75zM315.0,449.8h0.75v0.75h-0.75zM342.0,426.0h0.75v0.75h-0.75zM337.9,421.2h0.75v0.75h-0.75zM302.5,458.1h0.75v0.75h-0.75zM307.7,450.2h0.75v0.75h-0.75zM343.4,425.1h0.75v0.75h-0.75zM310.7,439.6h0.75v0.75h-0.75zM335.1,427.4h0.75v0.75h-0.75zM314.9,446.5h0.75v0.75h-0.75zM320.8,435.1h0.75v0.75h-0.75zM320.9,432.9h0.75v0.75h-0.75zM326.4,455.2h0.75v0.75h-0.75zM330.6,417.9h0.75v0.75h-0.75zM316.1,444.8h0.75v0.75h-0.75zM323.4,457.4h0.75v0.75h-0.75zM331.0,448.1h0.75v0.75h-0.75zM317.0,452.0h0.75v0.75h-0.75zM306.8,420.9h0.75v0.75h-0.75zM306.6,458.3h0.75v0.75h-0.75zM313.5,450.2h0.75v0.75h-0.75zM330.9,425.3h0.75v0.75h-0.75zM339.7,423.7h0.75v0.75h-0.75zM335.9,417.3h0.75v0.75h-0.75zM330.1,446.8h0.75v0.75h-0.75zM317.4,445.8h0.75v0.75h-0.75zM315.8,455.0h0.75v0.75h-0.75zM330.5,422.2h0.75v0.75h-0.75zM299.1,462.3h0.75v0.75h-0.75zM340.6,445.6h0.75v0.75h-0.75zM322.2,429.3h0.75v0.75h-0.75zM362.7,424.3h0.75v0.75h-0.75zM348.9,404.0h0.75v0.75h-0.75zM309.7,443.9h0.75v0.75h-0.75zM322.1,433.4h0.75v0.75h-0.75zM310.4,447.2h0.75v0.75h-0.75zM322.7,445.6h0.75v0.75h-0.75zM302.9,432.2h0.75v0.75h-0.75zM311.8,451.7h0.75v0.75h-0.75zM296.0,476.3h0.75v0.75h-0.75zM338.3,443.7h0.75v0.75h-0.75zM314.8,440.7h0.75v0.75h-0.75zM348.1,439.7h0.75v0.75h-0.75zM329.3,437.6h0.75v0.75h-0.75zM334.2,418.1h0.75v0.75h-0.75zM340.6,437.4h0.75v0.75h-0.75zM314.3,449.1h0.75v0.75h-0.75zM336.8,436.8h0.75v0.75h-0.75zM303.9,452.8h0.75v0.75h-0.75zM319.3,413.0h0.75v0.75h-0.75zM315.6,459.3h0.75v0.75h-0.75zM322.8,429.4h0.75v0.75h-0.75zM314.8,440.8h0.75v0.75h-0.75zM299.2,455.0h0.75v0.75h-0.75zM334.7,444.6h0.75v0.75h-0.75zM341.2,409.2h0.75v0.75h-0.75zM334.9,433.9h0.75v0.75h-0.75zM339.3,439.4h0.75v0.75h-0.75zM299.7,463.0h0.75v0.75h-0.75zM311.7,458.9h0.75v0.75h-0.75zM312.9,416.4h0.75v0.75h-0.75zM293.2,460.4h0.75v0.75h-0.75zM317.2,460.9h0.75v0.75h-0.75zM308.5,459.1h0.75v0.75h-0.75zM308.5,452.6h0.75v0.75h-0.75zM301.1,438.8h0.75v0.75h-0.75zM336.4,422.2h0.75v0.75h-0.75zM335.3,410.1h0.75v0.75h-0.75zM304.5,438.5h0.75v0.75h-0.75zM325.7,448.1h0.75v0.75h-0.75zM351.6,414.5h0.75v0.75h-0.75zM311.3,450.5h0.75v0.75h-0.75zM303.6,443.8h0.75v0.75h-0.75zM353.5,412.5h0.75v0.75h-0.75zM301.1,454.7h0.75v0.75h-0.75zM338.8,416.1h0.75v0.75h-0.75zM316.0,453.2h0.75v0.75h-0.75zM325.4,419.8h0.75v0.75h-0.75zM321.0,400.2h0.75v0.75h-0.75zM332.4,451.9h0.75v0.75h-0.75zM333.8,418.9h0.75v0.75h-0.75zM315.4,444.1h0.75v0.75h-0.75zM324.8,440.3h0.75v0.75h-0.75zM296.2,453.7h0.75v0.75h-0.75zM341.7,427.3h0.75v0.75h-0.75zM319.9,456.5h0.75v0.75h-0.75zM345.8,431.9h0.75v0.75h-0.75zM313.3,423.5h0.75v0.75h-0.75zM312.9,440.3h0.75v0.75h-0.75zM322.1,453.8h0.75v0.75h-0.75zM339.7,440.9h0.75v0.75h-0.75zM332.4,458.8h0.75v0.75h-0.75zM354.5,396.7h0.75v0.75h-0.75zM336.1,430.3h0.75v0.75h-0.75zM291.6,451.2h0.75v0.75h-0.75zM330.6,417.2h0.75v0.75h-0.75zM303.9,453.5h0.75v0.75h-0.75zM293.2,459.2h0.75v0.75h-0.75zM307.1,455.7h0.75v0.75h-0.75zM309.1,457.6h0.75v0.75h-0.75zM339.8,427.9h0.75v0.75h-0.75zM304.8,451.6h0.75v0.75h-0.75zM319.6,426.8h0.75v0.75h-0.75zM335.6,424.8h0.75v0.75h-0.75zM322.2,445.5h0.75v0.75h-0.75zM313.7,451.2h0.75v0.75h-0.75zM336.5,425.3h0.75v0.75h-0.75zM325.5,443.0h0.75v0.75h-0.75zM310.4,430.0h0.75v0.75h-0.75zM306.5,454.5h0.75v0.75h-0.75zM328.8,448.4h0.75v0.75h-0.75zM306.1,444.5h0.75v0.75h-0.75zM349.8,436.8h0.75v0.75h-0.75zM314.7,456.2h0.75v0.75h-0.75zM316.1,437.4h0.75v0.75h-0.75zM346.8,435.3h0.75v0.75h-0.75zM330.0,446.7h0.75v0.75h-0.75zM325.0,438.4h0.75v0.75h-0.75zM324.2,435.9h0.75v0.75h-0.75zM310.2,458.0h0.75v0.75h-0.75zM300.4,449.6h0.75v0.75h-0.75zM322.3,421.5h0.75v0.75h-0.75zM333.3,431.9h0.75v0.75h-0.75zM317.0,452.2h0.75v0.75h-0.75zM331.3,417.8h0.75v0.75h-0.75zM319.5,429.7h0.75v0.75h-0.75zM317.4,442.3h0.75v0.75h-0.75zM329.2,431.0h0.75v0.75h-0.75zM302.1,448.3h0.75v0.75h-0.75zM324.8,457.1h0.75v0.75h-0.75zM320.1,445.1h0.75v0.75h-0.75zM313.4,437.3h0.75v0.75h-0.75zM317.9,463.2h0.75v0.75h-0.75zM341.0,451.6h0.75v0.75h-0.75zM354.6,429.7h0.75v0.75h-0.75zM309.5,431.1h0.75v0.75h-0.75zM342.0,427.9h0.75v0.75h-0.75zM293.3,442.5h0.75v0.75h-0.75zM323.6,433.3h0.75v0.75h-0.75zM306.8,450.2h0.75v0.75h-0.75zM344.7,422.8h0.75v0.75h-0.75zM342.1,410.9h0.75v0.75h-0.75zM332.6,417.8h0.75v0.75h-0.75zM333.8,413.9h0.75v0.75h-0.75zM315.7,444.2h0.75v0.75h-0.75zM341.8,440.2h0.75v0.75h-0.75zM338.1,438.5h0.75v0.75h-0.75zM303.5,438.4h0.75v0.75h-0.75zM337.4,432.9h0.75v0.75h-0.75zM339.5,429.6h0.75v0.75h-0.75zM328.1,418.7h0.75v0.75h-0.75zM329.1,444.6h0.75v0.75h-0.75zM317.6,454.1h0.75v0.75h-0.75zM300.5,452.8h0.75v0.75h-0.75zM317.0,438.1h0.75v0.75h-0.75zM314.5,441.4h0.75v0.75h-0.75zM298.1,442.3h0.75v0.75h-0.75zM305.6,447.1h0.75v0.75h-0.75zM311.5,440.2h0.75v0.75h-0.75zM298.2,454.2h0.75v0.75h-0.75zM317.3,426.8h0.75v0.75h-0.75zM343.0,424.8h0.75v0.75h-0.75zM305.9,443.1h0.75v0.75h-0.75zM294.7,453.7h0.75v0.75h-0.75zM301.4,442.7h0.75v0.75h-0.75zM303.4,441.9h0.75v0.75h-0.75zM303.3,474.3h0.75v0.75h-0.75zM336.7,424.2h0.75v0.75h-0.75zM310.8,456.0h0.75v0.75h-0.75zM321.2,426.2h0.75v0.75h-0.75zM324.3,446.8h0.75v0.75h-0.75zM317.6,460.1h0.75v0.75h-0.75zM292.8,436.5h0.75v0.75h-0.75zM303.9,453.6h0.75v0.75h-0.75zM330.1,433.8h0.75v0.75h-0.75zM315.1,442.2h0.75v0.75h-0.75zM319.5,455.3h0.75v0.75h-0.75zM320.0,438.3h0.75v0.75h-0.75zM320.7,442.3h0.75v0.75h-0.75zM303.5,435.7h0.75v0.75h-0.75zM289.3,460.9h0.75v0.75h-0.75zM297.9,469.4h0.75v0.75h-0.75zM308.3,447.6h0.75v0.75h-0.75zM296.5,445.2h0.75v0.75h-0.75zM315.5,450.5h0.75v0.75h-0.75zM318.3,452.9h0.75v0.75h-0.75zM316.4,448.9h0.75v0.75h-0.75zM317.9,455.5h0.75v0.75h-0.75zM350.0,424.9h0.75v0.75h-0.75zM310.9,436.9h0.75v0.75h-0.75zM293.5,463.0h0.75v0.75h-0.75zM320.0,458.8h0.75v0.75h-0.75zM307.7,438.4h0.75v0.75h-0.75zM341.2,420.9h0.75v0.75h-0.75zM308.7,433.8h0.75v0.75h-0.75zM331.5,431.0h0.75v0.75h-0.75zM340.6,435.7h0.75v0.75h-0.75zM330.3,408.9h0.75v0.75h-0.75zM299.3,456.2h0.75v0.75h-0.75zM306.7,471.9h0.75v0.75h-0.75zM324.2,449.1h0.75v0.75h-0.75zM312.3,466.9h0.75v0.75h-0.75zM323.5,442.6h0.75v0.75h-0.75zM337.3,442.4h0.75v0.75h-0.75zM308.8,449.6h0.75v0.75h-0.75zM310.9,444.8h0.75v0.75h-0.75zM348.1,425.6h0.75v0.75h-0.75zM326.4,420.5h0.75v0.75h-0.75zM289.8,462.0h0.75v0.75h-0.75zM318.2,423.1h0.75v0.75h-0.75zM319.6,431.3h0.75v0.75h-0.75zM308.1,450.8h0.75v0.75h-0.75zM314.0,456.3h0.75v0.75h-0.75zM306.3,464.5h0.75v0.75h-0.75zM324.6,410.7h0.75v0.75h-0.75zM298.5,435.0h0.75v0.75h-0.75zM313.0,458.8h0.75v0.75h-0.75zM344.1,420.2h0.75v0.75h-0.75zM309.8,450.6h0.75v0.75h-0.75zM355.6,405.8h0.75v0.75h-0.75zM312.5,446.5h0.75v0.75h-0.75zM323.6,427.5h0.75v0.75h-0.75zM322.8,423.8h0.75v0.75h-0.75zM353.3,415.4h0.75v0.75h-0.75zM332.5,436.6h0.75v0.75h-0.75zM297.4,453.6h0.75v0.75h-0.75zM326.0,441.4h0.75v0.75h-0.75zM303.6,455.3h0.75v0.75h-0.75zM329.3,434.4h0.75v0.75h-0.75zM309.4,435.8h0.75v0.75h-0.75zM301.9,452.9h0.75v0.75h-0.75zM327.3,412.2h0.75v0.75h-0.75zM284.2,466.6h0.75v0.75h-0.75zM313.1,458.8h0.75v0.75h-0.75zM304.2,438.4h0.75v0.75h-0.75zM346.4,415.4h0.75v0.75h-0.75zM340.7,422.4h0.75v0.75h-0.75zM336.6,416.2h0.75v0.75h-0.75zM326.5,438.5h0.75v0.75h-0.75zM354.6,437.0h0.75v0.75h-0.75zM336.4,424.5h0.75v0.75h-0.75zM294.0,448.5h0.75v0.75h-0.75zM298.0,450.1h0.75v0.75h-0.75zM297.3,433.6h0.75v0.75h-0.75zM312.5,451.5h0.75v0.75h-0.75zM322.5,426.0h0.75v0.75h-0.75zM309.2,439.6h0.75v0.75h-0.75zM339.2,445.6h0.75v0.75h-0.75zM322.6,455.3h0.75v0.75h-0.75zM326.5,447.1h0.75v0.75h-0.75zM330.2,435.4h0.75v0.75h-0.75zM328.3,435.9h0.75v0.75h-0.75zM325.1,452.7h0.75v0.75h-0.75zM323.1,444.1h0.75v0.75h-0.75zM313.5,445.1h0.75v0.75h-0.75zM330.1,428.6h0.75v0.75h-0.75zM319.7,463.5h0.75v0.75h-0.75zM302.4,437.5h0.75v0.75h-0.75zM323.9,423.1h0.75v0.75h-0.75zM301.7,455.6h0.75v0.75h-0.75zM326.0,428.3h0.75v0.75h-0.75zM301.3,469.5h0.75v0.75h-0.75zM331.1,440.6h0.75v0.75h-0.75zM301.7,458.6h0.75v0.75h-0.75zM334.6,407.9h0.75v0.75h-0.75zM310.7,456.8h0.75v0.75h-0.75zM318.3,437.6h0.75v0.75h-0.75zM314.0,436.9h0.75v0.75h-0.75zM307.8,451.4h0.75v0.75h-0.75zM314.8,447.5h0.75v0.75h-0.75zM293.1,442.8h0.75v0.75h-0.75zM307.2,453.0h0.75v0.75h-0.75zM317.4,435.6h0.75v0.75h-0.75zM304.6,440.9h0.75v0.75h-0.75zM318.8,453.5h0.75v0.75h-0.75zM328.0,427.9h0.75v0.75h-0.75zM333.1,423.6h0.75v0.75h-0.75zM352.7,412.0h0.75v0.75h-0.75zM310.8,436.2h0.75v0.75h-0.75zM317.2,426.5h0.75v0.75h-0.75zM334.3,440.7h0.75v0.75h-0.75zM320.4,443.4h0.75v0.75h-0.75zM307.3,447.3h0.75v0.75h-0.75zM346.0,403.3h0.75v0.75h-0.75zM342.6,418.3h0.75v0.75h-0.75zM322.6,430.2h0.75v0.75h-0.75zM295.7,438.2h0.75v0.75h-0.75zM320.8,449.5h0.75v0.75h-0.75zM319.5,436.6h0.75v0.75h-0.75zM326.0,433.4h0.75v0.75h-0.75zM310.4,440.9h0.75v0.75h-0.75zM340.1,434.2h0.75v0.75h-0.75zM316.8,421.9h0.75v0.75h-0.75zM322.5,426.0h0.75v0.75h-0.75zM331.0,421.3h0.75v0.75h-0.75zM321.9,438.7h0.75v0.75h-0.75zM331.9,429.2h0.75v0.75h-0.75zM307.6,442.9h0.75v0.75h-0.75zM326.0,435.9h0.75v0.75h-0.75zM308.4,433.9h0.75v0.75h-0.75zM322.0,444.2h0.75v0.75h-0.75zM311.6,448.9h0.75v0.75h-0.75zM317.6,423.2h0.75v0.75h-0.75zM305.9,446.5h0.75v0.75h-0.75zM356.1,436.8h0.75v0.75h-0.75zM330.3,416.1h0.75v0.75h-0.75zM344.2,438.0h0.75v0.75h-0.75zM288.6,450.4h0.75v0.75h-0.75zM305.2,459.4h0.75v0.75h-0.75zM313.2,450.5h0.75v0.75h-0.75zM314.4,442.4h0.75v0.75h-0.75zM312.8,455.3h0.75v0.75h-0.75zM324.1,444.9h0.75v0.75h-0.75zM344.3,424.9h0.75v0.75h-0.75zM338.7,437.7h0.75v0.75h-0.75zM312.7,460.1h0.75v0.75h-0.75zM294.8,459.4h0.75v0.75h-0.75zM352.7,448.1h0.75v0.75h-0.75zM322.0,414.8h0.75v0.75h-0.75zM314.2,442.8h0.75v0.75h-0.75zM331.3,449.6h0.75v0.75h-0.75zM322.4,438.3h0.75v0.75h-0.75zM336.4,429.9h0.75v0.75h-0.75zM340.6,407.6h0.75v0.75h-0.75zM320.1,436.3h0.75v0.75h-0.75zM317.1,414.7h0.75v0.75h-0.75zM326.0,439.6h0.75v0.75h-0.75zM333.6,425.7h0.75v0.75h-0.75zM300.9,461.6h0.75v0.75h-0.75zM319.9,440.4h0.75v0.75h-0.75zM294.7,439.2h0.75v0.75h-0.75zM301.4,458.1h0.75v0.75h-0.75zM327.5,420.7h0.75v0.75h-0.75zM310.0,455.0h0.75v0.75h-0.75zM298.8,443.0h0.75v0.75h-0.75zM320.9,452.2h0.75v0.75h-0.75zM327.3,438.7h0.75v0.75h-0.75zM323.7,457.7h0.75v0.75h-0.75zM327.9,449.5h0.75v0.75h-0.75zM322.6,444.5h0.75v0.75h-0.75zM295.9,438.9h0.75v0.75h-0.75zM338.3,431.0h0.75v0.75h-0.75zM341.1,410.3h0.75v0.75h-0.75zM328.3,431.3h0.75v0.75h-0.75zM333.7,430.4h0.75v0.75h-0.75zM328.6,439.6h0.75v0.75h-0.75zM316.6,441.9h0.75v0.75h-0.75zM328.7,423.1h0.75v0.75h-0.75zM330.0,433.1h0.75v0.75h-0.75zM333.4,444.6h0.75v0.75h-0.75zM318.4,435.7h0.75v0.75h-0.75zM304.5,461.9h0.75v0.75h-0.75zM340.0,431.7h0.75v0.75h-0.75zM311.8,440.2h0.75v0.75h-0.75zM318.7,435.7h0.75v0.75h-0.75zM305.7,449.3h0.75v0.75h-0.75zM307.5,460.1h0.75v0.75h-0.75zM298.7,439.8h0.75v0.75h-0.75zM331.4,414.4h0.75v0.75h-0.75zM345.2,446.0h0.75v0.75h-0.75zM301.3,438.4h0.75v0.75h-0.75zM297.6,459.9h0.75v0.75h-0.75zM366.7,425.9h0.75v0.75h-0.75zM350.2,421.5h0.75v0.75h-0.75zM322.7,429.2h0.75v0.75h-0.75zM314.4,430.6h0.75v0.75h-0.75zM331.8,430.1h0.75v0.75h-0.75zM341.0,418.8h0.75v0.75h-0.75zM322.6,417.9h0.75v0.75h-0.75zM342.4,422.6h0.75v0.75h-0.75zM338.0,435.6h0.75v0.75h-0.75zM298.7,445.0h0.75v0.75h-0.75zM321.8,436.0h0.75v0.75h-0.75zM334.9,438.8h0.75v0.75h-0.75zM297.0,450.9h0.75v0.75h-0.75zM295.5,450.9h0.75v0.75h-0.75zM316.9,451.4h0.75v0.75h-0.75zM326.5,417.5h0.75v0.75h-0.75zM338.7,455.8h0.75v0.75h-0.75zM307.2,455.4h0.75v0.75h-0.75zM336.1,420.1h0.75v0.75h-0.75zM292.5,468.5h0.75v0.75h-0.75zM340.7,450.3h0.75v0.75h-0.75zM294.9,445.5h0.75v0.75h-0.75zM316.5,429.4h0.75v0.75h-0.75zM362.8,410.1h0.75v0.75h-0.75zM330.2,450.5h0.75v0.75h-0.75zM324.0,416.9h0.75v0.75h-0.75zM316.2,449.7h0.75v0.75h-0.75zM308.2,435.8h0.75v0.75h-0.75zM303.3,449.8h0.75v0.75h-0.75zM347.1,417.1h0.75v0.75h-0.75zM297.9,453.7h0.75v0.75h-0.75zM317.3,438.2h0.75v0.75h-0.75zM324.1,439.5h0.75v0.75h-0.75zM333.2,435.4h0.75v0.75h-0.75zM346.9,424.0h0.75v0.75h-0.75zM337.1,424.1h0.75v0.75h-0.75zM318.3,438.1h0.75v0.75h-0.75zM333.1,443.7h0.75v0.75h-0.75zM321.4,451.1h0.75v0.75h-0.75zM304.4,443.3h0.75v0.75h-0.75zM320.0,463.2h0.75v0.75h-0.75zM318.6,449.7h0.75v0.75h-0.75zM306.2,449.2h0.75v0.75h-0.75zM316.7,453.4h0.75v0.75h-0.75zM340.1,418.5h0.75v0.75h-0.75zM293.7,430.3h0.75v0.75h-0.75zM291.2,456.9h0.75v0.75h-0.75zM308.4,448.6h0.75v0.75h-0.75zM350.5,417.4h0.75v0.75h-0.75zM241.6,403.9h0.75v0.75h-0.75zM302.6,434.7h0.75v0.75h-0.75zM301.1,506.4h0.75v0.75h-0.75zM318.6,379.2h0.75v0.75h-0.75zM297.2,420.3h0.75v0.75h-0.75zM325.6,405.2h0.75v0.75h-0.75zM312.2,435.0h0.75v0.75h-0.75zM270.2,426.6h0.75v0.75h-0.75zM328.0,385.8h0.75v0.75h-0.75zM345.4,408.4h0.75v0.75h-0.75zM276.8,476.2h0.75v0.75h-0.75zM251.2,388.2h0.75v0.75h-0.75z" fill="#222" fill-opacity="0.7"/>
<path d="M350.16,406.86 L351.13,407.86 L352.01,408.94 L352.80,410.11 L353.48,411.35 L354.05,412.66 L354.51,414.04 L354.86,415.47 L355.09,416.95 L355.20,418.47 L355.20,420.03 L355.07,421.62 L354.83,423.23 L354.46,424.85 L353.98,426.47 L353.39,428.10 L352.69,429.72 L351.87,431.33 L350.96,432.93 L349.94,434.49 L348.83,436.03 L347.64,437.53 L346.36,438.98 L345.01,440.40 L343.60,441.76 L342.12,443.06 L340.59,444.31 L339.02,445.49 L337.41,446.61 L335.77,447.65 L334.12,448.62 L332.45,449.51 L330.78,450.32 L329.12,451.05 L327.46,451.69 L325.83,452.24 L324.22,452.70 L322.65,453.07 L321.12,453.34 L319.64,453.52 L318.21,453.61 L316.83,453.59 L315.53,453.48 L314.28,453.27 L313.12,452.96 L312.03,452.55 L311.01,452.04 L310.08,451.44 L309.24,450.74 L308.48,449.95 L307.82,449.06 L307.24,448.09 L306.76,447.03 L306.37,445.88 L306.07,444.66 L305.87,443.36 L305.76,442.00 L305.74,440.56 L305.81,439.07 L305.98,437.52 L306.24,435.93 L306.59,434.29 L307.03,432.63 L307.55,430.93 L308.16,429.22 L308.85,427.50 L309.62,425.77 L310.47,424.06 L311.40,422.35 L312.40,420.67 L313.47,419.02 L314.60,417.41 L315.80,415.84 L317.06,414.33 L318.38,412.89 L319.74,411.51 L321.16,410.22 L322.61,409.00 L324.10,407.88 L325.63,406.86 L327.17,405.93 L328.74,405.12 L330.33,404.41 L331.92,403.82 L333.51,403.35 L335.09,402.99 L336.67,402.75 L338.22,402.64 L339.75,402.65 L341.24,402.77 L342.70,403.02 L344.10,403.39 L345.45,403.86 L346.74,404.46 L347.96,405.15 L349.10,405.96Z" fill="#fff" stroke="#000" stroke-width="1.0" stroke-linejoin="round"/>
<path d="M349.77,407.55 L350.69,408.48 L351.51,409.50 L352.25,410.60 L352.88,411.77 L353.42,413.01 L353.85,414.30 L354.18,415.65 L354.39,417.05 L354.49,418.49 L354.49,419.96 L354.37,421.46 L354.14,422.98 L353.79,424.51 L353.34,426.05 L352.78,427.59 L352.12,429.13 L351.35,430.66 L350.49,432.16 L349.53,433.65 L348.49,435.11 L347.36,436.53 L346.16,437.91 L344.89,439.25 L343.56,440.55 L342.17,441.79 L340.73,442.97 L339.25,444.10 L337.73,445.16 L336.19,446.15 L334.63,447.07 L333.06,447.91 L331.48,448.68 L329.91,449.37 L328.35,449.98 L326.81,450.50 L325.29,450.94 L323.80,451.29 L322.35,451.55 L320.95,451.72 L319.59,451.80 L318.29,451.78 L317.05,451.67 L315.87,451.46 L314.76,451.17 L313.72,450.78 L312.76,450.29 L311.88,449.72 L311.07,449.05 L310.35,448.29 L309.72,447.45 L309.17,446.53 L308.70,445.52 L308.33,444.43 L308.04,443.27 L307.85,442.04 L307.74,440.74 L307.72,439.39 L307.79,437.97 L307.95,436.51 L308.19,435.00 L308.52,433.46 L308.94,431.88 L309.44,430.28 L310.01,428.66 L310.67,427.04 L311.41,425.41 L312.22,423.79 L313.10,422.18 L314.05,420.60 L315.07,419.04 L316.15,417.52 L317.29,416.05 L318.48,414.63 L319.73,413.27 L321.03,411.97 L322.37,410.75 L323.75,409.61 L325.17,408.55 L326.61,407.59 L328.08,406.72 L329.57,405.95 L331.07,405.28 L332.57,404.72 L334.08,404.27 L335.58,403.94 L337.06,403.71 L338.53,403.60 L339.97,403.61 L341.38,403.72 L342.75,403.95 L344.07,404.29 L345.34,404.74 L346.55,405.29 L347.70,405.95 L348.78,406.70Z" fill="none" stroke="#000" stroke-width="1.0" stroke-linejoin="round"/>
<path d="M349.38,408.24 L350.23,409.11 L351.01,410.07 L351.69,411.10 L352.29,412.20 L352.79,413.36 L353.19,414.58 L353.49,415.85 L353.69,417.17 L353.79,418.52 L353.78,419.91 L353.66,421.32 L353.45,422.75 L353.12,424.20 L352.70,425.66 L352.17,427.11 L351.54,428.56 L350.82,430.01 L350.01,431.43 L349.12,432.84 L348.14,434.22 L347.08,435.57 L345.95,436.88 L344.76,438.15 L343.50,439.37 L342.20,440.55 L340.84,441.67 L339.45,442.74 L338.03,443.74 L336.58,444.68 L335.11,445.56 L333.63,446.36 L332.14,447.09 L330.66,447.74 L329.19,448.32 L327.74,448.81 L326.31,449.23 L324.90,449.56 L323.53,449.80 L322.21,449.96 L320.92,450.03 L319.69,450.01 L318.52,449.90 L317.40,449.71 L316.35,449.42 L315.37,449.05 L314.45,448.59 L313.61,448.04 L312.85,447.40 L312.16,446.69 L311.56,445.89 L311.04,445.01 L310.59,444.05 L310.24,443.02 L309.96,441.92 L309.77,440.76 L309.67,439.53 L309.65,438.25 L309.72,436.91 L309.86,435.53 L310.09,434.11 L310.41,432.65 L310.80,431.17 L311.27,429.66 L311.82,428.14 L312.44,426.60 L313.14,425.07 L313.91,423.55 L314.75,422.03 L315.65,420.54 L316.61,419.08 L317.64,417.65 L318.72,416.27 L319.86,414.93 L321.04,413.65 L322.27,412.43 L323.54,411.28 L324.85,410.21 L326.19,409.22 L327.56,408.31 L328.95,407.49 L330.35,406.77 L331.77,406.14 L333.19,405.61 L334.61,405.19 L336.02,404.87 L337.43,404.66 L338.81,404.55 L340.17,404.55 L341.49,404.66 L342.78,404.87 L344.02,405.19 L345.22,405.61 L346.36,406.12 L347.43,406.74 L348.44,407.44Z" fill="none" stroke="#000" stroke-width="1.0" stroke-linejoin="round"/>
<path d="M348.97,408.92 L349.77,409.74 L350.50,410.64 L351.14,411.60 L351.69,412.63 L352.16,413.72 L352.53,414.87 L352.81,416.06 L353.00,417.30 L353.09,418.57 L353.07,419.87 L352.97,421.20 L352.76,422.55 L352.45,423.91 L352.05,425.28 L351.56,426.66 L350.97,428.03 L350.30,429.39 L349.54,430.73 L348.70,432.06 L347.78,433.36 L346.79,434.64 L345.73,435.88 L344.61,437.08 L343.43,438.24 L342.21,439.35 L340.94,440.41 L339.63,441.42 L338.30,442.37 L336.94,443.26 L335.56,444.09 L334.17,444.85 L332.77,445.54 L331.38,446.16 L330.00,446.70 L328.63,447.17 L327.28,447.56 L325.96,447.87 L324.67,448.10 L323.42,448.24 L322.21,448.31 L321.05,448.29 L319.94,448.18 L318.88,448.00 L317.89,447.72 L316.96,447.37 L316.09,446.93 L315.30,446.41 L314.57,445.81 L313.92,445.13 L313.35,444.37 L312.85,443.54 L312.43,442.63 L312.09,441.66 L311.83,440.62 L311.65,439.52 L311.55,438.37 L311.53,437.16 L311.58,435.90 L311.72,434.59 L311.94,433.25 L312.24,431.88 L312.61,430.48 L313.05,429.07 L313.57,427.63 L314.16,426.19 L314.82,424.76 L315.55,423.32 L316.34,421.90 L317.20,420.50 L318.11,419.13 L319.08,417.79 L320.11,416.49 L321.18,415.24 L322.30,414.03 L323.47,412.89 L324.67,411.82 L325.91,410.81 L327.17,409.88 L328.46,409.02 L329.77,408.26 L331.10,407.58 L332.43,406.99 L333.77,406.49 L335.11,406.09 L336.44,405.79 L337.76,405.59 L339.06,405.49 L340.34,405.49 L341.58,405.58 L342.79,405.78 L343.96,406.07 L345.08,406.46 L346.14,406.95 L347.15,407.52 L348.10,408.18Z" fill="none" stroke="#000" stroke-width="1.0" stroke-linejoin="round"/>
<path d="M348.56,409.60 L349.31,410.37 L349.98,411.20 L350.58,412.11 L351.09,413.07 L351.53,414.09 L351.88,415.16 L352.14,416.28 L352.31,417.44 L352.39,418.63 L352.37,419.85 L352.27,421.10 L352.07,422.37 L351.79,423.65 L351.41,424.94 L350.95,426.23 L350.40,427.52 L349.77,428.80 L349.06,430.07 L348.27,431.32 L347.41,432.54 L346.48,433.74 L345.49,434.91 L344.45,436.05 L343.35,437.14 L342.20,438.19 L341.01,439.19 L339.79,440.15 L338.54,441.04 L337.27,441.88 L335.97,442.66 L334.67,443.38 L333.36,444.03 L332.06,444.61 L330.76,445.12 L329.47,445.57 L328.21,445.93 L326.97,446.22 L325.76,446.44 L324.58,446.58 L323.44,446.63 L322.35,446.61 L321.30,446.51 L320.31,446.33 L319.37,446.08 L318.49,445.74 L317.68,445.32 L316.92,444.83 L316.24,444.26 L315.62,443.62 L315.08,442.90 L314.61,442.11 L314.21,441.26 L313.88,440.34 L313.64,439.37 L313.46,438.33 L313.37,437.24 L313.35,436.10 L313.40,434.92 L313.53,433.69 L313.73,432.43 L314.01,431.15 L314.36,429.83 L314.78,428.50 L315.27,427.16 L315.83,425.81 L316.45,424.46 L317.14,423.12 L317.89,421.79 L318.70,420.48 L319.56,419.19 L320.48,417.94 L321.45,416.72 L322.46,415.55 L323.52,414.42 L324.62,413.35 L325.75,412.35 L326.92,411.40 L328.11,410.53 L329.32,409.73 L330.56,409.01 L331.80,408.38 L333.06,407.82 L334.32,407.36 L335.58,406.98 L336.83,406.70 L338.06,406.51 L339.28,406.41 L340.48,406.41 L341.65,406.50 L342.78,406.68 L343.87,406.95 L344.92,407.31 L345.92,407.76 L346.86,408.29 L347.74,408.91Z" fill="none" stroke="#000" stroke-width="1.0" stroke-linejoin="round"/>
<path d="M348.14,410.28 L348.83,410.99 L349.46,411.77 L350.01,412.61 L350.49,413.51 L350.90,414.46 L351.22,415.46 L351.46,416.51 L351.62,417.59 L351.69,418.71 L351.68,419.85 L351.58,421.02 L351.39,422.21 L351.12,423.41 L350.77,424.61 L350.34,425.83 L349.83,427.04 L349.24,428.24 L348.57,429.43 L347.84,430.60 L347.04,431.76 L346.17,432.89 L345.25,433.99 L344.27,435.05 L343.25,436.08 L342.18,437.07 L341.07,438.01 L339.93,438.91 L338.76,439.75 L337.57,440.54 L336.36,441.28 L335.14,441.95 L333.92,442.56 L332.70,443.11 L331.48,443.59 L330.28,444.01 L329.09,444.35 L327.93,444.63 L326.80,444.83 L325.69,444.95 L324.62,445.01 L323.60,444.99 L322.61,444.89 L321.68,444.72 L320.80,444.47 L319.97,444.15 L319.20,443.76 L318.49,443.30 L317.85,442.76 L317.27,442.15 L316.75,441.48 L316.31,440.74 L315.93,439.94 L315.62,439.07 L315.39,438.15 L315.22,437.18 L315.13,436.16 L315.11,435.09 L315.16,433.98 L315.28,432.83 L315.47,431.65 L315.73,430.44 L316.06,429.21 L316.46,427.97 L316.92,426.71 L317.45,425.45 L318.03,424.19 L318.68,422.93 L319.39,421.69 L320.15,420.46 L320.96,419.26 L321.83,418.09 L322.74,416.95 L323.69,415.86 L324.69,414.81 L325.72,413.81 L326.79,412.87 L327.88,411.99 L329.00,411.18 L330.14,410.43 L331.30,409.76 L332.47,409.16 L333.65,408.65 L334.83,408.21 L336.01,407.86 L337.18,407.60 L338.34,407.42 L339.48,407.32 L340.60,407.32 L341.69,407.40 L342.75,407.56 L343.77,407.82 L344.75,408.15 L345.68,408.57 L346.55,409.06 L347.38,409.63Z" fill="none" stroke="#000" stroke-width="1.0" stroke-linejoin="round"/>
<path d="M347.71,410.95 L348.35,411.61 L348.94,412.34 L349.45,413.12 L349.90,413.96 L350.27,414.84 L350.57,415.77 L350.79,416.75 L350.93,417.76 L351.00,418.80 L350.98,419.87 L350.89,420.96 L350.72,422.07 L350.46,423.19 L350.14,424.32 L349.73,425.45 L349.26,426.58 L348.71,427.71 L348.09,428.82 L347.40,429.92 L346.66,431.00 L345.85,432.06 L345.00,433.09 L344.09,434.09 L343.13,435.06 L342.14,435.99 L341.10,436.87 L340.04,437.71 L338.95,438.51 L337.84,439.25 L336.72,439.94 L335.58,440.57 L334.44,441.14 L333.30,441.66 L332.17,442.11 L331.05,442.50 L329.94,442.82 L328.85,443.08 L327.79,443.26 L326.75,443.38 L325.76,443.43 L324.79,443.41 L323.87,443.32 L323.00,443.16 L322.17,442.92 L321.40,442.62 L320.67,442.25 L320.01,441.81 L319.40,441.31 L318.85,440.74 L318.37,440.10 L317.95,439.41 L317.59,438.66 L317.31,437.85 L317.08,436.98 L316.93,436.07 L316.84,435.12 L316.82,434.11 L316.86,433.08 L316.98,432.00 L317.16,430.90 L317.40,429.77 L317.71,428.63 L318.08,427.46 L318.51,426.29 L319.01,425.11 L319.56,423.94 L320.17,422.77 L320.83,421.61 L321.55,420.47 L322.31,419.35 L323.12,418.26 L323.98,417.20 L324.87,416.18 L325.81,415.20 L326.78,414.27 L327.78,413.40 L328.80,412.58 L329.85,411.82 L330.92,411.12 L332.01,410.50 L333.10,409.94 L334.21,409.46 L335.31,409.05 L336.41,408.73 L337.50,408.48 L338.59,408.31 L339.65,408.22 L340.69,408.21 L341.71,408.28 L342.70,408.44 L343.65,408.67 L344.56,408.98 L345.42,409.36 L346.24,409.82 L347.00,410.35Z" fill="none" stroke="#000" stroke-width="1.0" stroke-linejoin="round"/>
<path d="M347.28,411.62 L347.87,412.23 L348.41,412.90 L348.89,413.63 L349.30,414.40 L349.64,415.22 L349.91,416.09 L350.12,416.99 L350.25,417.93 L350.31,418.90 L350.29,419.89 L350.20,420.91 L350.04,421.94 L349.81,422.99 L349.50,424.04 L349.13,425.10 L348.69,426.15 L348.18,427.20 L347.60,428.24 L346.97,429.27 L346.28,430.28 L345.53,431.27 L344.73,432.24 L343.89,433.17 L343.00,434.07 L342.08,434.94 L341.12,435.77 L340.13,436.56 L339.12,437.30 L338.09,437.99 L337.04,438.64 L335.99,439.23 L334.93,439.77 L333.87,440.25 L332.81,440.67 L331.77,441.04 L330.74,441.34 L329.72,441.57 L328.73,441.75 L327.77,441.86 L326.84,441.90 L325.94,441.88 L325.08,441.79 L324.26,441.64 L323.49,441.42 L322.76,441.14 L322.09,440.79 L321.46,440.38 L320.90,439.90 L320.38,439.37 L319.93,438.78 L319.53,438.13 L319.20,437.42 L318.93,436.67 L318.72,435.86 L318.57,435.01 L318.49,434.12 L318.47,433.18 L318.51,432.21 L318.61,431.21 L318.78,430.19 L319.01,429.14 L319.30,428.07 L319.65,426.99 L320.05,425.90 L320.51,424.80 L321.03,423.71 L321.60,422.62 L322.22,421.54 L322.89,420.48 L323.61,419.44 L324.37,418.43 L325.17,417.45 L326.01,416.50 L326.88,415.59 L327.79,414.73 L328.72,413.92 L329.68,413.15 L330.66,412.45 L331.66,411.81 L332.68,411.22 L333.70,410.71 L334.73,410.26 L335.75,409.88 L336.78,409.57 L337.80,409.34 L338.81,409.18 L339.80,409.10 L340.77,409.09 L341.71,409.16 L342.63,409.30 L343.51,409.51 L344.35,409.79 L345.16,410.15 L345.91,410.57 L346.62,411.06Z" fill="none" stroke="#000" stroke-width="1.0" stroke-linejoin="round"/>
<path d="M346.84,412.28 L347.39,412.84 L347.88,413.46 L348.32,414.13 L348.70,414.85 L349.02,415.61 L349.27,416.41 L349.45,417.25 L349.57,418.12 L349.63,419.02 L349.61,419.94 L349.53,420.88 L349.38,421.84 L349.16,422.81 L348.88,423.79 L348.53,424.77 L348.12,425.75 L347.64,426.73 L347.11,427.70 L346.53,428.65 L345.89,429.60 L345.20,430.52 L344.46,431.42 L343.68,432.29 L342.86,433.13 L342.00,433.94 L341.12,434.71 L340.20,435.44 L339.27,436.14 L338.31,436.79 L337.34,437.39 L336.37,437.94 L335.38,438.44 L334.40,438.89 L333.42,439.28 L332.45,439.62 L331.49,439.90 L330.55,440.12 L329.63,440.28 L328.74,440.38 L327.87,440.42 L327.04,440.40 L326.24,440.32 L325.47,440.18 L324.75,439.97 L324.08,439.71 L323.45,439.38 L322.86,438.99 L322.33,438.55 L321.85,438.05 L321.43,437.50 L321.06,436.89 L320.75,436.24 L320.49,435.53 L320.30,434.78 L320.16,433.99 L320.08,433.16 L320.06,432.29 L320.10,431.39 L320.19,430.46 L320.35,429.51 L320.56,428.53 L320.83,427.54 L321.16,426.54 L321.53,425.53 L321.97,424.51 L322.45,423.50 L322.98,422.49 L323.56,421.49 L324.19,420.51 L324.85,419.55 L325.56,418.61 L326.31,417.70 L327.09,416.82 L327.91,415.98 L328.75,415.18 L329.62,414.43 L330.52,413.73 L331.43,413.07 L332.36,412.48 L333.30,411.94 L334.25,411.46 L335.21,411.04 L336.17,410.69 L337.12,410.41 L338.06,410.19 L339.00,410.04 L339.92,409.96 L340.82,409.95 L341.69,410.01 L342.54,410.14 L343.36,410.33 L344.14,410.60 L344.88,410.92 L345.58,411.31 L346.23,411.77Z" fill="none" stroke="#000" stroke-width="1.0" stroke-linejoin="round"/>
<path d="M346.39,412.93 L346.90,413.45 L347.36,414.02 L347.76,414.64 L348.10,415.30 L348.39,416.00 L348.62,416.74 L348.79,417.51 L348.90,418.31 L348.95,419.14 L348.93,420.00 L348.86,420.87 L348.72,421.75 L348.51,422.65 L348.25,423.56 L347.93,424.47 L347.55,425.38 L347.12,426.28 L346.63,427.18 L346.09,428.07 L345.49,428.94 L344.86,429.80 L344.18,430.63 L343.46,431.44 L342.70,432.22 L341.91,432.97 L341.10,433.69 L340.25,434.37 L339.39,435.02 L338.51,435.62 L337.61,436.18 L336.71,436.69 L335.80,437.16 L334.90,437.58 L333.99,437.94 L333.09,438.25 L332.21,438.51 L331.34,438.72 L330.49,438.87 L329.66,438.96 L328.85,439.00 L328.08,438.98 L327.34,438.90 L326.63,438.77 L325.96,438.57 L325.33,438.33 L324.75,438.02 L324.21,437.66 L323.71,437.25 L323.27,436.79 L322.87,436.27 L322.53,435.71 L322.24,435.10 L322.00,434.45 L321.81,433.75 L321.68,433.02 L321.61,432.24 L321.59,431.44 L321.63,430.61 L321.72,429.75 L321.86,428.86 L322.06,427.96 L322.31,427.05 L322.61,426.12 L322.96,425.18 L323.36,424.24 L323.81,423.31 L324.31,422.38 L324.85,421.46 L325.43,420.55 L326.05,419.66 L326.71,418.80 L327.40,417.96 L328.13,417.15 L328.89,416.37 L329.67,415.64 L330.48,414.94 L331.31,414.29 L332.16,413.69 L333.02,413.14 L333.89,412.64 L334.78,412.20 L335.66,411.81 L336.55,411.49 L337.43,411.23 L338.30,411.03 L339.17,410.89 L340.02,410.81 L340.85,410.80 L341.65,410.85 L342.44,410.97 L343.19,411.15 L343.91,411.39 L344.59,411.69 L345.24,412.04 L345.84,412.46Z" fill="none" stroke="#000" stroke-width="1.35" stroke-linejoin="round"/>
<path d="M345.95,413.57 L346.41,414.05 L346.83,414.57 L347.20,415.14 L347.51,415.75 L347.78,416.39 L347.99,417.07 L348.14,417.78 L348.24,418.52 L348.28,419.28 L348.27,420.07 L348.19,420.87 L348.06,421.69 L347.88,422.51 L347.64,423.35 L347.34,424.19 L346.99,425.03 L346.59,425.86 L346.14,426.69 L345.64,427.51 L345.10,428.32 L344.52,429.11 L343.89,429.88 L343.23,430.63 L342.54,431.36 L341.81,432.05 L341.06,432.72 L340.28,433.35 L339.49,433.94 L338.68,434.50 L337.86,435.02 L337.03,435.49 L336.19,435.93 L335.36,436.31 L334.52,436.65 L333.70,436.94 L332.88,437.18 L332.08,437.37 L331.29,437.51 L330.53,437.59 L329.79,437.63 L329.07,437.61 L328.39,437.53 L327.73,437.41 L327.11,437.23 L326.53,437.00 L325.99,436.72 L325.49,436.38 L325.03,436.00 L324.62,435.57 L324.25,435.10 L323.93,434.57 L323.66,434.01 L323.44,433.41 L323.27,432.76 L323.15,432.08 L323.08,431.37 L323.06,430.63 L323.09,429.86 L323.18,429.07 L323.31,428.25 L323.49,427.42 L323.72,426.58 L324.00,425.72 L324.33,424.86 L324.70,424.00 L325.12,423.14 L325.58,422.28 L326.08,421.43 L326.61,420.60 L327.19,419.78 L327.80,418.99 L328.44,418.22 L329.12,417.47 L329.82,416.76 L330.54,416.08 L331.29,415.45 L332.06,414.85 L332.84,414.30 L333.64,413.79 L334.45,413.33 L335.26,412.92 L336.08,412.57 L336.89,412.27 L337.71,412.03 L338.51,411.84 L339.31,411.71 L340.09,411.64 L340.85,411.63 L341.60,411.68 L342.32,411.78 L343.01,411.94 L343.67,412.16 L344.30,412.44 L344.89,412.76 L345.44,413.14Z" fill="none" stroke="#000" stroke-width="1.35" stroke-linejoin="round"/>
<path d="M345.50,414.21 L345.92,414.64 L346.30,415.12 L346.64,415.64 L346.93,416.19 L347.17,416.78 L347.36,417.40 L347.50,418.05 L347.58,418.73 L347.62,419.43 L347.61,420.15 L347.54,420.88 L347.42,421.63 L347.25,422.39 L347.02,423.16 L346.75,423.93 L346.43,424.70 L346.07,425.47 L345.65,426.24 L345.20,426.99 L344.70,427.73 L344.17,428.46 L343.60,429.17 L342.99,429.86 L342.36,430.53 L341.69,431.17 L341.01,431.78 L340.30,432.37 L339.57,432.91 L338.83,433.43 L338.07,433.91 L337.31,434.34 L336.55,434.74 L335.78,435.10 L335.02,435.41 L334.26,435.68 L333.51,435.90 L332.77,436.07 L332.05,436.20 L331.35,436.28 L330.67,436.31 L330.01,436.29 L329.38,436.22 L328.78,436.10 L328.21,435.94 L327.67,435.72 L327.17,435.46 L326.71,435.16 L326.29,434.80 L325.91,434.41 L325.57,433.97 L325.28,433.49 L325.03,432.97 L324.82,432.41 L324.67,431.82 L324.55,431.20 L324.49,430.54 L324.47,429.86 L324.50,429.15 L324.58,428.43 L324.70,427.68 L324.87,426.92 L325.08,426.14 L325.34,425.36 L325.64,424.57 L325.98,423.78 L326.37,422.99 L326.79,422.20 L327.25,421.43 L327.75,420.66 L328.28,419.92 L328.84,419.19 L329.44,418.48 L330.06,417.80 L330.70,417.15 L331.37,416.53 L332.06,415.94 L332.77,415.40 L333.49,414.89 L334.22,414.43 L334.96,414.01 L335.71,413.63 L336.46,413.31 L337.21,413.03 L337.96,412.81 L338.70,412.64 L339.43,412.52 L340.14,412.45 L340.84,412.44 L341.52,412.48 L342.18,412.58 L342.81,412.72 L343.42,412.92 L343.99,413.17 L344.53,413.47 L345.04,413.81Z" fill="none" stroke="#000" stroke-width="1.35" stroke-linejoin="round"/>
<path d="M345.05,414.83 L345.44,415.23 L345.78,415.66 L346.08,416.13 L346.34,416.64 L346.56,417.17 L346.73,417.74 L346.86,418.33 L346.94,418.95 L346.97,419.59 L346.95,420.24 L346.89,420.91 L346.78,421.60 L346.62,422.29 L346.42,422.99 L346.17,423.70 L345.88,424.41 L345.55,425.11 L345.17,425.81 L344.76,426.50 L344.31,427.18 L343.82,427.85 L343.30,428.50 L342.75,429.13 L342.17,429.74 L341.56,430.33 L340.94,430.89 L340.29,431.43 L339.63,431.93 L338.95,432.40 L338.26,432.84 L337.57,433.24 L336.87,433.61 L336.17,433.93 L335.48,434.22 L334.78,434.46 L334.10,434.67 L333.43,434.83 L332.77,434.94 L332.12,435.01 L331.50,435.04 L330.90,435.02 L330.32,434.96 L329.77,434.85 L329.25,434.70 L328.76,434.51 L328.30,434.27 L327.88,433.98 L327.49,433.66 L327.14,433.30 L326.83,432.89 L326.56,432.45 L326.33,431.98 L326.14,431.47 L326.00,430.93 L325.89,430.36 L325.83,429.76 L325.82,429.13 L325.84,428.49 L325.91,427.82 L326.03,427.14 L326.18,426.44 L326.38,425.73 L326.61,425.02 L326.89,424.30 L327.20,423.58 L327.56,422.86 L327.95,422.14 L328.37,421.43 L328.83,420.74 L329.31,420.05 L329.83,419.39 L330.37,418.75 L330.94,418.13 L331.54,417.53 L332.15,416.97 L332.78,416.44 L333.43,415.94 L334.09,415.47 L334.76,415.05 L335.44,414.67 L336.12,414.33 L336.81,414.03 L337.50,413.78 L338.18,413.58 L338.85,413.42 L339.52,413.31 L340.17,413.25 L340.81,413.23 L341.43,413.27 L342.03,413.35 L342.61,413.49 L343.16,413.67 L343.68,413.89 L344.17,414.16 L344.63,414.47Z" fill="none" stroke="#000" stroke-width="1.35" stroke-linejoin="round"/>
<path d="M344.60,415.44 L344.95,415.80 L345.26,416.19 L345.54,416.62 L345.77,417.07 L345.97,417.56 L346.12,418.07 L346.23,418.61 L346.30,419.17 L346.33,419.75 L346.31,420.35 L346.26,420.96 L346.16,421.58 L346.01,422.21 L345.83,422.85 L345.60,423.49 L345.34,424.13 L345.03,424.77 L344.69,425.41 L344.32,426.04 L343.91,426.66 L343.47,427.27 L342.99,427.86 L342.49,428.44 L341.97,429.00 L341.42,429.53 L340.85,430.05 L340.27,430.54 L339.67,431.00 L339.05,431.43 L338.43,431.83 L337.80,432.19 L337.17,432.53 L336.53,432.82 L335.90,433.08 L335.27,433.31 L334.65,433.49 L334.03,433.64 L333.43,433.74 L332.85,433.81 L332.28,433.83 L331.74,433.82 L331.21,433.76 L330.71,433.66 L330.23,433.52 L329.79,433.34 L329.37,433.12 L328.98,432.87 L328.63,432.57 L328.31,432.24 L328.03,431.87 L327.78,431.47 L327.57,431.04 L327.40,430.57 L327.26,430.08 L327.17,429.56 L327.11,429.01 L327.10,428.45 L327.12,427.86 L327.19,427.25 L327.29,426.63 L327.43,426.00 L327.61,425.36 L327.83,424.71 L328.08,424.05 L328.37,423.40 L328.69,422.74 L329.04,422.09 L329.43,421.45 L329.85,420.82 L330.29,420.20 L330.77,419.60 L331.26,419.01 L331.78,418.45 L332.32,417.91 L332.88,417.40 L333.46,416.92 L334.05,416.46 L334.65,416.05 L335.26,415.66 L335.88,415.31 L336.50,415.00 L337.13,414.73 L337.75,414.51 L338.37,414.32 L338.99,414.18 L339.59,414.08 L340.18,414.02 L340.76,414.01 L341.33,414.04 L341.87,414.11 L342.39,414.23 L342.89,414.39 L343.36,414.59 L343.81,414.84 L344.22,415.12Z" fill="none" stroke="#000" stroke-width="1.35" stroke-linejoin="round"/>
<path d="M344.16,416.04 L344.47,416.36 L344.75,416.71 L344.99,417.10 L345.20,417.51 L345.38,417.95 L345.52,418.41 L345.62,418.89 L345.68,419.40 L345.70,419.92 L345.69,420.46 L345.63,421.01 L345.54,421.57 L345.41,422.14 L345.25,422.72 L345.04,423.30 L344.80,423.88 L344.53,424.46 L344.22,425.04 L343.88,425.61 L343.51,426.17 L343.11,426.73 L342.69,427.26 L342.24,427.79 L341.76,428.29 L341.27,428.78 L340.76,429.25 L340.23,429.69 L339.69,430.11 L339.13,430.50 L338.57,430.86 L338.00,431.19 L337.43,431.50 L336.86,431.77 L336.28,432.00 L335.71,432.21 L335.15,432.38 L334.60,432.51 L334.06,432.60 L333.53,432.66 L333.01,432.68 L332.52,432.67 L332.04,432.62 L331.59,432.53 L331.16,432.40 L330.75,432.24 L330.37,432.04 L330.02,431.81 L329.70,431.54 L329.41,431.24 L329.16,430.90 L328.93,430.54 L328.74,430.15 L328.59,429.73 L328.46,429.28 L328.38,428.81 L328.33,428.31 L328.31,427.80 L328.34,427.27 L328.39,426.72 L328.49,426.16 L328.62,425.59 L328.78,425.01 L328.98,424.42 L329.21,423.83 L329.47,423.24 L329.76,422.65 L330.08,422.06 L330.43,421.48 L330.81,420.91 L331.22,420.35 L331.65,419.81 L332.10,419.28 L332.57,418.77 L333.06,418.29 L333.57,417.83 L334.09,417.39 L334.63,416.98 L335.17,416.60 L335.73,416.26 L336.29,415.94 L336.85,415.66 L337.41,415.42 L337.98,415.21 L338.54,415.04 L339.09,414.91 L339.64,414.82 L340.18,414.77 L340.70,414.75 L341.21,414.78 L341.70,414.85 L342.17,414.95 L342.62,415.10 L343.04,415.28 L343.44,415.50 L343.82,415.75Z" fill="none" stroke="#000" stroke-width="1.35" stroke-linejoin="round"/>
<path d="M343.72,416.62 L343.99,416.91 L344.24,417.22 L344.46,417.57 L344.65,417.93 L344.80,418.33 L344.93,418.74 L345.01,419.17 L345.07,419.63 L345.09,420.10 L345.08,420.58 L345.03,421.08 L344.94,421.58 L344.83,422.09 L344.68,422.61 L344.49,423.14 L344.28,423.66 L344.03,424.18 L343.75,424.70 L343.45,425.21 L343.12,425.72 L342.76,426.22 L342.38,426.70 L341.97,427.18 L341.55,427.63 L341.11,428.07 L340.65,428.49 L340.17,428.89 L339.69,429.27 L339.19,429.62 L338.69,429.95 L338.18,430.25 L337.66,430.52 L337.15,430.77 L336.63,430.98 L336.12,431.17 L335.62,431.32 L335.12,431.44 L334.63,431.52 L334.16,431.58 L333.70,431.60 L333.25,431.58 L332.82,431.53 L332.41,431.45 L332.03,431.34 L331.66,431.19 L331.32,431.01 L331.00,430.80 L330.71,430.56 L330.45,430.29 L330.22,429.99 L330.02,429.66 L329.85,429.31 L329.71,428.93 L329.60,428.53 L329.52,428.10 L329.48,427.66 L329.46,427.20 L329.48,426.72 L329.53,426.23 L329.62,425.72 L329.74,425.21 L329.88,424.69 L330.06,424.16 L330.27,423.63 L330.50,423.10 L330.77,422.57 L331.06,422.04 L331.38,421.52 L331.72,421.01 L332.09,420.51 L332.47,420.02 L332.88,419.55 L333.31,419.09 L333.75,418.66 L334.21,418.24 L334.68,417.85 L335.16,417.48 L335.65,417.14 L336.15,416.83 L336.65,416.55 L337.16,416.30 L337.67,416.08 L338.18,415.89 L338.68,415.74 L339.18,415.62 L339.67,415.54 L340.15,415.49 L340.62,415.48 L341.08,415.50 L341.52,415.56 L341.94,415.65 L342.34,415.78 L342.72,415.94 L343.08,416.14 L343.41,416.36Z" fill="none" stroke="#000" stroke-width="1.35" stroke-linejoin="round"/>
<path d="M343.28,417.18 L343.53,417.44 L343.75,417.72 L343.94,418.02 L344.11,418.35 L344.24,418.70 L344.35,419.07 L344.43,419.46 L344.48,419.86 L344.49,420.28 L344.48,420.71 L344.43,421.15 L344.36,421.60 L344.25,422.06 L344.12,422.52 L343.95,422.99 L343.76,423.46 L343.54,423.92 L343.30,424.39 L343.02,424.85 L342.73,425.30 L342.41,425.75 L342.07,426.18 L341.71,426.61 L341.33,427.01 L340.94,427.41 L340.53,427.79 L340.11,428.14 L339.67,428.48 L339.23,428.80 L338.78,429.09 L338.32,429.36 L337.87,429.61 L337.41,429.83 L336.95,430.02 L336.49,430.18 L336.04,430.32 L335.60,430.43 L335.16,430.50 L334.74,430.55 L334.33,430.57 L333.93,430.56 L333.55,430.51 L333.18,430.44 L332.83,430.34 L332.51,430.21 L332.20,430.05 L331.92,429.86 L331.66,429.64 L331.43,429.40 L331.22,429.13 L331.04,428.84 L330.88,428.52 L330.76,428.18 L330.66,427.82 L330.59,427.45 L330.55,427.05 L330.54,426.64 L330.56,426.21 L330.61,425.77 L330.68,425.32 L330.79,424.86 L330.92,424.39 L331.08,423.92 L331.26,423.45 L331.48,422.98 L331.71,422.50 L331.98,422.03 L332.26,421.57 L332.57,421.12 L332.90,420.67 L333.24,420.23 L333.61,419.81 L333.99,419.41 L334.39,419.02 L334.80,418.65 L335.22,418.30 L335.65,417.97 L336.09,417.67 L336.54,417.39 L336.99,417.14 L337.44,416.92 L337.89,416.72 L338.35,416.55 L338.80,416.42 L339.24,416.31 L339.68,416.23 L340.11,416.19 L340.53,416.18 L340.93,416.20 L341.32,416.25 L341.70,416.33 L342.06,416.44 L342.40,416.58 L342.71,416.76 L343.01,416.96Z" fill="none" stroke="#000" stroke-width="1.35" stroke-linejoin="round"/>
<path d="M342.85,417.73 L343.07,417.95 L343.26,418.20 L343.43,418.47 L343.58,418.76 L343.70,419.07 L343.79,419.39 L343.86,419.73 L343.90,420.09 L343.91,420.46 L343.90,420.84 L343.86,421.23 L343.79,421.63 L343.70,422.04 L343.58,422.45 L343.43,422.86 L343.26,423.28 L343.07,423.69 L342.85,424.11 L342.61,424.52 L342.35,424.92 L342.06,425.31 L341.76,425.70 L341.44,426.08 L341.11,426.44 L340.76,426.79 L340.40,427.13 L340.02,427.45 L339.64,427.75 L339.25,428.03 L338.85,428.29 L338.45,428.53 L338.04,428.75 L337.64,428.94 L337.23,429.12 L336.83,429.26 L336.43,429.38 L336.03,429.48 L335.65,429.55 L335.27,429.59 L334.91,429.61 L334.55,429.60 L334.21,429.56 L333.89,429.50 L333.58,429.40 L333.29,429.29 L333.02,429.15 L332.77,428.98 L332.54,428.79 L332.33,428.57 L332.15,428.33 L331.99,428.07 L331.85,427.79 L331.74,427.49 L331.65,427.17 L331.59,426.84 L331.56,426.48 L331.55,426.12 L331.56,425.74 L331.61,425.35 L331.67,424.95 L331.77,424.54 L331.88,424.13 L332.03,423.71 L332.19,423.29 L332.38,422.88 L332.60,422.46 L332.83,422.04 L333.08,421.63 L333.36,421.23 L333.65,420.83 L333.96,420.45 L334.28,420.07 L334.62,419.71 L334.97,419.37 L335.34,419.04 L335.71,418.73 L336.10,418.44 L336.49,418.18 L336.89,417.93 L337.29,417.71 L337.69,417.51 L338.09,417.33 L338.49,417.18 L338.89,417.06 L339.28,416.97 L339.67,416.90 L340.05,416.86 L340.42,416.85 L340.78,416.86 L341.13,416.91 L341.46,416.98 L341.77,417.08 L342.07,417.20 L342.35,417.35 L342.61,417.53Z" fill="none" stroke="#000" stroke-width="1.35" stroke-linejoin="round"/>
<path d="M342.43,418.25 L342.62,418.45 L342.79,418.66 L342.94,418.90 L343.07,419.15 L343.17,419.42 L343.25,419.71 L343.31,420.01 L343.35,420.32 L343.36,420.65 L343.34,420.98 L343.31,421.32 L343.25,421.68 L343.16,422.03 L343.06,422.39 L342.93,422.76 L342.78,423.12 L342.61,423.49 L342.41,423.85 L342.20,424.21 L341.97,424.57 L341.72,424.92 L341.46,425.26 L341.18,425.59 L340.89,425.91 L340.58,426.22 L340.26,426.52 L339.93,426.80 L339.60,427.07 L339.25,427.31 L338.90,427.55 L338.55,427.76 L338.19,427.95 L337.83,428.12 L337.48,428.28 L337.12,428.41 L336.77,428.51 L336.43,428.60 L336.09,428.66 L335.75,428.70 L335.43,428.71 L335.12,428.70 L334.82,428.67 L334.54,428.62 L334.27,428.54 L334.01,428.43 L333.77,428.31 L333.55,428.16 L333.35,427.99 L333.17,427.80 L333.01,427.59 L332.86,427.36 L332.74,427.12 L332.65,426.85 L332.57,426.57 L332.52,426.27 L332.49,425.96 L332.48,425.64 L332.49,425.31 L332.53,424.97 L332.59,424.62 L332.67,424.26 L332.78,423.90 L332.90,423.53 L333.05,423.16 L333.22,422.79 L333.41,422.42 L333.61,422.06 L333.84,421.70 L334.08,421.34 L334.34,421.00 L334.61,420.66 L334.90,420.33 L335.20,420.01 L335.51,419.71 L335.83,419.42 L336.16,419.15 L336.50,418.90 L336.85,418.66 L337.20,418.44 L337.55,418.25 L337.90,418.07 L338.26,417.92 L338.61,417.79 L338.96,417.68 L339.31,417.59 L339.65,417.53 L339.98,417.50 L340.31,417.49 L340.62,417.50 L340.92,417.54 L341.22,417.60 L341.49,417.68 L341.75,417.79 L342.00,417.92 L342.23,418.08Z" fill="none" stroke="#000" stroke-width="1.35" stroke-linejoin="round"/>
<path d="M342.03,418.75 L342.19,418.92 L342.34,419.10 L342.47,419.31 L342.58,419.53 L342.67,419.76 L342.74,420.01 L342.79,420.27 L342.82,420.55 L342.82,420.83 L342.81,421.12 L342.78,421.42 L342.73,421.73 L342.65,422.04 L342.56,422.35 L342.45,422.67 L342.31,422.99 L342.16,423.31 L342.00,423.63 L341.81,423.94 L341.61,424.25 L341.39,424.56 L341.16,424.86 L340.92,425.15 L340.66,425.43 L340.39,425.70 L340.12,425.96 L339.83,426.21 L339.54,426.44 L339.24,426.66 L338.93,426.86 L338.62,427.05 L338.31,427.22 L338.00,427.37 L337.69,427.50 L337.38,427.62 L337.07,427.71 L336.77,427.79 L336.48,427.84 L336.19,427.88 L335.91,427.89 L335.64,427.88 L335.38,427.85 L335.13,427.81 L334.89,427.74 L334.67,427.65 L334.46,427.54 L334.27,427.41 L334.09,427.26 L333.93,427.10 L333.79,426.91 L333.67,426.71 L333.56,426.50 L333.48,426.27 L333.41,426.02 L333.36,425.76 L333.34,425.49 L333.33,425.21 L333.34,424.92 L333.38,424.62 L333.43,424.32 L333.50,424.00 L333.60,423.69 L333.71,423.37 L333.84,423.05 L333.99,422.73 L334.15,422.40 L334.33,422.09 L334.53,421.77 L334.74,421.46 L334.97,421.16 L335.21,420.86 L335.46,420.58 L335.72,420.30 L335.99,420.04 L336.28,419.79 L336.57,419.55 L336.86,419.33 L337.16,419.12 L337.47,418.93 L337.78,418.76 L338.09,418.61 L338.40,418.47 L338.70,418.36 L339.01,418.26 L339.31,418.19 L339.61,418.13 L339.90,418.10 L340.18,418.09 L340.46,418.10 L340.72,418.13 L340.97,418.18 L341.21,418.26 L341.44,418.35 L341.65,418.46 L341.85,418.60Z" fill="none" stroke="#000" stroke-width="1.35" stroke-linejoin="round"/>
<path d="M341.64,419.21 L341.79,419.36 L341.91,419.52 L342.02,419.70 L342.11,419.89 L342.19,420.09 L342.25,420.30 L342.29,420.53 L342.31,420.76 L342.32,421.01 L342.31,421.26 L342.28,421.52 L342.23,421.79 L342.17,422.06 L342.09,422.33 L341.99,422.60 L341.87,422.88 L341.74,423.16 L341.60,423.43 L341.44,423.71 L341.26,423.98 L341.08,424.24 L340.88,424.50 L340.66,424.75 L340.44,425.00 L340.21,425.23 L339.97,425.46 L339.72,425.67 L339.47,425.88 L339.21,426.07 L338.94,426.24 L338.68,426.41 L338.41,426.56 L338.14,426.69 L337.87,426.80 L337.60,426.90 L337.34,426.99 L337.08,427.05 L336.82,427.10 L336.57,427.13 L336.33,427.14 L336.09,427.14 L335.87,427.11 L335.65,427.07 L335.45,427.01 L335.25,426.93 L335.07,426.84 L334.91,426.73 L334.76,426.60 L334.62,426.46 L334.50,426.30 L334.39,426.13 L334.30,425.94 L334.23,425.74 L334.17,425.53 L334.13,425.30 L334.11,425.07 L334.10,424.83 L334.11,424.58 L334.14,424.32 L334.19,424.05 L334.26,423.78 L334.34,423.51 L334.43,423.23 L334.55,422.95 L334.68,422.68 L334.82,422.40 L334.98,422.12 L335.15,421.85 L335.33,421.58 L335.53,421.32 L335.74,421.06 L335.96,420.82 L336.19,420.58 L336.42,420.35 L336.67,420.13 L336.92,419.93 L337.18,419.73 L337.44,419.55 L337.70,419.39 L337.97,419.24 L338.24,419.11 L338.51,418.99 L338.77,418.89 L339.04,418.81 L339.30,418.74 L339.56,418.69 L339.81,418.66 L340.05,418.65 L340.29,418.66 L340.52,418.69 L340.73,418.73 L340.94,418.79 L341.14,418.87 L341.32,418.97 L341.49,419.08Z" fill="none" stroke="#000" stroke-width="1.35" stroke-linejoin="round"/>
<path d="M341.28,419.65 L341.40,419.77 L341.51,419.91 L341.60,420.06 L341.68,420.22 L341.74,420.39 L341.79,420.58 L341.83,420.77 L341.85,420.97 L341.85,421.18 L341.84,421.40 L341.82,421.62 L341.77,421.85 L341.72,422.08 L341.65,422.32 L341.56,422.55 L341.46,422.79 L341.35,423.03 L341.22,423.27 L341.09,423.50 L340.94,423.74 L340.77,423.96 L340.60,424.19 L340.42,424.41 L340.23,424.62 L340.03,424.82 L339.82,425.02 L339.61,425.20 L339.39,425.38 L339.17,425.54 L338.94,425.69 L338.71,425.84 L338.48,425.96 L338.25,426.08 L338.02,426.18 L337.79,426.27 L337.56,426.34 L337.34,426.40 L337.12,426.44 L336.90,426.46 L336.69,426.47 L336.49,426.47 L336.30,426.45 L336.11,426.42 L335.94,426.36 L335.77,426.30 L335.62,426.22 L335.47,426.12 L335.34,426.01 L335.23,425.89 L335.12,425.76 L335.03,425.61 L334.95,425.45 L334.89,425.27 L334.84,425.09 L334.81,424.90 L334.79,424.70 L334.79,424.49 L334.80,424.27 L334.82,424.05 L334.87,423.82 L334.92,423.59 L334.99,423.36 L335.08,423.12 L335.17,422.88 L335.29,422.64 L335.41,422.40 L335.55,422.17 L335.70,421.93 L335.86,421.70 L336.03,421.48 L336.21,421.26 L336.40,421.04 L336.59,420.84 L336.80,420.64 L337.01,420.45 L337.23,420.28 L337.45,420.11 L337.67,419.96 L337.90,419.81 L338.13,419.68 L338.36,419.57 L338.59,419.47 L338.82,419.38 L339.05,419.31 L339.27,419.25 L339.49,419.21 L339.71,419.18 L339.92,419.17 L340.12,419.18 L340.32,419.20 L340.50,419.24 L340.68,419.29 L340.85,419.36 L341.00,419.44 L341.15,419.54Z" fill="none" stroke="#000" stroke-width="1.35" stroke-linejoin="round"/>
<path d="M340.95,420.04 L341.05,420.14 L341.14,420.26 L341.22,420.39 L341.28,420.52 L341.34,420.67 L341.38,420.83 L341.41,420.99 L341.42,421.17 L341.43,421.34 L341.42,421.53 L341.39,421.72 L341.36,421.92 L341.31,422.11 L341.25,422.32 L341.17,422.52 L341.09,422.72 L340.99,422.93 L340.88,423.13 L340.76,423.33 L340.63,423.53 L340.49,423.73 L340.35,423.92 L340.19,424.11 L340.03,424.29 L339.86,424.47 L339.68,424.63 L339.50,424.79 L339.31,424.94 L339.12,425.09 L338.92,425.22 L338.73,425.34 L338.53,425.45 L338.33,425.55 L338.13,425.64 L337.94,425.71 L337.74,425.78 L337.55,425.82 L337.36,425.86 L337.18,425.89 L337.00,425.90 L336.83,425.89 L336.66,425.88 L336.50,425.85 L336.35,425.80 L336.21,425.75 L336.08,425.68 L335.96,425.60 L335.85,425.51 L335.75,425.40 L335.66,425.28 L335.58,425.16 L335.51,425.02 L335.46,424.87 L335.42,424.72 L335.39,424.55 L335.38,424.38 L335.38,424.20 L335.39,424.02 L335.41,423.83 L335.45,423.63 L335.50,423.44 L335.56,423.23 L335.63,423.03 L335.72,422.83 L335.81,422.62 L335.92,422.42 L336.04,422.21 L336.17,422.01 L336.30,421.82 L336.45,421.62 L336.61,421.43 L336.77,421.25 L336.94,421.08 L337.11,420.91 L337.30,420.75 L337.48,420.59 L337.67,420.45 L337.87,420.32 L338.06,420.20 L338.26,420.08 L338.46,419.99 L338.65,419.90 L338.85,419.82 L339.04,419.76 L339.24,419.71 L339.42,419.67 L339.61,419.65 L339.79,419.64 L339.96,419.64 L340.13,419.66 L340.29,419.69 L340.44,419.73 L340.58,419.79 L340.71,419.86 L340.83,419.94Z" fill="none" stroke="#000" stroke-width="1.35" stroke-linejoin="round"/>
<path d="M340.65,420.38 L340.74,420.47 L340.81,420.56 L340.88,420.67 L340.94,420.79 L340.98,420.92 L341.02,421.05 L341.04,421.19 L341.05,421.34 L341.05,421.49 L341.04,421.65 L341.02,421.81 L340.99,421.98 L340.95,422.15 L340.90,422.32 L340.83,422.50 L340.76,422.67 L340.67,422.85 L340.58,423.02 L340.48,423.20 L340.36,423.37 L340.25,423.54 L340.12,423.71 L339.98,423.87 L339.84,424.02 L339.70,424.17 L339.54,424.32 L339.39,424.46 L339.23,424.59 L339.06,424.71 L338.90,424.82 L338.73,424.93 L338.56,425.03 L338.39,425.11 L338.22,425.19 L338.05,425.25 L337.88,425.31 L337.72,425.35 L337.56,425.38 L337.40,425.41 L337.25,425.41 L337.10,425.41 L336.96,425.40 L336.82,425.37 L336.69,425.34 L336.57,425.29 L336.46,425.23 L336.36,425.16 L336.26,425.09 L336.17,425.00 L336.10,424.90 L336.03,424.79 L335.98,424.67 L335.93,424.55 L335.90,424.41 L335.87,424.27 L335.86,424.12 L335.86,423.97 L335.87,423.81 L335.89,423.65 L335.92,423.48 L335.97,423.31 L336.02,423.14 L336.08,422.97 L336.16,422.79 L336.24,422.61 L336.34,422.44 L336.44,422.26 L336.55,422.09 L336.67,421.92 L336.80,421.76 L336.93,421.59 L337.07,421.44 L337.22,421.29 L337.37,421.14 L337.52,421.00 L337.68,420.87 L337.85,420.75 L338.01,420.63 L338.18,420.53 L338.35,420.43 L338.52,420.35 L338.69,420.27 L338.86,420.20 L339.03,420.15 L339.19,420.11 L339.35,420.07 L339.51,420.05 L339.66,420.04 L339.81,420.04 L339.95,420.06 L340.09,420.08 L340.22,420.12 L340.34,420.17 L340.45,420.23 L340.56,420.30Z" fill="none" stroke="#000" stroke-width="1.35" stroke-linejoin="round"/>
<path d="M340.41,420.65 L340.49,420.72 L340.55,420.81 L340.61,420.90 L340.66,421.01 L340.70,421.11 L340.73,421.23 L340.75,421.35 L340.76,421.48 L340.76,421.61 L340.75,421.75 L340.73,421.89 L340.70,422.04 L340.66,422.19 L340.61,422.34 L340.56,422.49 L340.49,422.65 L340.42,422.80 L340.33,422.95 L340.24,423.10 L340.15,423.25 L340.04,423.40 L339.93,423.55 L339.81,423.69 L339.69,423.83 L339.56,423.96 L339.43,424.08 L339.29,424.21 L339.15,424.32 L339.01,424.43 L338.86,424.53 L338.71,424.62 L338.57,424.71 L338.42,424.78 L338.27,424.85 L338.12,424.91 L337.98,424.96 L337.83,424.99 L337.69,425.02 L337.56,425.04 L337.42,425.05 L337.30,425.05 L337.17,425.04 L337.05,425.02 L336.94,424.99 L336.84,424.95 L336.74,424.90 L336.65,424.84 L336.57,424.77 L336.49,424.69 L336.43,424.61 L336.37,424.51 L336.32,424.41 L336.28,424.30 L336.25,424.18 L336.24,424.06 L336.23,423.93 L336.23,423.80 L336.23,423.66 L336.25,423.52 L336.28,423.37 L336.32,423.23 L336.37,423.08 L336.42,422.92 L336.49,422.77 L336.56,422.62 L336.65,422.46 L336.74,422.31 L336.83,422.16 L336.94,422.01 L337.05,421.87 L337.17,421.73 L337.29,421.59 L337.42,421.46 L337.55,421.33 L337.69,421.21 L337.83,421.09 L337.97,420.98 L338.12,420.88 L338.26,420.79 L338.41,420.71 L338.56,420.63 L338.71,420.56 L338.86,420.51 L339.00,420.46 L339.14,420.42 L339.28,420.39 L339.42,420.37 L339.55,420.36 L339.68,420.36 L339.81,420.37 L339.92,420.39 L340.04,420.43 L340.14,420.47 L340.24,420.52 L340.33,420.58Z" fill="none" stroke="#000" stroke-width="1.35" stroke-linejoin="round"/>
<path d="M340.27,420.80 L340.34,420.87 L340.40,420.95 L340.45,421.03 L340.50,421.13 L340.53,421.23 L340.56,421.33 L340.58,421.45 L340.58,421.56 L340.58,421.69 L340.57,421.81 L340.56,421.94 L340.53,422.08 L340.49,422.22 L340.45,422.35 L340.40,422.49 L340.34,422.64 L340.27,422.78 L340.19,422.92 L340.11,423.06 L340.02,423.20 L339.92,423.33 L339.82,423.47 L339.71,423.60 L339.60,423.72 L339.48,423.85 L339.36,423.96 L339.23,424.07 L339.10,424.18 L338.97,424.28 L338.83,424.37 L338.70,424.46 L338.56,424.54 L338.43,424.61 L338.29,424.67 L338.16,424.72 L338.02,424.77 L337.89,424.80 L337.76,424.83 L337.64,424.85 L337.51,424.86 L337.39,424.86 L337.28,424.85 L337.17,424.83 L337.07,424.80 L336.97,424.76 L336.89,424.72 L336.80,424.66 L336.73,424.60 L336.66,424.53 L336.60,424.45 L336.55,424.37 L336.50,424.27 L336.47,424.17 L336.44,424.07 L336.42,423.95 L336.42,423.84 L336.42,423.71 L336.43,423.59 L336.44,423.46 L336.47,423.32 L336.51,423.18 L336.55,423.05 L336.60,422.91 L336.66,422.76 L336.73,422.62 L336.81,422.48 L336.89,422.34 L336.98,422.20 L337.08,422.07 L337.18,421.93 L337.29,421.80 L337.40,421.68 L337.52,421.55 L337.64,421.44 L337.77,421.33 L337.90,421.22 L338.03,421.12 L338.17,421.03 L338.30,420.94 L338.44,420.86 L338.57,420.79 L338.71,420.73 L338.84,420.68 L338.98,420.63 L339.11,420.60 L339.24,420.57 L339.36,420.55 L339.49,420.54 L339.61,420.54 L339.72,420.55 L339.83,420.57 L339.93,420.60 L340.03,420.64 L340.11,420.68 L340.20,420.74Z" fill="none" stroke="#000" stroke-width="1.35" stroke-linejoin="round"/>
<ellipse cx="338.50" cy="422.70" rx="2.2" ry="1.1" transform="rotate(-60 338.50 422.70)" fill="#fff"/>
<rect x="235.60" y="372.60" width="143.90" height="144.00" stroke="#000" stroke-width="1.55" fill="none"/>
<line x1="314.70" y1="372.60" x2="314.70" y2="516.60" stroke="#000" stroke-width="1.4" stroke-linecap="butt"/>
<line x1="235.60" y1="442.40" x2="379.20" y2="442.40" stroke="#000" stroke-width="1.4" stroke-linecap="butt"/>
<line x1="49.20" y1="382.20" x2="53.60" y2="382.20" stroke="#000" stroke-width="1.2" stroke-linecap="butt"/>
<text x="47.30" y="388.00" font-size="7.2" font-weight="bold" text-anchor="end">10<tspan font-size="5.9" dy="-5.6">5</tspan></text>
<line x1="49.20" y1="404.10" x2="53.60" y2="404.10" stroke="#000" stroke-width="1.2" stroke-linecap="butt"/>
<text x="47.30" y="409.90" font-size="7.2" font-weight="bold" text-anchor="end">10<tspan font-size="5.9" dy="-5.6">4</tspan></text>
<line x1="49.20" y1="426.30" x2="53.60" y2="426.30" stroke="#000" stroke-width="1.2" stroke-linecap="butt"/>
<text x="47.30" y="432.10" font-size="7.2" font-weight="bold" text-anchor="end">10<tspan font-size="5.9" dy="-5.6">3</tspan></text>
<line x1="49.20" y1="448.50" x2="53.60" y2="448.50" stroke="#000" stroke-width="1.2" stroke-linecap="butt"/>
<text x="47.30" y="454.30" font-size="7.2" font-weight="bold" text-anchor="end">10<tspan font-size="5.9" dy="-5.6">2</tspan></text>
<line x1="49.20" y1="470.70" x2="53.60" y2="470.70" stroke="#000" stroke-width="1.2" stroke-linecap="butt"/>
<text x="47.30" y="476.50" font-size="7.2" font-weight="bold" text-anchor="end">10<tspan font-size="5.9" dy="-5.6">1</tspan></text>
<line x1="49.20" y1="510.80" x2="53.60" y2="510.80" stroke="#000" stroke-width="1.2" stroke-linecap="butt"/>
<text x="44.30" y="513.40" font-size="7.2" font-weight="bold" text-anchor="end" fill="#000">0</text>
<line x1="51.40" y1="397.51" x2="53.60" y2="397.51" stroke="#000" stroke-width="0.8" stroke-linecap="butt"/>
<line x1="51.40" y1="393.65" x2="53.60" y2="393.65" stroke="#000" stroke-width="0.8" stroke-linecap="butt"/>
<line x1="51.40" y1="390.91" x2="53.60" y2="390.91" stroke="#000" stroke-width="0.8" stroke-linecap="butt"/>
<line x1="51.40" y1="388.79" x2="53.60" y2="388.79" stroke="#000" stroke-width="0.8" stroke-linecap="butt"/>
<line x1="51.40" y1="387.06" x2="53.60" y2="387.06" stroke="#000" stroke-width="0.8" stroke-linecap="butt"/>
<line x1="51.40" y1="385.59" x2="53.60" y2="385.59" stroke="#000" stroke-width="0.8" stroke-linecap="butt"/>
<line x1="51.40" y1="384.32" x2="53.60" y2="384.32" stroke="#000" stroke-width="0.8" stroke-linecap="butt"/>
<line x1="51.40" y1="383.20" x2="53.60" y2="383.20" stroke="#000" stroke-width="0.8" stroke-linecap="butt"/>
<line x1="51.40" y1="419.62" x2="53.60" y2="419.62" stroke="#000" stroke-width="0.8" stroke-linecap="butt"/>
<line x1="51.40" y1="415.71" x2="53.60" y2="415.71" stroke="#000" stroke-width="0.8" stroke-linecap="butt"/>
<line x1="51.40" y1="412.93" x2="53.60" y2="412.93" stroke="#000" stroke-width="0.8" stroke-linecap="butt"/>
<line x1="51.40" y1="410.78" x2="53.60" y2="410.78" stroke="#000" stroke-width="0.8" stroke-linecap="butt"/>
<line x1="51.40" y1="409.03" x2="53.60" y2="409.03" stroke="#000" stroke-width="0.8" stroke-linecap="butt"/>
<line x1="51.40" y1="407.54" x2="53.60" y2="407.54" stroke="#000" stroke-width="0.8" stroke-linecap="butt"/>
<line x1="51.40" y1="406.25" x2="53.60" y2="406.25" stroke="#000" stroke-width="0.8" stroke-linecap="butt"/>
<line x1="51.40" y1="405.12" x2="53.60" y2="405.12" stroke="#000" stroke-width="0.8" stroke-linecap="butt"/>
<line x1="51.40" y1="441.82" x2="53.60" y2="441.82" stroke="#000" stroke-width="0.8" stroke-linecap="butt"/>
<line x1="51.40" y1="437.91" x2="53.60" y2="437.91" stroke="#000" stroke-width="0.8" stroke-linecap="butt"/>
<line x1="51.40" y1="435.13" x2="53.60" y2="435.13" stroke="#000" stroke-width="0.8" stroke-linecap="butt"/>
<line x1="51.40" y1="432.98" x2="53.60" y2="432.98" stroke="#000" stroke-width="0.8" stroke-linecap="butt"/>
<line x1="51.40" y1="431.23" x2="53.60" y2="431.23" stroke="#000" stroke-width="0.8" stroke-linecap="butt"/>
<line x1="51.40" y1="429.74" x2="53.60" y2="429.74" stroke="#000" stroke-width="0.8" stroke-linecap="butt"/>
<line x1="51.40" y1="428.45" x2="53.60" y2="428.45" stroke="#000" stroke-width="0.8" stroke-linecap="butt"/>
<line x1="51.40" y1="427.32" x2="53.60" y2="427.32" stroke="#000" stroke-width="0.8" stroke-linecap="butt"/>
<line x1="51.40" y1="464.02" x2="53.60" y2="464.02" stroke="#000" stroke-width="0.8" stroke-linecap="butt"/>
<line x1="51.40" y1="460.11" x2="53.60" y2="460.11" stroke="#000" stroke-width="0.8" stroke-linecap="butt"/>
<line x1="51.40" y1="457.33" x2="53.60" y2="457.33" stroke="#000" stroke-width="0.8" stroke-linecap="butt"/>
<line x1="51.40" y1="455.18" x2="53.60" y2="455.18" stroke="#000" stroke-width="0.8" stroke-linecap="butt"/>
<line x1="51.40" y1="453.43" x2="53.60" y2="453.43" stroke="#000" stroke-width="0.8" stroke-linecap="butt"/>
<line x1="51.40" y1="451.94" x2="53.60" y2="451.94" stroke="#000" stroke-width="0.8" stroke-linecap="butt"/>
<line x1="51.40" y1="450.65" x2="53.60" y2="450.65" stroke="#000" stroke-width="0.8" stroke-linecap="butt"/>
<line x1="51.40" y1="449.52" x2="53.60" y2="449.52" stroke="#000" stroke-width="0.8" stroke-linecap="butt"/>
<line x1="51.40" y1="478.72" x2="53.60" y2="478.72" stroke="#000" stroke-width="0.8" stroke-linecap="butt"/>
<line x1="51.40" y1="483.53" x2="53.60" y2="483.53" stroke="#000" stroke-width="0.8" stroke-linecap="butt"/>
<line x1="51.40" y1="487.54" x2="53.60" y2="487.54" stroke="#000" stroke-width="0.8" stroke-linecap="butt"/>
<line x1="51.40" y1="494.76" x2="53.60" y2="494.76" stroke="#000" stroke-width="0.8" stroke-linecap="butt"/>
<text x="26.80" y="441.00" font-size="7.5" font-weight="bold" text-anchor="middle" fill="#000" transform="rotate(-90 26.80 441.00)">Comp-APC-A</text>
<text x="126.40" y="543.80" font-size="7.5" font-weight="bold" text-anchor="middle" fill="#000">Comp-BV650-A</text>
<text x="59.80" y="531.30" font-size="7.2" font-weight="bold" text-anchor="start" fill="#000">0</text>
<text x="95.00" y="531.3" font-size="7.2" font-weight="bold">10<tspan font-size="5.4" dy="-5.2">1</tspan></text>
<text x="117.60" y="531.3" font-size="7.2" font-weight="bold">10<tspan font-size="5.4" dy="-5.2">2</tspan></text>
<text x="140.20" y="531.3" font-size="7.2" font-weight="bold">10<tspan font-size="5.4" dy="-5.2">3</tspan></text>
<text x="185.40" y="531.3" font-size="7.2" font-weight="bold">10<tspan font-size="5.4" dy="-5.2">5</tspan></text>
<line x1="59.30" y1="516.30" x2="59.30" y2="520.10" stroke="#000" stroke-width="1.2" stroke-linecap="butt"/>
<line x1="95.30" y1="516.30" x2="95.30" y2="520.10" stroke="#000" stroke-width="1.2" stroke-linecap="butt"/>
<line x1="117.90" y1="516.30" x2="117.90" y2="520.10" stroke="#000" stroke-width="1.2" stroke-linecap="butt"/>
<line x1="140.50" y1="516.30" x2="140.50" y2="520.10" stroke="#000" stroke-width="1.2" stroke-linecap="butt"/>
<line x1="163.10" y1="516.30" x2="163.10" y2="520.10" stroke="#000" stroke-width="1.2" stroke-linecap="butt"/>
<line x1="185.70" y1="516.30" x2="185.70" y2="520.10" stroke="#000" stroke-width="1.2" stroke-linecap="butt"/>
<line x1="102.10" y1="516.30" x2="102.10" y2="518.50" stroke="#000" stroke-width="0.8" stroke-linecap="butt"/>
<line x1="106.08" y1="516.30" x2="106.08" y2="518.50" stroke="#000" stroke-width="0.8" stroke-linecap="butt"/>
<line x1="108.91" y1="516.30" x2="108.91" y2="518.50" stroke="#000" stroke-width="0.8" stroke-linecap="butt"/>
<line x1="111.10" y1="516.30" x2="111.10" y2="518.50" stroke="#000" stroke-width="0.8" stroke-linecap="butt"/>
<line x1="112.89" y1="516.30" x2="112.89" y2="518.50" stroke="#000" stroke-width="0.8" stroke-linecap="butt"/>
<line x1="114.40" y1="516.30" x2="114.40" y2="518.50" stroke="#000" stroke-width="0.8" stroke-linecap="butt"/>
<line x1="115.71" y1="516.30" x2="115.71" y2="518.50" stroke="#000" stroke-width="0.8" stroke-linecap="butt"/>
<line x1="116.87" y1="516.30" x2="116.87" y2="518.50" stroke="#000" stroke-width="0.8" stroke-linecap="butt"/>
<line x1="124.70" y1="516.30" x2="124.70" y2="518.50" stroke="#000" stroke-width="0.8" stroke-linecap="butt"/>
<line x1="128.68" y1="516.30" x2="128.68" y2="518.50" stroke="#000" stroke-width="0.8" stroke-linecap="butt"/>
<line x1="131.51" y1="516.30" x2="131.51" y2="518.50" stroke="#000" stroke-width="0.8" stroke-linecap="butt"/>
<line x1="133.70" y1="516.30" x2="133.70" y2="518.50" stroke="#000" stroke-width="0.8" stroke-linecap="butt"/>
<line x1="135.49" y1="516.30" x2="135.49" y2="518.50" stroke="#000" stroke-width="0.8" stroke-linecap="butt"/>
<line x1="137.00" y1="516.30" x2="137.00" y2="518.50" stroke="#000" stroke-width="0.8" stroke-linecap="butt"/>
<line x1="138.31" y1="516.30" x2="138.31" y2="518.50" stroke="#000" stroke-width="0.8" stroke-linecap="butt"/>
<line x1="139.47" y1="516.30" x2="139.47" y2="518.50" stroke="#000" stroke-width="0.8" stroke-linecap="butt"/>
<line x1="147.30" y1="516.30" x2="147.30" y2="518.50" stroke="#000" stroke-width="0.8" stroke-linecap="butt"/>
<line x1="151.28" y1="516.30" x2="151.28" y2="518.50" stroke="#000" stroke-width="0.8" stroke-linecap="butt"/>
<line x1="154.11" y1="516.30" x2="154.11" y2="518.50" stroke="#000" stroke-width="0.8" stroke-linecap="butt"/>
<line x1="156.30" y1="516.30" x2="156.30" y2="518.50" stroke="#000" stroke-width="0.8" stroke-linecap="butt"/>
<line x1="158.09" y1="516.30" x2="158.09" y2="518.50" stroke="#000" stroke-width="0.8" stroke-linecap="butt"/>
<line x1="159.60" y1="516.30" x2="159.60" y2="518.50" stroke="#000" stroke-width="0.8" stroke-linecap="butt"/>
<line x1="160.91" y1="516.30" x2="160.91" y2="518.50" stroke="#000" stroke-width="0.8" stroke-linecap="butt"/>
<line x1="162.07" y1="516.30" x2="162.07" y2="518.50" stroke="#000" stroke-width="0.8" stroke-linecap="butt"/>
<line x1="169.90" y1="516.30" x2="169.90" y2="518.50" stroke="#000" stroke-width="0.8" stroke-linecap="butt"/>
<line x1="173.88" y1="516.30" x2="173.88" y2="518.50" stroke="#000" stroke-width="0.8" stroke-linecap="butt"/>
<line x1="176.71" y1="516.30" x2="176.71" y2="518.50" stroke="#000" stroke-width="0.8" stroke-linecap="butt"/>
<line x1="178.90" y1="516.30" x2="178.90" y2="518.50" stroke="#000" stroke-width="0.8" stroke-linecap="butt"/>
<line x1="180.69" y1="516.30" x2="180.69" y2="518.50" stroke="#000" stroke-width="0.8" stroke-linecap="butt"/>
<line x1="182.20" y1="516.30" x2="182.20" y2="518.50" stroke="#000" stroke-width="0.8" stroke-linecap="butt"/>
<line x1="183.51" y1="516.30" x2="183.51" y2="518.50" stroke="#000" stroke-width="0.8" stroke-linecap="butt"/>
<line x1="184.67" y1="516.30" x2="184.67" y2="518.50" stroke="#000" stroke-width="0.8" stroke-linecap="butt"/>
<line x1="65.30" y1="516.30" x2="65.30" y2="518.50" stroke="#000" stroke-width="0.8" stroke-linecap="butt"/>
<line x1="71.30" y1="516.30" x2="71.30" y2="518.50" stroke="#000" stroke-width="0.8" stroke-linecap="butt"/>
<line x1="77.30" y1="516.30" x2="77.30" y2="518.50" stroke="#000" stroke-width="0.8" stroke-linecap="butt"/>
<line x1="83.30" y1="516.30" x2="83.30" y2="518.50" stroke="#000" stroke-width="0.8" stroke-linecap="butt"/>
<line x1="89.30" y1="516.30" x2="89.30" y2="518.50" stroke="#000" stroke-width="0.8" stroke-linecap="butt"/>
<line x1="231.20" y1="382.20" x2="235.60" y2="382.20" stroke="#000" stroke-width="1.2" stroke-linecap="butt"/>
<text x="229.30" y="388.00" font-size="7.2" font-weight="bold" text-anchor="end">10<tspan font-size="5.9" dy="-5.6">5</tspan></text>
<line x1="231.20" y1="404.10" x2="235.60" y2="404.10" stroke="#000" stroke-width="1.2" stroke-linecap="butt"/>
<text x="229.30" y="409.90" font-size="7.2" font-weight="bold" text-anchor="end">10<tspan font-size="5.9" dy="-5.6">4</tspan></text>
<line x1="231.20" y1="426.30" x2="235.60" y2="426.30" stroke="#000" stroke-width="1.2" stroke-linecap="butt"/>
<text x="229.30" y="432.10" font-size="7.2" font-weight="bold" text-anchor="end">10<tspan font-size="5.9" dy="-5.6">3</tspan></text>
<line x1="231.20" y1="448.50" x2="235.60" y2="448.50" stroke="#000" stroke-width="1.2" stroke-linecap="butt"/>
<text x="229.30" y="454.30" font-size="7.2" font-weight="bold" text-anchor="end">10<tspan font-size="5.9" dy="-5.6">2</tspan></text>
<line x1="231.20" y1="470.70" x2="235.60" y2="470.70" stroke="#000" stroke-width="1.2" stroke-linecap="butt"/>
<text x="229.30" y="476.50" font-size="7.2" font-weight="bold" text-anchor="end">10<tspan font-size="5.9" dy="-5.6">1</tspan></text>
<line x1="231.20" y1="511.10" x2="235.60" y2="511.10" stroke="#000" stroke-width="1.2" stroke-linecap="butt"/>
<text x="226.30" y="513.70" font-size="7.2" font-weight="bold" text-anchor="end" fill="#000">0</text>
<line x1="233.40" y1="397.51" x2="235.60" y2="397.51" stroke="#000" stroke-width="0.8" stroke-linecap="butt"/>
<line x1="233.40" y1="393.65" x2="235.60" y2="393.65" stroke="#000" stroke-width="0.8" stroke-linecap="butt"/>
<line x1="233.40" y1="390.91" x2="235.60" y2="390.91" stroke="#000" stroke-width="0.8" stroke-linecap="butt"/>
<line x1="233.40" y1="388.79" x2="235.60" y2="388.79" stroke="#000" stroke-width="0.8" stroke-linecap="butt"/>
<line x1="233.40" y1="387.06" x2="235.60" y2="387.06" stroke="#000" stroke-width="0.8" stroke-linecap="butt"/>
<line x1="233.40" y1="385.59" x2="235.60" y2="385.59" stroke="#000" stroke-width="0.8" stroke-linecap="butt"/>
<line x1="233.40" y1="384.32" x2="235.60" y2="384.32" stroke="#000" stroke-width="0.8" stroke-linecap="butt"/>
<line x1="233.40" y1="383.20" x2="235.60" y2="383.20" stroke="#000" stroke-width="0.8" stroke-linecap="butt"/>
<line x1="233.40" y1="419.62" x2="235.60" y2="419.62" stroke="#000" stroke-width="0.8" stroke-linecap="butt"/>
<line x1="233.40" y1="415.71" x2="235.60" y2="415.71" stroke="#000" stroke-width="0.8" stroke-linecap="butt"/>
<line x1="233.40" y1="412.93" x2="235.60" y2="412.93" stroke="#000" stroke-width="0.8" stroke-linecap="butt"/>
<line x1="233.40" y1="410.78" x2="235.60" y2="410.78" stroke="#000" stroke-width="0.8" stroke-linecap="butt"/>
<line x1="233.40" y1="409.03" x2="235.60" y2="409.03" stroke="#000" stroke-width="0.8" stroke-linecap="butt"/>
<line x1="233.40" y1="407.54" x2="235.60" y2="407.54" stroke="#000" stroke-width="0.8" stroke-linecap="butt"/>
<line x1="233.40" y1="406.25" x2="235.60" y2="406.25" stroke="#000" stroke-width="0.8" stroke-linecap="butt"/>
<line x1="233.40" y1="405.12" x2="235.60" y2="405.12" stroke="#000" stroke-width="0.8" stroke-linecap="butt"/>
<line x1="233.40" y1="441.82" x2="235.60" y2="441.82" stroke="#000" stroke-width="0.8" stroke-linecap="butt"/>
<line x1="233.40" y1="437.91" x2="235.60" y2="437.91" stroke="#000" stroke-width="0.8" stroke-linecap="butt"/>
<line x1="233.40" y1="435.13" x2="235.60" y2="435.13" stroke="#000" stroke-width="0.8" stroke-linecap="butt"/>
<line x1="233.40" y1="432.98" x2="235.60" y2="432.98" stroke="#000" stroke-width="0.8" stroke-linecap="butt"/>
<line x1="233.40" y1="431.23" x2="235.60" y2="431.23" stroke="#000" stroke-width="0.8" stroke-linecap="butt"/>
<line x1="233.40" y1="429.74" x2="235.60" y2="429.74" stroke="#000" stroke-width="0.8" stroke-linecap="butt"/>
<line x1="233.40" y1="428.45" x2="235.60" y2="428.45" stroke="#000" stroke-width="0.8" stroke-linecap="butt"/>
<line x1="233.40" y1="427.32" x2="235.60" y2="427.32" stroke="#000" stroke-width="0.8" stroke-linecap="butt"/>
<line x1="233.40" y1="464.02" x2="235.60" y2="464.02" stroke="#000" stroke-width="0.8" stroke-linecap="butt"/>
<line x1="233.40" y1="460.11" x2="235.60" y2="460.11" stroke="#000" stroke-width="0.8" stroke-linecap="butt"/>
<line x1="233.40" y1="457.33" x2="235.60" y2="457.33" stroke="#000" stroke-width="0.8" stroke-linecap="butt"/>
<line x1="233.40" y1="455.18" x2="235.60" y2="455.18" stroke="#000" stroke-width="0.8" stroke-linecap="butt"/>
<line x1="233.40" y1="453.43" x2="235.60" y2="453.43" stroke="#000" stroke-width="0.8" stroke-linecap="butt"/>
<line x1="233.40" y1="451.94" x2="235.60" y2="451.94" stroke="#000" stroke-width="0.8" stroke-linecap="butt"/>
<line x1="233.40" y1="450.65" x2="235.60" y2="450.65" stroke="#000" stroke-width="0.8" stroke-linecap="butt"/>
<line x1="233.40" y1="449.52" x2="235.60" y2="449.52" stroke="#000" stroke-width="0.8" stroke-linecap="butt"/>
<line x1="233.40" y1="478.78" x2="235.60" y2="478.78" stroke="#000" stroke-width="0.8" stroke-linecap="butt"/>
<line x1="233.40" y1="483.63" x2="235.60" y2="483.63" stroke="#000" stroke-width="0.8" stroke-linecap="butt"/>
<line x1="233.40" y1="487.67" x2="235.60" y2="487.67" stroke="#000" stroke-width="0.8" stroke-linecap="butt"/>
<line x1="233.40" y1="494.94" x2="235.60" y2="494.94" stroke="#000" stroke-width="0.8" stroke-linecap="butt"/>
<text x="208.80" y="441.00" font-size="7.5" font-weight="bold" text-anchor="middle" fill="#000" transform="rotate(-90 208.80 441.00)">Comp-APC-A</text>
<text x="308.20" y="543.80" font-size="7.5" font-weight="bold" text-anchor="middle" fill="#000">Comp-BV650-A</text>
<text x="241.80" y="531.30" font-size="7.2" font-weight="bold" text-anchor="start" fill="#000">0</text>
<text x="277.00" y="531.3" font-size="7.2" font-weight="bold">10<tspan font-size="5.4" dy="-5.2">1</tspan></text>
<text x="299.60" y="531.3" font-size="7.2" font-weight="bold">10<tspan font-size="5.4" dy="-5.2">2</tspan></text>
<text x="322.20" y="531.3" font-size="7.2" font-weight="bold">10<tspan font-size="5.4" dy="-5.2">3</tspan></text>
<text x="367.40" y="531.3" font-size="7.2" font-weight="bold">10<tspan font-size="5.4" dy="-5.2">5</tspan></text>
<line x1="241.30" y1="516.60" x2="241.30" y2="520.40" stroke="#000" stroke-width="1.2" stroke-linecap="butt"/>
<line x1="277.30" y1="516.60" x2="277.30" y2="520.40" stroke="#000" stroke-width="1.2" stroke-linecap="butt"/>
<line x1="299.90" y1="516.60" x2="299.90" y2="520.40" stroke="#000" stroke-width="1.2" stroke-linecap="butt"/>
<line x1="322.50" y1="516.60" x2="322.50" y2="520.40" stroke="#000" stroke-width="1.2" stroke-linecap="butt"/>
<line x1="345.10" y1="516.60" x2="345.10" y2="520.40" stroke="#000" stroke-width="1.2" stroke-linecap="butt"/>
<line x1="367.70" y1="516.60" x2="367.70" y2="520.40" stroke="#000" stroke-width="1.2" stroke-linecap="butt"/>
<line x1="284.10" y1="516.60" x2="284.10" y2="518.80" stroke="#000" stroke-width="0.8" stroke-linecap="butt"/>
<line x1="288.08" y1="516.60" x2="288.08" y2="518.80" stroke="#000" stroke-width="0.8" stroke-linecap="butt"/>
<line x1="290.91" y1="516.60" x2="290.91" y2="518.80" stroke="#000" stroke-width="0.8" stroke-linecap="butt"/>
<line x1="293.10" y1="516.60" x2="293.10" y2="518.80" stroke="#000" stroke-width="0.8" stroke-linecap="butt"/>
<line x1="294.89" y1="516.60" x2="294.89" y2="518.80" stroke="#000" stroke-width="0.8" stroke-linecap="butt"/>
<line x1="296.40" y1="516.60" x2="296.40" y2="518.80" stroke="#000" stroke-width="0.8" stroke-linecap="butt"/>
<line x1="297.71" y1="516.60" x2="297.71" y2="518.80" stroke="#000" stroke-width="0.8" stroke-linecap="butt"/>
<line x1="298.87" y1="516.60" x2="298.87" y2="518.80" stroke="#000" stroke-width="0.8" stroke-linecap="butt"/>
<line x1="306.70" y1="516.60" x2="306.70" y2="518.80" stroke="#000" stroke-width="0.8" stroke-linecap="butt"/>
<line x1="310.68" y1="516.60" x2="310.68" y2="518.80" stroke="#000" stroke-width="0.8" stroke-linecap="butt"/>
<line x1="313.51" y1="516.60" x2="313.51" y2="518.80" stroke="#000" stroke-width="0.8" stroke-linecap="butt"/>
<line x1="315.70" y1="516.60" x2="315.70" y2="518.80" stroke="#000" stroke-width="0.8" stroke-linecap="butt"/>
<line x1="317.49" y1="516.60" x2="317.49" y2="518.80" stroke="#000" stroke-width="0.8" stroke-linecap="butt"/>
<line x1="319.00" y1="516.60" x2="319.00" y2="518.80" stroke="#000" stroke-width="0.8" stroke-linecap="butt"/>
<line x1="320.31" y1="516.60" x2="320.31" y2="518.80" stroke="#000" stroke-width="0.8" stroke-linecap="butt"/>
<line x1="321.47" y1="516.60" x2="321.47" y2="518.80" stroke="#000" stroke-width="0.8" stroke-linecap="butt"/>
<line x1="329.30" y1="516.60" x2="329.30" y2="518.80" stroke="#000" stroke-width="0.8" stroke-linecap="butt"/>
<line x1="333.28" y1="516.60" x2="333.28" y2="518.80" stroke="#000" stroke-width="0.8" stroke-linecap="butt"/>
<line x1="336.11" y1="516.60" x2="336.11" y2="518.80" stroke="#000" stroke-width="0.8" stroke-linecap="butt"/>
<line x1="338.30" y1="516.60" x2="338.30" y2="518.80" stroke="#000" stroke-width="0.8" stroke-linecap="butt"/>
<line x1="340.09" y1="516.60" x2="340.09" y2="518.80" stroke="#000" stroke-width="0.8" stroke-linecap="butt"/>
<line x1="341.60" y1="516.60" x2="341.60" y2="518.80" stroke="#000" stroke-width="0.8" stroke-linecap="butt"/>
<line x1="342.91" y1="516.60" x2="342.91" y2="518.80" stroke="#000" stroke-width="0.8" stroke-linecap="butt"/>
<line x1="344.07" y1="516.60" x2="344.07" y2="518.80" stroke="#000" stroke-width="0.8" stroke-linecap="butt"/>
<line x1="351.90" y1="516.60" x2="351.90" y2="518.80" stroke="#000" stroke-width="0.8" stroke-linecap="butt"/>
<line x1="355.88" y1="516.60" x2="355.88" y2="518.80" stroke="#000" stroke-width="0.8" stroke-linecap="butt"/>
<line x1="358.71" y1="516.60" x2="358.71" y2="518.80" stroke="#000" stroke-width="0.8" stroke-linecap="butt"/>
<line x1="360.90" y1="516.60" x2="360.90" y2="518.80" stroke="#000" stroke-width="0.8" stroke-linecap="butt"/>
<line x1="362.69" y1="516.60" x2="362.69" y2="518.80" stroke="#000" stroke-width="0.8" stroke-linecap="butt"/>
<line x1="364.20" y1="516.60" x2="364.20" y2="518.80" stroke="#000" stroke-width="0.8" stroke-linecap="butt"/>
<line x1="365.51" y1="516.60" x2="365.51" y2="518.80" stroke="#000" stroke-width="0.8" stroke-linecap="butt"/>
<line x1="366.67" y1="516.60" x2="366.67" y2="518.80" stroke="#000" stroke-width="0.8" stroke-linecap="butt"/>
<line x1="247.30" y1="516.60" x2="247.30" y2="518.80" stroke="#000" stroke-width="0.8" stroke-linecap="butt"/>
<line x1="253.30" y1="516.60" x2="253.30" y2="518.80" stroke="#000" stroke-width="0.8" stroke-linecap="butt"/>
<line x1="259.30" y1="516.60" x2="259.30" y2="518.80" stroke="#000" stroke-width="0.8" stroke-linecap="butt"/>
<line x1="265.30" y1="516.60" x2="265.30" y2="518.80" stroke="#000" stroke-width="0.8" stroke-linecap="butt"/>
<line x1="271.30" y1="516.60" x2="271.30" y2="518.80" stroke="#000" stroke-width="0.8" stroke-linecap="butt"/>
<text x="56.00" y="384.30" font-size="6.9" font-weight="normal" text-anchor="start" fill="#000" stroke="#000" stroke-width="0.3">Q1</text>
<text x="56.00" y="392.70" font-size="6.9" font-weight="normal" text-anchor="start" fill="#000" stroke="#000" stroke-width="0.3">3.31</text>
<text x="185.60" y="384.30" font-size="6.9" font-weight="normal" text-anchor="end" fill="#000" stroke="#000" stroke-width="0.3">Q2</text>
<text x="185.60" y="392.70" font-size="6.9" font-weight="normal" text-anchor="end" fill="#000" stroke="#000" stroke-width="0.3">84.9</text>
<text x="56.00" y="500.80" font-size="6.9" font-weight="normal" text-anchor="start" fill="#000" stroke="#000" stroke-width="0.3">Q4</text>
<text x="56.00" y="509.20" font-size="6.9" font-weight="normal" text-anchor="start" fill="#000" stroke="#000" stroke-width="0.3">4.87</text>
<text x="185.60" y="500.80" font-size="6.9" font-weight="normal" text-anchor="end" fill="#000" stroke="#000" stroke-width="0.3">Q3</text>
<text x="185.60" y="509.20" font-size="6.9" font-weight="normal" text-anchor="end" fill="#000" stroke="#000" stroke-width="0.3">6.88</text>
<text x="238.00" y="384.30" font-size="6.9" font-weight="normal" text-anchor="start" fill="#000" stroke="#000" stroke-width="0.3">Q1</text>
<text x="238.00" y="392.70" font-size="6.9" font-weight="normal" text-anchor="start" fill="#000" stroke="#000" stroke-width="0.3">2.84</text>
<text x="367.70" y="384.30" font-size="6.9" font-weight="normal" text-anchor="end" fill="#000" stroke="#000" stroke-width="0.3">Q2</text>
<text x="367.70" y="392.70" font-size="6.9" font-weight="normal" text-anchor="end" fill="#000" stroke="#000" stroke-width="0.3">85.0</text>
<text x="238.00" y="500.80" font-size="6.9" font-weight="normal" text-anchor="start" fill="#000" stroke="#000" stroke-width="0.3">Q4</text>
<text x="238.00" y="509.20" font-size="6.9" font-weight="normal" text-anchor="start" fill="#000" stroke="#000" stroke-width="0.3">4.64</text>
<text x="367.70" y="500.80" font-size="6.9" font-weight="normal" text-anchor="end" fill="#000" stroke="#000" stroke-width="0.3">Q3</text>
<text x="367.70" y="509.20" font-size="6.9" font-weight="normal" text-anchor="end" fill="#000" stroke="#000" stroke-width="0.3">7.57</text>
<text x="459.4" y="380.2" font-size="8.5" font-weight="bold">SiglecF<tspan font-size="6" dy="-3.2">+</tspan><tspan dy="3.2">CD11c</tspan><tspan font-size="6" dy="-3.2">+</tspan></text>
<line x1="441.30" y1="393.60" x2="441.30" y2="513.40" stroke="#000" stroke-width="1.6" stroke-linecap="butt"/>
<line x1="434.30" y1="395.70" x2="441.30" y2="395.70" stroke="#000" stroke-width="1.6" stroke-linecap="butt"/>
<text x="432.00" y="398.58" font-size="8" font-weight="bold" text-anchor="end" fill="#000">90</text>
<line x1="434.30" y1="424.90" x2="441.30" y2="424.90" stroke="#000" stroke-width="1.6" stroke-linecap="butt"/>
<text x="432.00" y="427.78" font-size="8" font-weight="bold" text-anchor="end" fill="#000">85</text>
<line x1="434.30" y1="454.10" x2="441.30" y2="454.10" stroke="#000" stroke-width="1.6" stroke-linecap="butt"/>
<text x="432.00" y="456.98" font-size="8" font-weight="bold" text-anchor="end" fill="#000">80</text>
<line x1="434.30" y1="483.90" x2="441.30" y2="483.90" stroke="#000" stroke-width="1.6" stroke-linecap="butt"/>
<text x="432.00" y="486.78" font-size="8" font-weight="bold" text-anchor="end" fill="#000">75</text>
<line x1="434.30" y1="513.40" x2="441.30" y2="513.40" stroke="#000" stroke-width="1.6" stroke-linecap="butt"/>
<text x="432.00" y="516.28" font-size="8" font-weight="bold" text-anchor="end" fill="#000">70</text>
<line x1="434.00" y1="513.40" x2="542.60" y2="513.40" stroke="#000" stroke-width="1.6" stroke-linecap="butt"/>
<line x1="469.60" y1="513.40" x2="469.60" y2="520.40" stroke="#000" stroke-width="1.6" stroke-linecap="butt"/>
<line x1="513.40" y1="513.40" x2="513.40" y2="520.40" stroke="#000" stroke-width="1.6" stroke-linecap="butt"/>
<path d="M456.15,513.40 V428.65 H482.95 V513.40" stroke="#000" stroke-width="1.7" fill="none"/>
<line x1="469.55" y1="422.50" x2="469.55" y2="432.00" stroke="#000" stroke-width="1.3" stroke-linecap="butt"/>
<line x1="465.35" y1="422.50" x2="473.75" y2="422.50" stroke="#000" stroke-width="1.3" stroke-linecap="butt"/>
<line x1="465.35" y1="432.00" x2="473.75" y2="432.00" stroke="#000" stroke-width="1.3" stroke-linecap="butt"/>
<circle cx="469.55" cy="420.00" r="1.90" fill="#fff" stroke="#000" stroke-width="1.4"/>
<circle cx="469.55" cy="424.00" r="1.90" fill="#fff" stroke="#000" stroke-width="1.4"/>
<circle cx="469.55" cy="434.50" r="1.90" fill="#fff" stroke="#000" stroke-width="1.4"/>
<path d="M499.95,513.40 V422.85 H526.05 V513.40" stroke="#ff8080" stroke-width="1.7" fill="none"/>
<rect x="507.60" y="418.10" width="3.80" height="3.80" fill="#fff" stroke="#ff8080" stroke-width="1.5"/>
<rect x="514.60" y="418.10" width="3.80" height="3.80" fill="#fff" stroke="#ff8080" stroke-width="1.5"/>
<rect x="511.10" y="422.10" width="3.80" height="3.80" fill="#fff" stroke="#ff8080" stroke-width="1.5"/>
<line x1="469.60" y1="409.70" x2="513.40" y2="409.70" stroke="#000" stroke-width="2.4" stroke-linecap="butt"/>
<text x="471.10" y="402.40" font-size="8.3" font-weight="normal" text-anchor="start" fill="#000" stroke="#000" stroke-width="0.35" font-style="italic">P = 0.2739</text>
<text x="417.52" y="454.10" font-size="8.4" font-weight="bold" text-anchor="middle" fill="#000" transform="rotate(-90 417.52 454.10)">Percentage (%)</text>
<text x="474.00" y="527.00" font-size="8.5" font-weight="bold" text-anchor="end" fill="#000" transform="rotate(-45 474.00 527.00)">siNC</text>
<text x="517.50" y="527.00" font-size="8.5" font-weight="bold" text-anchor="end" fill="#000" transform="rotate(-45 517.50 527.00)">siPhgdh</text>
<rect x="558.90" y="379.60" width="13.00" height="5.40" stroke="#000" stroke-width="1.9" fill="none"/>
<text x="577.70" y="384.00" font-size="7.8" font-weight="bold" text-anchor="start" fill="#000">si<tspan font-style="italic">NC</tspan></text>
<rect x="558.90" y="391.90" width="13.00" height="5.40" stroke="#ff8080" stroke-width="1.9" fill="none"/>
<text x="577.70" y="398.00" font-size="7.8" font-weight="bold" text-anchor="start" fill="#000">si<tspan font-style="italic">Phgdh</tspan></text>
<rect x="53.40" y="554.60" width="143.70" height="143.20" stroke="#000" stroke-width="1.3" fill="none"/>
<line x1="49.90" y1="582.20" x2="53.40" y2="582.20" stroke="#000" stroke-width="1.2" stroke-linecap="butt"/>
<text x="47.90" y="584.80" font-size="7.2" font-weight="bold" text-anchor="end" fill="#000">200</text>
<line x1="49.90" y1="611.20" x2="53.40" y2="611.20" stroke="#000" stroke-width="1.2" stroke-linecap="butt"/>
<text x="47.90" y="613.80" font-size="7.2" font-weight="bold" text-anchor="end" fill="#000">150</text>
<line x1="49.90" y1="640.00" x2="53.40" y2="640.00" stroke="#000" stroke-width="1.2" stroke-linecap="butt"/>
<text x="47.90" y="642.60" font-size="7.2" font-weight="bold" text-anchor="end" fill="#000">100</text>
<line x1="49.90" y1="668.80" x2="53.40" y2="668.80" stroke="#000" stroke-width="1.2" stroke-linecap="butt"/>
<text x="47.90" y="671.40" font-size="7.2" font-weight="bold" text-anchor="end" fill="#000">50</text>
<line x1="49.90" y1="697.30" x2="53.40" y2="697.30" stroke="#000" stroke-width="1.2" stroke-linecap="butt"/>
<text x="47.90" y="699.90" font-size="7.2" font-weight="bold" text-anchor="end" fill="#000">0</text>
<line x1="51.40" y1="588.00" x2="53.40" y2="588.00" stroke="#000" stroke-width="0.8" stroke-linecap="butt"/>
<line x1="51.40" y1="593.80" x2="53.40" y2="593.80" stroke="#000" stroke-width="0.8" stroke-linecap="butt"/>
<line x1="51.40" y1="599.60" x2="53.40" y2="599.60" stroke="#000" stroke-width="0.8" stroke-linecap="butt"/>
<line x1="51.40" y1="605.40" x2="53.40" y2="605.40" stroke="#000" stroke-width="0.8" stroke-linecap="butt"/>
<line x1="51.40" y1="616.96" x2="53.40" y2="616.96" stroke="#000" stroke-width="0.8" stroke-linecap="butt"/>
<line x1="51.40" y1="622.72" x2="53.40" y2="622.72" stroke="#000" stroke-width="0.8" stroke-linecap="butt"/>
<line x1="51.40" y1="628.48" x2="53.40" y2="628.48" stroke="#000" stroke-width="0.8" stroke-linecap="butt"/>
<line x1="51.40" y1="634.24" x2="53.40" y2="634.24" stroke="#000" stroke-width="0.8" stroke-linecap="butt"/>
<line x1="51.40" y1="645.76" x2="53.40" y2="645.76" stroke="#000" stroke-width="0.8" stroke-linecap="butt"/>
<line x1="51.40" y1="651.52" x2="53.40" y2="651.52" stroke="#000" stroke-width="0.8" stroke-linecap="butt"/>
<line x1="51.40" y1="657.28" x2="53.40" y2="657.28" stroke="#000" stroke-width="0.8" stroke-linecap="butt"/>
<line x1="51.40" y1="663.04" x2="53.40" y2="663.04" stroke="#000" stroke-width="0.8" stroke-linecap="butt"/>
<line x1="51.40" y1="674.50" x2="53.40" y2="674.50" stroke="#000" stroke-width="0.8" stroke-linecap="butt"/>
<line x1="51.40" y1="680.20" x2="53.40" y2="680.20" stroke="#000" stroke-width="0.8" stroke-linecap="butt"/>
<line x1="51.40" y1="685.90" x2="53.40" y2="685.90" stroke="#000" stroke-width="0.8" stroke-linecap="butt"/>
<line x1="51.40" y1="691.60" x2="53.40" y2="691.60" stroke="#000" stroke-width="0.8" stroke-linecap="butt"/>
<line x1="51.40" y1="576.40" x2="53.40" y2="576.40" stroke="#000" stroke-width="0.8" stroke-linecap="butt"/>
<line x1="51.40" y1="570.60" x2="53.40" y2="570.60" stroke="#000" stroke-width="0.8" stroke-linecap="butt"/>
<line x1="51.40" y1="564.80" x2="53.40" y2="564.80" stroke="#000" stroke-width="0.8" stroke-linecap="butt"/>
<line x1="51.40" y1="559.00" x2="53.40" y2="559.00" stroke="#000" stroke-width="0.8" stroke-linecap="butt"/>
<text x="26.60" y="623.40" font-size="7.5" font-weight="bold" text-anchor="middle" fill="#000" transform="rotate(-90 26.60 623.40)">Count</text>
<text x="126.00" y="725.50" font-size="7.5" font-weight="bold" text-anchor="middle" fill="#000">Comp-PE-A</text>
<line x1="61.70" y1="697.80" x2="61.70" y2="701.30" stroke="#000" stroke-width="1.2" stroke-linecap="butt"/>
<line x1="85.90" y1="697.80" x2="85.90" y2="701.30" stroke="#000" stroke-width="1.2" stroke-linecap="butt"/>
<line x1="109.10" y1="697.80" x2="109.10" y2="701.30" stroke="#000" stroke-width="1.2" stroke-linecap="butt"/>
<line x1="148.50" y1="697.80" x2="148.50" y2="701.30" stroke="#000" stroke-width="1.2" stroke-linecap="butt"/>
<line x1="182.90" y1="697.80" x2="182.90" y2="701.30" stroke="#000" stroke-width="1.2" stroke-linecap="butt"/>
<line x1="120.96" y1="697.80" x2="120.96" y2="700.00" stroke="#000" stroke-width="0.8" stroke-linecap="butt"/>
<line x1="127.90" y1="697.80" x2="127.90" y2="700.00" stroke="#000" stroke-width="0.8" stroke-linecap="butt"/>
<line x1="132.82" y1="697.80" x2="132.82" y2="700.00" stroke="#000" stroke-width="0.8" stroke-linecap="butt"/>
<line x1="136.64" y1="697.80" x2="136.64" y2="700.00" stroke="#000" stroke-width="0.8" stroke-linecap="butt"/>
<line x1="139.76" y1="697.80" x2="139.76" y2="700.00" stroke="#000" stroke-width="0.8" stroke-linecap="butt"/>
<line x1="142.40" y1="697.80" x2="142.40" y2="700.00" stroke="#000" stroke-width="0.8" stroke-linecap="butt"/>
<line x1="144.68" y1="697.80" x2="144.68" y2="700.00" stroke="#000" stroke-width="0.8" stroke-linecap="butt"/>
<line x1="146.70" y1="697.80" x2="146.70" y2="700.00" stroke="#000" stroke-width="0.8" stroke-linecap="butt"/>
<line x1="158.86" y1="697.80" x2="158.86" y2="700.00" stroke="#000" stroke-width="0.8" stroke-linecap="butt"/>
<line x1="164.91" y1="697.80" x2="164.91" y2="700.00" stroke="#000" stroke-width="0.8" stroke-linecap="butt"/>
<line x1="169.21" y1="697.80" x2="169.21" y2="700.00" stroke="#000" stroke-width="0.8" stroke-linecap="butt"/>
<line x1="172.54" y1="697.80" x2="172.54" y2="700.00" stroke="#000" stroke-width="0.8" stroke-linecap="butt"/>
<line x1="175.27" y1="697.80" x2="175.27" y2="700.00" stroke="#000" stroke-width="0.8" stroke-linecap="butt"/>
<line x1="177.57" y1="697.80" x2="177.57" y2="700.00" stroke="#000" stroke-width="0.8" stroke-linecap="butt"/>
<line x1="179.57" y1="697.80" x2="179.57" y2="700.00" stroke="#000" stroke-width="0.8" stroke-linecap="butt"/>
<line x1="181.33" y1="697.80" x2="181.33" y2="700.00" stroke="#000" stroke-width="0.8" stroke-linecap="butt"/>
<line x1="66.54" y1="697.80" x2="66.54" y2="700.00" stroke="#000" stroke-width="0.8" stroke-linecap="butt"/>
<line x1="71.38" y1="697.80" x2="71.38" y2="700.00" stroke="#000" stroke-width="0.8" stroke-linecap="butt"/>
<line x1="76.22" y1="697.80" x2="76.22" y2="700.00" stroke="#000" stroke-width="0.8" stroke-linecap="butt"/>
<line x1="81.06" y1="697.80" x2="81.06" y2="700.00" stroke="#000" stroke-width="0.8" stroke-linecap="butt"/>
<line x1="90.54" y1="697.80" x2="90.54" y2="700.00" stroke="#000" stroke-width="0.8" stroke-linecap="butt"/>
<line x1="95.18" y1="697.80" x2="95.18" y2="700.00" stroke="#000" stroke-width="0.8" stroke-linecap="butt"/>
<line x1="99.82" y1="697.80" x2="99.82" y2="700.00" stroke="#000" stroke-width="0.8" stroke-linecap="butt"/>
<line x1="104.46" y1="697.80" x2="104.46" y2="700.00" stroke="#000" stroke-width="0.8" stroke-linecap="butt"/>
<line x1="56.86" y1="697.80" x2="56.86" y2="700.00" stroke="#000" stroke-width="0.8" stroke-linecap="butt"/>
<text x="61.30" y="713.8" font-size="7.2" font-weight="bold">-10<tspan font-size="5.4" dy="-5.2">3</tspan></text>
<text x="86.60" y="713.80" font-size="7.2" font-weight="bold" text-anchor="start" fill="#000">0</text>
<text x="108.70" y="713.8" font-size="7.2" font-weight="bold">10<tspan font-size="5.4" dy="-5.2">3</tspan></text>
<text x="148.10" y="713.8" font-size="7.2" font-weight="bold">10<tspan font-size="5.4" dy="-5.2">4</tspan></text>
<text x="182.50" y="713.8" font-size="7.2" font-weight="bold">10<tspan font-size="5.4" dy="-5.2">5</tspan></text>
<path d="M83.2,697.8 l0.6,-2.2 l0.8,1.4 l0.7,-1.8 l0.8,2.6 z" fill="#000"/>
<path d="M265.6,697.8 l0.6,-2.0 l0.8,1.2 l0.7,-1.6 l0.8,2.4 z" fill="#000"/>
<path d="M81.7,697.8 L83.5,693.0 L85.0,685.8 L86.0,640.0 L86.8,593.8 L87.6,568.0 L88.3,563.1 L89.1,566.0 L89.9,574.1 L90.8,596.0 L91.6,615.7 L93.2,628.0 L94.9,637.6 L96.5,647.0 L98.2,655.1 L100.4,665.0 L102.6,672.6 L105.8,679.0 L109.1,683.6 L114.6,688.5 L120.1,692.3 L126.5,695.0 L133.2,696.7 L142.0,697.8" fill="none" stroke="#f05a5a" stroke-width="0.9" stroke-linejoin="round"/>
<path d="M81.7,697.8 L84.0,692.0 L86.1,681.4 L87.3,650.0 L88.3,626.6 L89.1,612.0 L89.9,608.7 L90.8,611.0 L91.6,615.7 L92.7,626.0 L93.8,633.2 L95.0,638.0 L96.0,642.0 L97.5,650.0 L99.3,657.3 L101.5,662.0 L103.6,666.0 L106.4,672.0 L109.1,677.0 L110.8,676.0 L112.4,676.6 L114.0,678.0 L115.7,680.3 L118.5,684.5 L121.2,688.0 L123.3,688.5 L125.5,688.4 L128.3,690.0 L131.0,692.3 L133.8,694.5 L136.5,696.3 L142.0,697.3 L148.5,697.4" fill="none" stroke="#000" stroke-width="1.1" stroke-linejoin="round"/>
<rect x="235.30" y="554.60" width="143.80" height="143.20" stroke="#000" stroke-width="1.3" fill="none"/>
<line x1="231.80" y1="561.60" x2="235.30" y2="561.60" stroke="#000" stroke-width="1.2" stroke-linecap="butt"/>
<text x="229.80" y="564.20" font-size="7.2" font-weight="bold" text-anchor="end" fill="#000">120</text>
<line x1="231.80" y1="595.60" x2="235.30" y2="595.60" stroke="#000" stroke-width="1.2" stroke-linecap="butt"/>
<text x="229.80" y="598.20" font-size="7.2" font-weight="bold" text-anchor="end" fill="#000">90</text>
<line x1="231.80" y1="629.60" x2="235.30" y2="629.60" stroke="#000" stroke-width="1.2" stroke-linecap="butt"/>
<text x="229.80" y="632.20" font-size="7.2" font-weight="bold" text-anchor="end" fill="#000">60</text>
<line x1="231.80" y1="663.40" x2="235.30" y2="663.40" stroke="#000" stroke-width="1.2" stroke-linecap="butt"/>
<text x="229.80" y="666.00" font-size="7.2" font-weight="bold" text-anchor="end" fill="#000">30</text>
<line x1="231.80" y1="697.20" x2="235.30" y2="697.20" stroke="#000" stroke-width="1.2" stroke-linecap="butt"/>
<text x="229.80" y="699.80" font-size="7.2" font-weight="bold" text-anchor="end" fill="#000">0</text>
<line x1="233.30" y1="572.93" x2="235.30" y2="572.93" stroke="#000" stroke-width="0.8" stroke-linecap="butt"/>
<line x1="233.30" y1="584.27" x2="235.30" y2="584.27" stroke="#000" stroke-width="0.8" stroke-linecap="butt"/>
<line x1="233.30" y1="606.93" x2="235.30" y2="606.93" stroke="#000" stroke-width="0.8" stroke-linecap="butt"/>
<line x1="233.30" y1="618.27" x2="235.30" y2="618.27" stroke="#000" stroke-width="0.8" stroke-linecap="butt"/>
<line x1="233.30" y1="640.87" x2="235.30" y2="640.87" stroke="#000" stroke-width="0.8" stroke-linecap="butt"/>
<line x1="233.30" y1="652.13" x2="235.30" y2="652.13" stroke="#000" stroke-width="0.8" stroke-linecap="butt"/>
<line x1="233.30" y1="674.67" x2="235.30" y2="674.67" stroke="#000" stroke-width="0.8" stroke-linecap="butt"/>
<line x1="233.30" y1="685.93" x2="235.30" y2="685.93" stroke="#000" stroke-width="0.8" stroke-linecap="butt"/>
<text x="208.50" y="623.40" font-size="7.5" font-weight="bold" text-anchor="middle" fill="#000" transform="rotate(-90 208.50 623.40)">Count</text>
<text x="308.20" y="725.50" font-size="7.5" font-weight="bold" text-anchor="middle" fill="#000">Comp-BV421-A</text>
<line x1="243.60" y1="697.80" x2="243.60" y2="701.30" stroke="#000" stroke-width="1.2" stroke-linecap="butt"/>
<line x1="267.80" y1="697.80" x2="267.80" y2="701.30" stroke="#000" stroke-width="1.2" stroke-linecap="butt"/>
<line x1="291.00" y1="697.80" x2="291.00" y2="701.30" stroke="#000" stroke-width="1.2" stroke-linecap="butt"/>
<line x1="330.40" y1="697.80" x2="330.40" y2="701.30" stroke="#000" stroke-width="1.2" stroke-linecap="butt"/>
<line x1="364.80" y1="697.80" x2="364.80" y2="701.30" stroke="#000" stroke-width="1.2" stroke-linecap="butt"/>
<line x1="302.86" y1="697.80" x2="302.86" y2="700.00" stroke="#000" stroke-width="0.8" stroke-linecap="butt"/>
<line x1="309.80" y1="697.80" x2="309.80" y2="700.00" stroke="#000" stroke-width="0.8" stroke-linecap="butt"/>
<line x1="314.72" y1="697.80" x2="314.72" y2="700.00" stroke="#000" stroke-width="0.8" stroke-linecap="butt"/>
<line x1="318.54" y1="697.80" x2="318.54" y2="700.00" stroke="#000" stroke-width="0.8" stroke-linecap="butt"/>
<line x1="321.66" y1="697.80" x2="321.66" y2="700.00" stroke="#000" stroke-width="0.8" stroke-linecap="butt"/>
<line x1="324.30" y1="697.80" x2="324.30" y2="700.00" stroke="#000" stroke-width="0.8" stroke-linecap="butt"/>
<line x1="326.58" y1="697.80" x2="326.58" y2="700.00" stroke="#000" stroke-width="0.8" stroke-linecap="butt"/>
<line x1="328.60" y1="697.80" x2="328.60" y2="700.00" stroke="#000" stroke-width="0.8" stroke-linecap="butt"/>
<line x1="340.76" y1="697.80" x2="340.76" y2="700.00" stroke="#000" stroke-width="0.8" stroke-linecap="butt"/>
<line x1="346.81" y1="697.80" x2="346.81" y2="700.00" stroke="#000" stroke-width="0.8" stroke-linecap="butt"/>
<line x1="351.11" y1="697.80" x2="351.11" y2="700.00" stroke="#000" stroke-width="0.8" stroke-linecap="butt"/>
<line x1="354.44" y1="697.80" x2="354.44" y2="700.00" stroke="#000" stroke-width="0.8" stroke-linecap="butt"/>
<line x1="357.17" y1="697.80" x2="357.17" y2="700.00" stroke="#000" stroke-width="0.8" stroke-linecap="butt"/>
<line x1="359.47" y1="697.80" x2="359.47" y2="700.00" stroke="#000" stroke-width="0.8" stroke-linecap="butt"/>
<line x1="361.47" y1="697.80" x2="361.47" y2="700.00" stroke="#000" stroke-width="0.8" stroke-linecap="butt"/>
<line x1="363.23" y1="697.80" x2="363.23" y2="700.00" stroke="#000" stroke-width="0.8" stroke-linecap="butt"/>
<line x1="248.44" y1="697.80" x2="248.44" y2="700.00" stroke="#000" stroke-width="0.8" stroke-linecap="butt"/>
<line x1="253.28" y1="697.80" x2="253.28" y2="700.00" stroke="#000" stroke-width="0.8" stroke-linecap="butt"/>
<line x1="258.12" y1="697.80" x2="258.12" y2="700.00" stroke="#000" stroke-width="0.8" stroke-linecap="butt"/>
<line x1="262.96" y1="697.80" x2="262.96" y2="700.00" stroke="#000" stroke-width="0.8" stroke-linecap="butt"/>
<line x1="272.44" y1="697.80" x2="272.44" y2="700.00" stroke="#000" stroke-width="0.8" stroke-linecap="butt"/>
<line x1="277.08" y1="697.80" x2="277.08" y2="700.00" stroke="#000" stroke-width="0.8" stroke-linecap="butt"/>
<line x1="281.72" y1="697.80" x2="281.72" y2="700.00" stroke="#000" stroke-width="0.8" stroke-linecap="butt"/>
<line x1="286.36" y1="697.80" x2="286.36" y2="700.00" stroke="#000" stroke-width="0.8" stroke-linecap="butt"/>
<line x1="238.76" y1="697.80" x2="238.76" y2="700.00" stroke="#000" stroke-width="0.8" stroke-linecap="butt"/>
<text x="243.20" y="713.8" font-size="7.2" font-weight="bold">-10<tspan font-size="5.4" dy="-5.2">3</tspan></text>
<text x="268.50" y="713.80" font-size="7.2" font-weight="bold" text-anchor="start" fill="#000">0</text>
<text x="290.60" y="713.8" font-size="7.2" font-weight="bold">10<tspan font-size="5.4" dy="-5.2">3</tspan></text>
<text x="330.00" y="713.8" font-size="7.2" font-weight="bold">10<tspan font-size="5.4" dy="-5.2">4</tspan></text>
<text x="364.40" y="713.8" font-size="7.2" font-weight="bold">10<tspan font-size="5.4" dy="-5.2">5</tspan></text>
<path d="M267.0,697.8 L269.2,693.0 L271.4,688.0 L273.0,686.0 L274.7,684.7 L276.9,685.5 L279.1,686.9 L281.3,688.5 L283.5,690.1 L286.2,689.5 L288.9,689.0 L292.2,686.5 L295.5,683.6 L298.8,679.5 L302.1,674.8 L304.8,668.5 L307.5,661.7 L309.2,654.0 L310.8,646.3 L312.5,635.0 L314.1,624.4 L316.3,613.0 L318.5,602.6 L319.9,592.0 L321.3,582.8 L322.1,576.0 L322.9,571.9 L323.6,574.0 L324.4,578.5 L325.3,584.0 L326.2,589.4 L327.2,591.5 L328.3,592.7 L329.4,601.0 L330.5,611.3 L331.6,620.0 L332.7,628.8 L334.3,640.0 L336.0,650.7 L337.6,663.0 L339.3,674.8 L341.0,683.0 L342.6,690.1 L344.2,694.5 L345.9,697.1" fill="none" stroke="#f05a5a" stroke-width="0.9" stroke-linejoin="round"/>
<path d="M267.0,697.8 L268.6,694.0 L270.3,690.1 L271.4,685.0 L272.5,681.4 L273.6,678.0 L274.7,676.6 L275.8,677.5 L276.9,680.3 L278.0,683.5 L279.1,686.2 L282.0,687.0 L284.6,687.5 L286.2,686.5 L287.8,685.8 L289.2,684.0 L290.7,682.5 L292.5,682.5 L294.4,682.5 L296.0,678.0 L297.7,674.8 L300.0,671.5 L302.1,669.3 L303.8,663.0 L305.4,657.3 L306.5,654.0 L307.5,651.8 L308.6,640.0 L309.7,632.1 L310.8,630.5 L311.9,629.9 L313.0,624.0 L314.1,617.9 L315.8,606.0 L317.4,596.0 L318.3,599.0 L319.1,600.8 L319.9,597.0 L320.7,596.0 L321.6,598.5 L322.4,598.2 L323.2,596.5 L324.0,596.0 L325.1,599.0 L326.2,602.6 L327.3,612.0 L328.3,624.4 L329.4,635.4 L331.0,641.0 L332.7,646.3 L334.3,655.0 L336.0,666.0 L337.6,675.0 L339.3,683.6 L341.5,690.5 L343.7,695.6 L348.0,697.8" fill="none" stroke="#000" stroke-width="1.1" stroke-linejoin="round"/>
<line x1="252.80" y1="577.40" x2="264.40" y2="577.40" stroke="#000" stroke-width="1.3" stroke-linecap="butt"/>
<line x1="252.80" y1="589.90" x2="264.40" y2="589.90" stroke="#f05a5a" stroke-width="1.3" stroke-linecap="butt"/>
<text x="268.80" y="580.20" font-size="7.8" font-weight="bold" text-anchor="start" fill="#000">si<tspan font-style="italic">NC</tspan></text>
<text x="268.80" y="593.10" font-size="7.8" font-weight="bold" text-anchor="start" fill="#000">si<tspan font-style="italic">Phgdh</tspan></text>
<line x1="439.70" y1="583.50" x2="439.70" y2="648.40" stroke="#000" stroke-width="1.6" stroke-linecap="butt"/>
<line x1="439.70" y1="661.10" x2="439.70" y2="691.70" stroke="#000" stroke-width="1.6" stroke-linecap="butt"/>
<line x1="435.40" y1="644.40" x2="444.00" y2="652.40" stroke="#000" stroke-width="1.5" stroke-linecap="butt"/>
<line x1="435.40" y1="657.10" x2="444.00" y2="665.10" stroke="#000" stroke-width="1.5" stroke-linecap="butt"/>
<line x1="432.70" y1="597.10" x2="439.70" y2="597.10" stroke="#000" stroke-width="1.6" stroke-linecap="butt"/>
<text x="430.40" y="599.98" font-size="8" font-weight="bold" text-anchor="end" fill="#000">6000</text>
<line x1="432.70" y1="623.20" x2="439.70" y2="623.20" stroke="#000" stroke-width="1.6" stroke-linecap="butt"/>
<text x="430.40" y="626.08" font-size="8" font-weight="bold" text-anchor="end" fill="#000">5000</text>
<text x="430.40" y="652.48" font-size="8" font-weight="bold" text-anchor="end" fill="#000">4000</text>
<line x1="432.70" y1="674.10" x2="439.70" y2="674.10" stroke="#000" stroke-width="1.6" stroke-linecap="butt"/>
<text x="430.40" y="676.98" font-size="8" font-weight="bold" text-anchor="end" fill="#000">600</text>
<line x1="432.70" y1="691.70" x2="439.70" y2="691.70" stroke="#000" stroke-width="1.6" stroke-linecap="butt"/>
<text x="430.40" y="694.58" font-size="8" font-weight="bold" text-anchor="end" fill="#000">300</text>
<line x1="432.70" y1="691.70" x2="548.30" y2="691.70" stroke="#000" stroke-width="1.6" stroke-linecap="butt"/>
<line x1="466.60" y1="691.70" x2="466.60" y2="698.70" stroke="#000" stroke-width="1.6" stroke-linecap="butt"/>
<line x1="520.30" y1="691.70" x2="520.30" y2="698.70" stroke="#000" stroke-width="1.6" stroke-linecap="butt"/>
<path d="M450.35,691.70 V665.65 H465.75 V691.70" stroke="#000" stroke-width="1.7" fill="none"/>
<circle cx="454.55" cy="664.50" r="1.90" fill="#fff" stroke="#000" stroke-width="1.4"/>
<circle cx="458.05" cy="664.00" r="2.6" fill="#000"/>
<circle cx="461.55" cy="664.50" r="1.90" fill="#fff" stroke="#000" stroke-width="1.4"/>
<path d="M467.45,691.70 V680.85 H483.25 V691.70" stroke="#ff8080" stroke-width="1.7" fill="none"/>
<rect x="469.45" y="678.10" width="3.80" height="3.80" fill="#fff" stroke="#ff8080" stroke-width="1.5"/>
<rect x="473.45" y="677.10" width="3.80" height="3.80" fill="#fff" stroke="#ff8080" stroke-width="1.5"/>
<rect x="477.45" y="677.60" width="3.80" height="3.80" fill="#fff" stroke="#ff8080" stroke-width="1.5"/>
<path d="M504.35,691.70 V611.95 H519.45 V691.70" stroke="#000" stroke-width="1.7" fill="none"/>
<line x1="511.90" y1="604.50" x2="511.90" y2="617.00" stroke="#000" stroke-width="1.3" stroke-linecap="butt"/>
<line x1="507.70" y1="604.50" x2="516.10" y2="604.50" stroke="#000" stroke-width="1.3" stroke-linecap="butt"/>
<line x1="507.70" y1="617.00" x2="516.10" y2="617.00" stroke="#000" stroke-width="1.3" stroke-linecap="butt"/>
<circle cx="511.90" cy="600.50" r="1.90" fill="#fff" stroke="#000" stroke-width="1.4"/>
<circle cx="511.90" cy="611.00" r="2.6" fill="#000"/>
<circle cx="511.90" cy="620.50" r="1.90" fill="#fff" stroke="#000" stroke-width="1.4"/>
<path d="M521.15,691.70 V610.55 H537.45 V691.70" stroke="#ff8080" stroke-width="1.7" fill="none"/>
<line x1="529.30" y1="602.50" x2="529.30" y2="617.00" stroke="#ff8080" stroke-width="1.3" stroke-linecap="butt"/>
<line x1="525.10" y1="602.50" x2="533.50" y2="602.50" stroke="#ff8080" stroke-width="1.3" stroke-linecap="butt"/>
<line x1="525.10" y1="617.00" x2="533.50" y2="617.00" stroke="#ff8080" stroke-width="1.3" stroke-linecap="butt"/>
<rect x="527.40" y="595.60" width="3.80" height="3.80" fill="#fff" stroke="#ff8080" stroke-width="1.5"/>
<rect x="527.40" y="607.10" width="3.80" height="3.80" fill="#fff" stroke="#ff8080" stroke-width="1.5"/>
<rect x="527.40" y="620.10" width="3.80" height="3.80" fill="#fff" stroke="#ff8080" stroke-width="1.5"/>
<line x1="455.40" y1="653.60" x2="474.30" y2="653.60" stroke="#000" stroke-width="2.5" stroke-linecap="butt"/>
<text x="447.40" y="648.40" font-size="8.3" font-weight="normal" text-anchor="start" fill="#000" stroke="#000" stroke-width="0.35" font-style="italic">P =0.0006</text>
<line x1="512.60" y1="586.50" x2="531.50" y2="586.50" stroke="#000" stroke-width="2.5" stroke-linecap="butt"/>
<text x="502.40" y="580.30" font-size="8.3" font-weight="normal" text-anchor="start" fill="#000" stroke="#000" stroke-width="0.35" font-style="italic">P =0.9183</text>
<text x="406.52" y="638.60" font-size="8.4" font-weight="bold" text-anchor="middle" fill="#000" transform="rotate(-90 406.52 638.60)">Mean fluorescence intensity</text>
<text x="469.5" y="706.5" font-size="8" font-weight="bold" text-anchor="end" transform="rotate(-45 469.5 706.5)">CD86<tspan font-size="6" dy="-3">+</tspan></text>
<text x="523.3" y="706.5" font-size="8" font-weight="bold" text-anchor="end" transform="rotate(-45 523.3 706.5)">CD206<tspan font-size="6" dy="-3">+</tspan></text>
<rect x="560.70" y="553.60" width="13.00" height="5.60" stroke="#000" stroke-width="1.9" fill="none"/>
<text x="579.00" y="558.00" font-size="7.8" font-weight="bold" text-anchor="start" fill="#000">si<tspan font-style="italic">NC</tspan></text>
<rect x="560.70" y="566.30" width="13.00" height="5.60" stroke="#ff8080" stroke-width="1.9" fill="none"/>
<text x="579.00" y="572.00" font-size="7.8" font-weight="bold" text-anchor="start" fill="#000">si<tspan font-style="italic">Phgdh</tspan></text>
<text x="8.70" y="766.60" font-size="12.5" font-weight="bold" text-anchor="start" fill="#000" style='font-family:"Liberation Serif", serif'>e</text>
<rect x="56.30" y="809.90" width="78.20" height="22.70" stroke="#000" stroke-width="1.5" fill="#f7f7f7"/>
<rect x="59.25" y="819.15" width="19.50" height="4.80" rx="2.40" fill="#000" fill-opacity="0.95" filter="url(#bl)"/>
<rect x="85.50" y="819.55" width="15.00" height="4.00" rx="2.00" fill="#000" fill-opacity="0.9" filter="url(#bl)"/>
<rect x="105.05" y="817.30" width="24.50" height="8.50" rx="3.00" fill="#000" fill-opacity="1.0" filter="url(#bl)"/>
<rect x="56.30" y="838.70" width="78.20" height="23.10" stroke="#000" stroke-width="1.5" fill="#f7f7f7"/>
<rect x="61.95" y="848.15" width="19.50" height="4.80" rx="2.40" fill="#000" fill-opacity="0.95" filter="url(#bl)"/>
<rect x="86.40" y="847.55" width="16.00" height="6.00" rx="3.00" fill="#000" fill-opacity="0.97" filter="url(#bl)"/>
<rect x="107.70" y="847.85" width="21.00" height="5.40" rx="2.70" fill="#000" fill-opacity="0.97" filter="url(#bl)"/>
<text x="27.70" y="823.50" font-size="8.4" font-weight="bold" text-anchor="start" fill="#000">Phgdh</text>
<text x="27.70" y="852.50" font-size="8.4" font-weight="bold" text-anchor="start" fill="#000">β-actin</text>
<text x="138.70" y="828.40" font-size="5.8" font-weight="bold" text-anchor="start" fill="#000">57kDa</text>
<text x="138.70" y="851.60" font-size="5.8" font-weight="bold" text-anchor="start" fill="#000">42kDa</text>
<text x="67.50" y="805.00" font-size="8.8" font-weight="bold" text-anchor="start" fill="#000" transform="rotate(-42 67.50 805.00)">Blank</text>
<text x="96.00" y="804.00" font-size="8.8" font-weight="bold" text-anchor="start" fill="#000" transform="rotate(-42 96.00 804.00)">EV</text>
<text x="119.50" y="804.00" font-size="8.8" font-weight="bold" text-anchor="start" fill="#000" transform="rotate(-42 119.50 804.00)">OE</text>
<text x="262.20" y="753.10" font-size="8" font-weight="bold" text-anchor="start" fill="#000" font-style="italic">Phgdh</text>
<line x1="221.50" y1="772.00" x2="221.50" y2="881.10" stroke="#000" stroke-width="1.6" stroke-linecap="butt"/>
<line x1="214.50" y1="789.90" x2="221.50" y2="789.90" stroke="#000" stroke-width="1.6" stroke-linecap="butt"/>
<text x="212.20" y="792.78" font-size="8" font-weight="bold" text-anchor="end" fill="#000">1.6</text>
<line x1="214.50" y1="823.30" x2="221.50" y2="823.30" stroke="#000" stroke-width="1.6" stroke-linecap="butt"/>
<text x="212.20" y="826.18" font-size="8" font-weight="bold" text-anchor="end" fill="#000">1.2</text>
<line x1="214.50" y1="856.60" x2="221.50" y2="856.60" stroke="#000" stroke-width="1.6" stroke-linecap="butt"/>
<text x="212.20" y="859.48" font-size="8" font-weight="bold" text-anchor="end" fill="#000">0.8</text>
<line x1="220.70" y1="881.10" x2="329.80" y2="881.10" stroke="#000" stroke-width="1.6" stroke-linecap="butt"/>
<line x1="247.80" y1="881.10" x2="247.80" y2="888.10" stroke="#000" stroke-width="1.6" stroke-linecap="butt"/>
<line x1="301.60" y1="881.10" x2="301.60" y2="888.10" stroke="#000" stroke-width="1.6" stroke-linecap="butt"/>
<path d="M231.55,881.10 V841.25 H246.95 V881.10" stroke="#000" stroke-width="1.7" fill="none"/>
<circle cx="235.75" cy="839.00" r="1.90" fill="#fff" stroke="#000" stroke-width="1.4"/>
<circle cx="239.25" cy="836.50" r="1.90" fill="#fff" stroke="#000" stroke-width="1.4"/>
<circle cx="242.75" cy="839.50" r="1.90" fill="#fff" stroke="#000" stroke-width="1.4"/>
<path d="M248.65,881.10 V807.55 H265.35 V881.10" stroke="#a80000" stroke-width="1.7" fill="none"/>
<rect x="250.60" y="805.60" width="3.80" height="3.80" fill="#fff" stroke="#a80000" stroke-width="1.5"/>
<rect x="255.10" y="802.60" width="3.80" height="3.80" fill="#fff" stroke="#a80000" stroke-width="1.5"/>
<rect x="259.60" y="805.10" width="3.80" height="3.80" fill="#fff" stroke="#a80000" stroke-width="1.5"/>
<path d="M285.15,881.10 V852.25 H300.75 V881.10" stroke="#000" stroke-width="1.7" fill="none"/>
<line x1="292.95" y1="846.00" x2="292.95" y2="857.00" stroke="#000" stroke-width="1.3" stroke-linecap="butt"/>
<line x1="288.75" y1="846.00" x2="297.15" y2="846.00" stroke="#000" stroke-width="1.3" stroke-linecap="butt"/>
<line x1="288.75" y1="857.00" x2="297.15" y2="857.00" stroke="#000" stroke-width="1.3" stroke-linecap="butt"/>
<circle cx="292.95" cy="843.00" r="1.90" fill="#fff" stroke="#000" stroke-width="1.4"/>
<circle cx="292.95" cy="852.00" r="2.6" fill="#000"/>
<circle cx="292.95" cy="860.00" r="1.90" fill="#fff" stroke="#000" stroke-width="1.4"/>
<path d="M302.45,881.10 V792.55 H318.95 V881.10" stroke="#a80000" stroke-width="1.7" fill="none"/>
<line x1="310.70" y1="789.00" x2="310.70" y2="794.00" stroke="#a80000" stroke-width="1.3" stroke-linecap="butt"/>
<line x1="306.50" y1="789.00" x2="314.90" y2="789.00" stroke="#a80000" stroke-width="1.3" stroke-linecap="butt"/>
<line x1="306.50" y1="794.00" x2="314.90" y2="794.00" stroke="#a80000" stroke-width="1.3" stroke-linecap="butt"/>
<rect x="308.80" y="784.60" width="3.80" height="3.80" fill="#fff" stroke="#a80000" stroke-width="1.5"/>
<rect x="305.30" y="790.10" width="3.80" height="3.80" fill="#fff" stroke="#a80000" stroke-width="1.5"/>
<rect x="312.30" y="790.60" width="3.80" height="3.80" fill="#fff" stroke="#a80000" stroke-width="1.5"/>
<line x1="241.00" y1="796.20" x2="258.00" y2="796.20" stroke="#000" stroke-width="2.5" stroke-linecap="butt"/>
<text x="229.40" y="792.50" font-size="8.3" font-weight="normal" text-anchor="start" fill="#000" stroke="#000" stroke-width="0.35" font-style="italic">P&lt;0.0001</text>
<line x1="293.80" y1="779.10" x2="310.60" y2="779.10" stroke="#000" stroke-width="2.5" stroke-linecap="butt"/>
<text x="282.50" y="774.70" font-size="8.3" font-weight="normal" text-anchor="start" fill="#000" stroke="#000" stroke-width="0.35" font-style="italic">P=0.0004</text>
<text x="194.02" y="827.90" font-size="8.4" font-weight="bold" text-anchor="middle" fill="#000" transform="rotate(-90 194.02 827.90)">Relative mRNA expression</text>
<text x="251.30" y="894.60" font-size="8.5" font-weight="bold" text-anchor="end" fill="#000" transform="rotate(-45 251.30 894.60)">PBS</text>
<text x="305.10" y="894.60" font-size="8.5" font-weight="bold" text-anchor="end" fill="#000" transform="rotate(-45 305.10 894.60)">PAO1</text>
<text x="420.10" y="756.30" font-size="8" font-weight="bold" text-anchor="start" fill="#000" font-style="italic">Il6</text>
<line x1="370.20" y1="771.30" x2="370.20" y2="839.40" stroke="#000" stroke-width="1.6" stroke-linecap="butt"/>
<line x1="370.20" y1="850.30" x2="370.20" y2="879.80" stroke="#000" stroke-width="1.6" stroke-linecap="butt"/>
<line x1="365.90" y1="835.40" x2="374.50" y2="843.40" stroke="#000" stroke-width="1.5" stroke-linecap="butt"/>
<line x1="365.90" y1="846.30" x2="374.50" y2="854.30" stroke="#000" stroke-width="1.5" stroke-linecap="butt"/>
<line x1="363.20" y1="789.10" x2="370.20" y2="789.10" stroke="#000" stroke-width="1.6" stroke-linecap="butt"/>
<text x="360.90" y="791.98" font-size="8" font-weight="bold" text-anchor="end" fill="#000">100</text>
<line x1="363.20" y1="809.60" x2="370.20" y2="809.60" stroke="#000" stroke-width="1.6" stroke-linecap="butt"/>
<text x="360.90" y="812.48" font-size="8" font-weight="bold" text-anchor="end" fill="#000">75</text>
<line x1="363.20" y1="830.40" x2="370.20" y2="830.40" stroke="#000" stroke-width="1.6" stroke-linecap="butt"/>
<text x="360.90" y="833.28" font-size="8" font-weight="bold" text-anchor="end" fill="#000">50</text>
<text x="360.90" y="854.58" font-size="8" font-weight="bold" text-anchor="end" fill="#000">2</text>
<line x1="363.20" y1="865.80" x2="370.20" y2="865.80" stroke="#000" stroke-width="1.6" stroke-linecap="butt"/>
<text x="360.90" y="868.68" font-size="8" font-weight="bold" text-anchor="end" fill="#000">1</text>
<line x1="363.20" y1="879.80" x2="370.20" y2="879.80" stroke="#000" stroke-width="1.6" stroke-linecap="butt"/>
<text x="360.90" y="882.68" font-size="8" font-weight="bold" text-anchor="end" fill="#000">0</text>
<line x1="363.60" y1="879.80" x2="478.50" y2="879.80" stroke="#000" stroke-width="1.6" stroke-linecap="butt"/>
<line x1="396.50" y1="879.80" x2="396.50" y2="886.80" stroke="#000" stroke-width="1.6" stroke-linecap="butt"/>
<line x1="450.90" y1="879.80" x2="450.90" y2="886.80" stroke="#000" stroke-width="1.6" stroke-linecap="butt"/>
<path d="M380.25,879.80 V866.95 H395.65 V879.80" stroke="#000" stroke-width="1.7" fill="none"/>
<circle cx="382.45" cy="866.00" r="2.6" fill="#000"/>
<circle cx="387.95" cy="864.00" r="1.90" fill="#fff" stroke="#000" stroke-width="1.4"/>
<circle cx="393.45" cy="866.00" r="1.90" fill="#fff" stroke="#000" stroke-width="1.4"/>
<path d="M397.35,879.80 V868.25 H414.05 V879.80" stroke="#a80000" stroke-width="1.7" fill="none"/>
<rect x="398.80" y="866.10" width="3.80" height="3.80" fill="#fff" stroke="#a80000" stroke-width="1.5"/>
<rect x="403.80" y="864.60" width="3.80" height="3.80" fill="#fff" stroke="#a80000" stroke-width="1.5"/>
<rect x="408.80" y="865.10" width="3.80" height="3.80" fill="#fff" stroke="#a80000" stroke-width="1.5"/>
<path d="M434.65,879.80 V808.35 H450.05 V879.80" stroke="#000" stroke-width="1.7" fill="none"/>
<circle cx="436.85" cy="808.00" r="2.6" fill="#000"/>
<circle cx="442.35" cy="806.50" r="1.90" fill="#fff" stroke="#000" stroke-width="1.4"/>
<circle cx="447.85" cy="806.50" r="1.90" fill="#fff" stroke="#000" stroke-width="1.4"/>
<path d="M451.75,879.80 V797.85 H467.85 V879.80" stroke="#a80000" stroke-width="1.7" fill="none"/>
<line x1="459.80" y1="793.00" x2="459.80" y2="802.00" stroke="#a80000" stroke-width="1.3" stroke-linecap="butt"/>
<line x1="455.60" y1="793.00" x2="464.00" y2="793.00" stroke="#a80000" stroke-width="1.3" stroke-linecap="butt"/>
<line x1="455.60" y1="802.00" x2="464.00" y2="802.00" stroke="#a80000" stroke-width="1.3" stroke-linecap="butt"/>
<rect x="454.40" y="790.10" width="3.80" height="3.80" fill="#fff" stroke="#a80000" stroke-width="1.5"/>
<rect x="461.40" y="793.10" width="3.80" height="3.80" fill="#fff" stroke="#a80000" stroke-width="1.5"/>
<rect x="457.90" y="799.60" width="3.80" height="3.80" fill="#fff" stroke="#a80000" stroke-width="1.5"/>
<line x1="388.60" y1="855.30" x2="405.70" y2="855.30" stroke="#000" stroke-width="2.5" stroke-linecap="butt"/>
<text x="380.00" y="851.40" font-size="8.3" font-weight="normal" text-anchor="start" fill="#000" stroke="#000" stroke-width="0.35" font-style="italic">P=0.1431</text>
<line x1="442.50" y1="784.70" x2="459.50" y2="784.70" stroke="#000" stroke-width="2.5" stroke-linecap="butt"/>
<text x="433.80" y="780.40" font-size="8.3" font-weight="normal" text-anchor="start" fill="#000" stroke="#000" stroke-width="0.35" font-style="italic">P=0.0217</text>
<text x="341.22" y="826.60" font-size="8.4" font-weight="bold" text-anchor="middle" fill="#000" transform="rotate(-90 341.22 826.60)">Relative mRNA expression</text>
<text x="400.00" y="893.30" font-size="8.5" font-weight="bold" text-anchor="end" fill="#000" transform="rotate(-45 400.00 893.30)">PBS</text>
<text x="454.40" y="893.30" font-size="8.5" font-weight="bold" text-anchor="end" fill="#000" transform="rotate(-45 454.40 893.30)">PAO1</text>
<text x="562.80" y="757.10" font-size="8" font-weight="bold" text-anchor="start" fill="#000" font-style="italic">Il1b</text>
<line x1="516.40" y1="771.70" x2="516.40" y2="840.20" stroke="#000" stroke-width="1.6" stroke-linecap="butt"/>
<line x1="516.40" y1="851.20" x2="516.40" y2="880.30" stroke="#000" stroke-width="1.6" stroke-linecap="butt"/>
<line x1="512.10" y1="836.20" x2="520.70" y2="844.20" stroke="#000" stroke-width="1.5" stroke-linecap="butt"/>
<line x1="512.10" y1="847.20" x2="520.70" y2="855.20" stroke="#000" stroke-width="1.5" stroke-linecap="butt"/>
<line x1="509.40" y1="772.80" x2="516.40" y2="772.80" stroke="#000" stroke-width="1.6" stroke-linecap="butt"/>
<text x="507.10" y="775.68" font-size="8" font-weight="bold" text-anchor="end" fill="#000">40</text>
<line x1="509.40" y1="791.40" x2="516.40" y2="791.40" stroke="#000" stroke-width="1.6" stroke-linecap="butt"/>
<text x="507.10" y="794.28" font-size="8" font-weight="bold" text-anchor="end" fill="#000">30</text>
<line x1="509.40" y1="810.70" x2="516.40" y2="810.70" stroke="#000" stroke-width="1.6" stroke-linecap="butt"/>
<text x="507.10" y="813.58" font-size="8" font-weight="bold" text-anchor="end" fill="#000">20</text>
<line x1="509.40" y1="829.80" x2="516.40" y2="829.80" stroke="#000" stroke-width="1.6" stroke-linecap="butt"/>
<text x="507.10" y="832.68" font-size="8" font-weight="bold" text-anchor="end" fill="#000">10</text>
<text x="507.10" y="855.08" font-size="8" font-weight="bold" text-anchor="end" fill="#000">2</text>
<line x1="509.40" y1="866.10" x2="516.40" y2="866.10" stroke="#000" stroke-width="1.6" stroke-linecap="butt"/>
<text x="507.10" y="868.98" font-size="8" font-weight="bold" text-anchor="end" fill="#000">1</text>
<line x1="509.40" y1="880.30" x2="516.40" y2="880.30" stroke="#000" stroke-width="1.6" stroke-linecap="butt"/>
<text x="507.10" y="883.18" font-size="8" font-weight="bold" text-anchor="end" fill="#000">0</text>
<line x1="509.50" y1="880.30" x2="624.50" y2="880.30" stroke="#000" stroke-width="1.6" stroke-linecap="butt"/>
<line x1="542.30" y1="880.30" x2="542.30" y2="887.30" stroke="#000" stroke-width="1.6" stroke-linecap="butt"/>
<line x1="597.00" y1="880.30" x2="597.00" y2="887.30" stroke="#000" stroke-width="1.6" stroke-linecap="butt"/>
<path d="M526.05,880.30 V866.65 H541.45 V880.30" stroke="#000" stroke-width="1.7" fill="none"/>
<line x1="533.75" y1="860.00" x2="533.75" y2="871.00" stroke="#000" stroke-width="1.3" stroke-linecap="butt"/>
<line x1="529.55" y1="860.00" x2="537.95" y2="860.00" stroke="#000" stroke-width="1.3" stroke-linecap="butt"/>
<line x1="529.55" y1="871.00" x2="537.95" y2="871.00" stroke="#000" stroke-width="1.3" stroke-linecap="butt"/>
<circle cx="533.75" cy="858.50" r="1.90" fill="#fff" stroke="#000" stroke-width="1.4"/>
<circle cx="533.75" cy="864.00" r="2.6" fill="#000"/>
<circle cx="533.75" cy="869.50" r="1.90" fill="#fff" stroke="#000" stroke-width="1.4"/>
<path d="M543.15,880.30 V864.35 H559.35 V880.30" stroke="#a80000" stroke-width="1.7" fill="none"/>
<line x1="551.25" y1="859.50" x2="551.25" y2="868.00" stroke="#a80000" stroke-width="1.3" stroke-linecap="butt"/>
<line x1="547.05" y1="859.50" x2="555.45" y2="859.50" stroke="#a80000" stroke-width="1.3" stroke-linecap="butt"/>
<line x1="547.05" y1="868.00" x2="555.45" y2="868.00" stroke="#a80000" stroke-width="1.3" stroke-linecap="butt"/>
<rect x="545.85" y="856.60" width="3.80" height="3.80" fill="#fff" stroke="#a80000" stroke-width="1.5"/>
<rect x="552.85" y="858.60" width="3.80" height="3.80" fill="#fff" stroke="#a80000" stroke-width="1.5"/>
<rect x="549.35" y="866.10" width="3.80" height="3.80" fill="#fff" stroke="#a80000" stroke-width="1.5"/>
<path d="M580.75,880.30 V820.75 H596.15 V880.30" stroke="#000" stroke-width="1.7" fill="none"/>
<circle cx="581.45" cy="820.50" r="2.6" fill="#000"/>
<circle cx="588.45" cy="818.50" r="1.90" fill="#fff" stroke="#000" stroke-width="1.4"/>
<circle cx="595.45" cy="820.50" r="2.6" fill="#000"/>
<path d="M597.85,880.30 V779.45 H613.15 V880.30" stroke="#a80000" stroke-width="1.7" fill="none"/>
<line x1="605.50" y1="775.00" x2="605.50" y2="782.00" stroke="#a80000" stroke-width="1.3" stroke-linecap="butt"/>
<line x1="601.30" y1="775.00" x2="609.70" y2="775.00" stroke="#a80000" stroke-width="1.3" stroke-linecap="butt"/>
<line x1="601.30" y1="782.00" x2="609.70" y2="782.00" stroke="#a80000" stroke-width="1.3" stroke-linecap="butt"/>
<rect x="599.60" y="772.10" width="3.80" height="3.80" fill="#fff" stroke="#a80000" stroke-width="1.5"/>
<rect x="607.60" y="775.60" width="3.80" height="3.80" fill="#fff" stroke="#a80000" stroke-width="1.5"/>
<rect x="603.60" y="781.10" width="3.80" height="3.80" fill="#fff" stroke="#a80000" stroke-width="1.5"/>
<line x1="531.80" y1="844.80" x2="550.20" y2="844.80" stroke="#000" stroke-width="2.5" stroke-linecap="butt"/>
<text x="522.60" y="839.60" font-size="8.3" font-weight="normal" text-anchor="start" fill="#000" stroke="#000" stroke-width="0.35" font-style="italic">P=0.6009</text>
<line x1="586.50" y1="768.60" x2="604.00" y2="768.60" stroke="#000" stroke-width="2.5" stroke-linecap="butt"/>
<text x="577.30" y="764.20" font-size="8.3" font-weight="normal" text-anchor="start" fill="#000" stroke="#000" stroke-width="0.35" font-style="italic">P=0.0001</text>
<text x="492.02" y="826.60" font-size="8.4" font-weight="bold" text-anchor="middle" fill="#000" transform="rotate(-90 492.02 826.60)">Relative mRNA expression</text>
<text x="545.80" y="893.80" font-size="8.5" font-weight="bold" text-anchor="end" fill="#000" transform="rotate(-45 545.80 893.80)">PBS</text>
<text x="600.50" y="893.80" font-size="8.5" font-weight="bold" text-anchor="end" fill="#000" transform="rotate(-45 600.50 893.80)">PAO1</text>
<rect x="630.95" y="741.15" width="11.80" height="5.20" stroke="#000" stroke-width="1.9" fill="none"/>
<text x="649.00" y="745.50" font-size="7.6" font-weight="bold" text-anchor="start" fill="#000" font-style="italic">EV</text>
<rect x="630.95" y="753.05" width="11.80" height="5.20" stroke="#a80000" stroke-width="1.9" fill="none"/>
<text x="649.00" y="759.00" font-size="7.6" font-weight="bold" text-anchor="start" fill="#000" font-style="italic">OE</text>
</svg>
</body></html>
